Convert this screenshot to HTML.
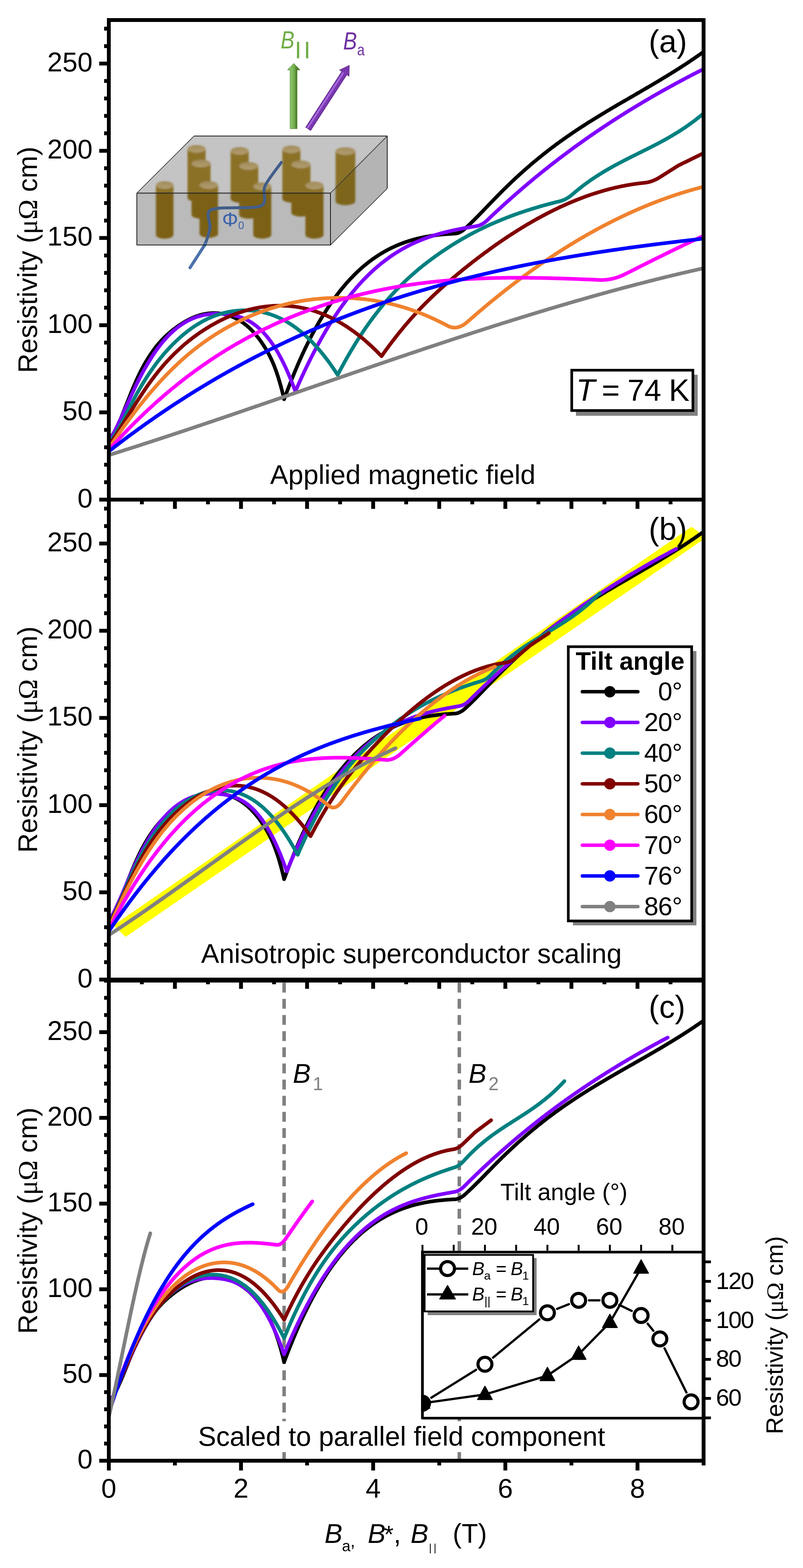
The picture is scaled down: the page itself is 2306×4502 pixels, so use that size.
<!DOCTYPE html><html><head><meta charset="utf-8"><style>html,body{margin:0;padding:0;background:#fff}svg{display:block}</style></head><body>
<svg width="2306" height="4502" viewBox="0 0 2306 4502" font-family="Liberation Sans, Arial, sans-serif">
<rect width="100%" height="100%" fill="#fff"/>
<defs>
<clipPath id="clipa"><rect x="318" y="63.0" width="1697" height="1366.0"/></clipPath>
<clipPath id="clipb"><rect x="318" y="1440.0" width="1697" height="1367.0"/></clipPath>
<clipPath id="clipc"><rect x="318" y="2821.3" width="1697" height="1367.2"/></clipPath>
<filter id="blur" x="-20%" y="-20%" width="140%" height="140%"><feGaussianBlur stdDeviation="2.8"/></filter>
</defs>
<polygon points="325.6,2657 360.9,2689.9 2028.4,1542.9 1985.7,1512.4" fill="#FFFF00"/>
<line x1="815.9" y1="2815.8" x2="815.9" y2="4194" stroke="#808080" stroke-width="10" stroke-dasharray="28.2 18.17" stroke-dashoffset="-5.8"/>
<line x1="1319.0" y1="2815.8" x2="1319.0" y2="4194" stroke="#808080" stroke-width="10" stroke-dasharray="28.2 18.17" stroke-dashoffset="-5.8"/>
<g clip-path="url(#clipa)" fill="none" stroke-width="10.5" stroke-linejoin="round" stroke-linecap="round">
<path d="M312.5,1260.2L316.3,1256.9L320.1,1252.5L323.9,1247.3L327.7,1241.2L331.5,1234.4L335.3,1226.9L339.1,1218.9L342.9,1210.4L346.7,1201.6L350.5,1192.4L354.3,1183.2L358.0,1173.7L361.8,1164.2L365.6,1154.7L369.4,1145.2L373.2,1135.7L377.0,1126.3L380.8,1117.1L384.6,1108.0L388.4,1099.2L392.2,1090.7L396.0,1082.5L399.8,1074.5L403.6,1066.9L407.4,1059.5L411.2,1052.4L415.0,1045.5L418.8,1038.9L422.6,1032.6L426.4,1026.5L430.2,1020.6L434.0,1014.9L437.8,1009.5L441.6,1004.2L445.3,999.2L449.1,994.3L452.9,989.7L456.7,985.2L460.5,980.9L464.3,976.8L468.1,972.8L471.9,968.9L475.7,965.2L479.5,961.7L483.3,958.3L487.1,955.0L490.9,951.8L494.7,948.7L498.5,945.7L502.3,942.8L506.1,940.0L509.9,937.2L513.7,934.6L517.5,932.1L521.3,929.6L525.1,927.2L528.8,924.9L532.6,922.7L536.4,920.6L540.2,918.6L544.0,916.7L547.8,914.8L551.6,913.1L555.4,911.5L559.2,909.9L563.0,908.5L566.8,907.1L570.6,905.9L574.4,904.7L578.2,903.7L582.0,902.7L585.8,901.9L589.6,901.1L593.4,900.5L597.2,899.9L601.0,899.5L604.8,899.2L608.6,898.9L612.4,898.8L616.1,898.8L619.9,898.9L623.7,899.1L627.5,899.4L631.3,899.9L635.1,900.4L638.9,901.1L642.7,901.8L646.5,902.7L650.3,903.7L654.1,904.8L657.9,906.1L661.7,907.4L665.5,908.9L669.3,910.5L673.1,912.2L676.9,914.0L680.7,916.0L684.5,918.1L688.3,920.3L692.1,922.7L695.9,925.3L699.7,928.0L703.4,930.8L707.2,933.8L711.0,937.0L714.8,940.4L718.6,944.0L722.4,947.8L726.2,951.7L730.0,955.9L733.8,960.2L737.6,964.8L741.4,969.6L745.2,974.6L749.0,979.9L752.8,985.4L756.6,991.1L760.4,997.1L764.2,1003.3L768.0,1009.8L771.8,1016.8L775.6,1024.1L779.4,1032.0L783.2,1040.4L787.0,1049.5L790.7,1059.3L794.5,1069.8L798.3,1081.2L802.1,1093.5L805.9,1106.7L809.7,1121.0L813.5,1136.3L815.9,1146.5L819.7,1136.2L823.5,1126.0L827.3,1116.0L831.1,1106.1L834.9,1096.4L838.7,1086.9L842.5,1077.5L846.3,1068.3L850.1,1059.3L853.8,1050.4L857.6,1041.6L861.4,1033.0L865.2,1024.6L869.0,1016.3L872.8,1008.1L876.6,1000.1L880.4,992.3L884.2,984.5L888.0,977.0L891.8,969.5L895.6,962.2L899.4,955.0L903.2,948.0L907.0,941.1L910.8,934.3L914.6,927.6L918.4,921.1L922.2,914.7L926.0,908.4L929.8,902.2L933.6,896.2L937.4,890.2L941.1,884.4L944.9,878.7L948.7,873.1L952.5,867.6L956.3,862.2L960.1,856.9L963.9,851.7L967.7,846.7L971.5,841.7L975.3,836.8L979.1,832.1L982.9,827.4L986.7,822.8L990.5,818.3L994.3,813.9L998.1,809.6L1001.9,805.4L1005.7,801.3L1009.5,797.3L1013.3,793.4L1017.1,789.5L1020.9,785.7L1024.6,782.1L1028.4,778.5L1032.2,775.0L1036.0,771.5L1039.8,768.2L1043.6,764.9L1047.4,761.7L1051.2,758.6L1055.0,755.6L1058.8,752.6L1062.6,749.7L1066.4,746.9L1070.2,744.1L1074.0,741.4L1077.8,738.8L1081.6,736.3L1085.4,733.8L1089.2,731.4L1093.0,729.0L1096.8,726.7L1100.6,724.5L1104.4,722.3L1108.2,720.2L1111.9,718.1L1115.7,716.1L1119.5,714.2L1123.3,712.3L1127.1,710.5L1130.9,708.7L1134.7,707.0L1138.5,705.3L1142.3,703.7L1146.1,702.1L1149.9,700.6L1153.7,699.1L1157.5,697.7L1161.3,696.3L1165.1,694.9L1168.9,693.7L1172.7,692.4L1176.5,691.2L1180.3,690.1L1184.1,688.9L1187.9,687.9L1191.7,686.8L1195.5,685.8L1199.2,684.9L1203.0,684.0L1206.8,683.1L1210.6,682.3L1214.4,681.4L1218.2,680.7L1222.0,679.9L1225.8,679.2L1229.6,678.6L1233.4,677.9L1237.2,677.3L1241.0,676.8L1244.8,676.2L1248.6,675.7L1252.4,675.2L1256.2,674.7L1260.0,674.3L1263.8,673.9L1267.6,673.5L1271.4,673.1L1275.2,672.8L1279.0,672.5L1282.8,672.2L1286.5,671.9L1290.3,671.7L1294.1,671.4L1297.9,671.2L1301.7,671.0L1305.5,670.8L1309.2,670.5L1312.9,669.7L1316.6,668.6L1320.4,667.0L1324.1,665.0L1327.9,662.6L1331.6,659.8L1335.4,656.6L1339.2,653.1L1343.0,649.5L1346.8,645.9L1350.6,642.2L1354.4,638.5L1358.2,634.8L1362.0,631.0L1365.8,627.2L1369.6,623.3L1373.4,619.5L1377.2,615.6L1381.0,611.7L1384.8,607.8L1388.6,603.9L1392.3,600.0L1396.1,596.0L1399.9,592.1L1403.7,588.1L1407.5,584.2L1411.3,580.2L1415.1,576.3L1418.9,572.4L1422.7,568.5L1426.5,564.6L1430.3,560.7L1434.1,556.9L1437.9,553.0L1441.7,549.2L1445.5,545.4L1449.3,541.7L1453.1,538.0L1456.9,534.3L1460.7,530.6L1464.5,526.9L1468.3,523.3L1472.1,519.7L1475.9,516.1L1479.6,512.6L1483.4,509.1L1487.2,505.6L1491.0,502.1L1494.8,498.7L1498.6,495.3L1502.4,491.9L1506.2,488.5L1510.0,485.2L1513.8,481.9L1517.6,478.6L1521.4,475.3L1525.2,472.1L1529.0,468.8L1532.8,465.6L1536.6,462.5L1540.4,459.3L1544.2,456.2L1548.0,453.1L1551.8,450.0L1555.6,447.0L1559.4,443.9L1563.2,440.9L1566.9,437.9L1570.7,435.0L1574.5,432.0L1578.3,429.1L1582.1,426.2L1585.9,423.3L1589.7,420.5L1593.5,417.6L1597.3,414.8L1601.1,412.0L1604.9,409.3L1608.7,406.5L1612.5,403.8L1616.3,401.1L1620.1,398.4L1623.9,395.7L1627.7,393.0L1631.5,390.4L1635.3,387.8L1639.1,385.2L1642.9,382.6L1646.7,380.0L1650.4,377.5L1654.2,374.9L1658.0,372.4L1661.8,369.9L1665.6,367.4L1669.4,364.9L1673.2,362.5L1677.0,360.0L1680.8,357.6L1684.6,355.2L1688.4,352.7L1692.2,350.3L1696.0,348.0L1699.8,345.6L1703.6,343.2L1707.4,340.9L1711.2,338.5L1715.0,336.2L1718.8,333.9L1722.6,331.5L1726.4,329.2L1730.2,326.9L1734.0,324.7L1737.7,322.4L1741.5,320.1L1745.3,317.8L1749.1,315.6L1752.9,313.3L1756.7,311.1L1760.5,308.8L1764.3,306.6L1768.1,304.4L1771.9,302.1L1775.7,299.9L1779.5,297.7L1783.3,295.5L1787.1,293.3L1790.9,291.1L1794.7,288.9L1798.5,286.7L1802.3,284.5L1806.1,282.3L1809.9,280.1L1813.7,277.9L1817.5,275.7L1821.3,273.5L1825.0,271.3L1828.8,269.1L1832.6,266.9L1836.4,264.7L1840.2,262.5L1844.0,260.2L1847.8,258.0L1851.6,255.8L1855.4,253.6L1859.2,251.4L1863.0,249.2L1866.8,246.9L1870.6,244.7L1874.4,242.5L1878.2,240.2L1882.0,238.0L1885.8,235.7L1889.6,233.5L1893.4,231.2L1897.2,228.9L1901.0,226.6L1904.8,224.3L1908.5,222.0L1912.3,219.7L1916.1,217.4L1919.9,215.1L1923.7,212.8L1927.5,210.4L1931.3,208.0L1935.1,205.7L1938.9,203.3L1942.7,200.9L1946.5,198.5L1950.3,196.1L1954.1,193.7L1957.9,191.2L1961.7,188.8L1965.5,186.3L1969.3,183.8L1973.1,181.3L1976.9,178.8L1980.7,176.3L1984.5,173.7L1988.3,171.2L1992.1,168.6L1995.8,166.0L1999.6,163.4L2003.4,160.8L2007.2,158.1L2011.0,155.5L2014.8,152.8L2018.6,150.1L2020.5,148.7" stroke="#000000"/>
<path d="M312.5,1269.8L316.3,1263.2L320.1,1256.2L323.9,1249.1L327.7,1241.7L331.5,1234.1L335.3,1226.3L339.1,1218.4L342.9,1210.3L346.7,1202.1L350.5,1193.9L354.3,1185.5L358.0,1177.1L361.8,1168.7L365.6,1160.3L369.4,1151.9L373.2,1143.6L377.0,1135.3L380.8,1127.1L384.6,1119.0L388.4,1111.0L392.2,1103.2L396.0,1095.6L399.8,1088.1L403.6,1080.8L407.4,1073.6L411.2,1066.6L415.0,1059.8L418.8,1053.1L422.6,1046.6L426.4,1040.3L430.2,1034.1L434.0,1028.1L437.8,1022.2L441.6,1016.5L445.3,1011.0L449.1,1005.6L452.9,1000.3L456.7,995.3L460.5,990.4L464.3,985.6L468.1,981.0L471.9,976.6L475.7,972.3L479.5,968.1L483.3,964.2L487.1,960.3L490.9,956.6L494.7,953.1L498.5,949.6L502.3,946.4L506.1,943.2L509.9,940.2L513.7,937.3L517.5,934.6L521.3,932.0L525.1,929.5L528.8,927.1L532.6,924.8L536.4,922.7L540.2,920.6L544.0,918.7L547.8,916.9L551.6,915.2L555.4,913.7L559.2,912.2L563.0,910.8L566.8,909.5L570.6,908.3L574.4,907.3L578.2,906.3L582.0,905.4L585.8,904.5L589.6,903.8L593.4,903.2L597.2,902.6L601.0,902.1L604.8,901.7L608.6,901.4L612.4,901.2L616.1,901.0L619.9,900.9L623.7,900.8L627.5,900.9L631.3,900.9L635.1,901.1L638.9,901.3L642.7,901.5L646.5,901.9L650.3,902.2L654.1,902.6L657.9,903.1L661.7,903.7L665.5,904.3L669.3,905.0L673.1,905.8L676.9,906.7L680.7,907.7L684.5,908.8L688.3,909.9L692.1,911.2L695.9,912.6L699.7,914.2L703.4,915.8L707.2,917.6L711.0,919.5L714.8,921.6L718.6,923.8L722.4,926.1L726.2,928.6L730.0,931.3L733.8,934.2L737.6,937.2L741.4,940.4L745.2,943.7L749.0,947.3L752.8,951.0L756.6,955.0L760.4,959.1L764.2,963.5L768.0,968.1L771.8,972.9L775.6,977.9L779.4,983.1L783.2,988.6L787.0,994.3L790.7,1000.3L794.5,1006.5L798.3,1012.9L802.1,1019.7L805.9,1026.6L809.7,1033.9L813.5,1041.4L817.3,1049.2L821.1,1057.3L824.9,1065.7L828.7,1074.4L832.5,1083.4L836.3,1092.7L840.1,1102.3L843.9,1112.2L847.7,1122.4L848.2,1124.0L852.0,1115.2L855.8,1106.6L859.6,1098.0L863.4,1089.6L867.2,1081.3L871.0,1073.1L874.8,1065.0L878.6,1057.0L882.4,1049.2L886.2,1041.4L890.0,1033.8L893.8,1026.2L897.6,1018.8L901.4,1011.4L905.2,1004.2L909.0,997.0L912.8,990.0L916.6,983.1L920.4,976.2L924.2,969.5L928.0,962.9L931.8,956.3L935.5,949.9L939.3,943.5L943.1,937.3L946.9,931.1L950.7,925.1L954.5,919.1L958.3,913.2L962.1,907.5L965.9,901.8L969.7,896.2L973.5,890.6L977.3,885.2L981.1,879.9L984.9,874.6L988.7,869.5L992.5,864.4L996.3,859.4L1000.1,854.5L1003.9,849.6L1007.7,844.9L1011.5,840.2L1015.3,835.6L1019.1,831.1L1022.8,826.7L1026.6,822.3L1030.4,818.1L1034.2,813.9L1038.0,809.7L1041.8,805.7L1045.6,801.7L1049.4,797.8L1053.2,794.0L1057.0,790.2L1060.8,786.5L1064.6,782.9L1068.4,779.4L1072.2,775.9L1076.0,772.5L1079.8,769.1L1083.6,765.8L1087.4,762.6L1091.2,759.5L1095.0,756.4L1098.8,753.4L1102.6,750.4L1106.3,747.5L1110.1,744.7L1113.9,741.9L1117.7,739.2L1121.5,736.5L1125.3,733.9L1129.1,731.3L1132.9,728.8L1136.7,726.4L1140.5,724.0L1144.3,721.7L1148.1,719.4L1151.9,717.2L1155.7,715.0L1159.5,712.8L1163.3,710.8L1167.1,708.7L1170.9,706.7L1174.7,704.8L1178.5,702.9L1182.3,701.1L1186.1,699.3L1189.9,697.5L1193.6,695.8L1197.4,694.1L1201.2,692.5L1205.0,690.9L1208.8,689.3L1212.6,687.8L1216.4,686.3L1220.2,684.9L1224.0,683.5L1227.8,682.1L1231.6,680.8L1235.4,679.5L1239.2,678.2L1243.0,677.0L1246.8,675.8L1250.6,674.6L1254.4,673.5L1258.2,672.4L1262.0,671.3L1265.8,670.2L1269.6,669.2L1273.4,668.2L1277.2,667.2L1280.9,666.3L1284.7,665.3L1288.5,664.4L1292.3,663.5L1296.1,662.7L1299.9,661.8L1303.7,661.0L1307.5,660.2L1311.3,659.4L1315.1,658.7L1318.9,657.9L1322.7,657.2L1326.5,656.4L1330.3,655.7L1334.1,655.0L1337.9,654.4L1341.7,653.7L1345.5,653.0L1349.3,652.4L1353.1,651.7L1356.9,651.1L1360.7,650.5L1364.5,649.9L1368.2,649.2L1371.8,648.5L1375.3,647.5L1378.8,646.2L1382.3,644.6L1385.7,642.7L1389.2,640.5L1392.6,638.0L1396.0,635.2L1399.4,632.1L1403.2,628.5L1407.0,624.9L1410.8,621.3L1414.6,617.7L1418.3,614.2L1422.1,610.6L1425.9,607.1L1429.7,603.6L1433.5,600.1L1437.3,596.6L1441.1,593.1L1444.9,589.7L1448.7,586.2L1452.5,582.8L1456.3,579.4L1460.1,576.0L1463.9,572.6L1467.7,569.2L1471.5,565.8L1475.3,562.5L1479.1,559.2L1482.9,555.8L1486.7,552.5L1490.5,549.2L1494.3,546.0L1498.1,542.7L1501.9,539.4L1505.6,536.2L1509.4,533.0L1513.2,529.8L1517.0,526.6L1520.8,523.4L1524.6,520.2L1528.4,517.0L1532.2,513.9L1536.0,510.8L1539.8,507.6L1543.6,504.5L1547.4,501.4L1551.2,498.4L1555.0,495.3L1558.8,492.2L1562.6,489.2L1566.4,486.2L1570.2,483.1L1574.0,480.1L1577.8,477.1L1581.6,474.2L1585.4,471.2L1589.2,468.2L1592.9,465.3L1596.7,462.4L1600.5,459.4L1604.3,456.5L1608.1,453.6L1611.9,450.7L1615.7,447.9L1619.5,445.0L1623.3,442.2L1627.1,439.3L1630.9,436.5L1634.7,433.7L1638.5,430.9L1642.3,428.1L1646.1,425.3L1649.9,422.5L1653.7,419.8L1657.5,417.0L1661.3,414.3L1665.1,411.6L1668.9,408.9L1672.7,406.2L1676.4,403.5L1680.2,400.8L1684.0,398.1L1687.8,395.5L1691.6,392.8L1695.4,390.2L1699.2,387.6L1703.0,384.9L1706.8,382.3L1710.6,379.7L1714.4,377.2L1718.2,374.6L1722.0,372.0L1725.8,369.5L1729.6,366.9L1733.4,364.4L1737.2,361.9L1741.0,359.4L1744.8,356.9L1748.6,354.4L1752.4,351.9L1756.2,349.4L1760.0,346.9L1763.7,344.5L1767.5,342.0L1771.3,339.6L1775.1,337.2L1778.9,334.8L1782.7,332.4L1786.5,330.0L1790.3,327.6L1794.1,325.2L1797.9,322.8L1801.7,320.5L1805.5,318.1L1809.3,315.8L1813.1,313.5L1816.9,311.1L1820.7,308.8L1824.5,306.5L1828.3,304.2L1832.1,301.9L1835.9,299.7L1839.7,297.4L1843.5,295.1L1847.3,292.9L1851.0,290.6L1854.8,288.4L1858.6,286.2L1862.4,283.9L1866.2,281.7L1870.0,279.5L1873.8,277.3L1877.6,275.1L1881.4,273.0L1885.2,270.8L1889.0,268.6L1892.8,266.5L1896.6,264.3L1900.4,262.2L1904.2,260.1L1908.0,257.9L1911.8,255.8L1915.6,253.7L1919.4,251.6L1923.2,249.5L1927.0,247.4L1930.8,245.3L1934.5,243.3L1938.3,241.2L1942.1,239.1L1945.9,237.1L1949.7,235.0L1953.5,233.0L1957.3,231.0L1961.1,229.0L1964.9,226.9L1968.7,224.9L1972.5,222.9L1976.3,220.9L1980.1,218.9L1983.9,217.0L1987.7,215.0L1991.5,213.0L1995.3,211.0L1999.1,209.1L2002.9,207.1L2006.7,205.2L2010.5,203.3L2014.3,201.3L2018.1,199.4L2020.5,198.1" stroke="#8000FF"/>
<path d="M312.5,1273.7L316.3,1268.6L320.1,1263.1L323.9,1257.4L327.7,1251.4L331.5,1245.2L335.3,1238.8L339.1,1232.1L342.9,1225.3L346.7,1218.4L350.5,1211.3L354.3,1204.1L358.0,1196.9L361.8,1189.6L365.6,1182.2L369.4,1174.9L373.2,1167.5L377.0,1160.2L380.8,1153.0L384.6,1145.8L388.4,1138.8L392.2,1131.9L396.0,1125.1L399.8,1118.4L403.6,1111.9L407.4,1105.5L411.2,1099.2L415.0,1093.1L418.8,1087.1L422.6,1081.2L426.4,1075.4L430.2,1069.8L434.0,1064.2L437.8,1058.8L441.6,1053.5L445.3,1048.3L449.1,1043.2L452.9,1038.3L456.7,1033.4L460.5,1028.7L464.3,1024.0L468.1,1019.4L471.9,1015.0L475.7,1010.6L479.5,1006.4L483.3,1002.2L487.1,998.1L490.9,994.1L494.7,990.2L498.5,986.4L502.3,982.7L506.1,979.0L509.9,975.5L513.7,972.0L517.5,968.6L521.3,965.2L525.1,962.0L528.8,958.8L532.6,955.8L536.4,952.8L540.2,949.8L544.0,947.0L547.8,944.2L551.6,941.5L555.4,938.9L559.2,936.3L563.0,933.9L566.8,931.5L570.6,929.2L574.4,926.9L578.2,924.7L582.0,922.6L585.8,920.6L589.6,918.7L593.4,916.8L597.2,915.0L601.0,913.2L604.8,911.6L608.6,910.0L612.4,908.4L616.1,907.0L619.9,905.6L623.7,904.2L627.5,903.0L631.3,901.8L635.1,900.6L638.9,899.6L642.7,898.6L646.5,897.6L650.3,896.8L654.1,896.0L657.9,895.2L661.7,894.5L665.5,893.9L669.3,893.3L673.1,892.8L676.9,892.4L680.7,892.0L684.5,891.7L688.3,891.5L692.1,891.3L695.9,891.1L699.7,891.0L703.4,891.0L707.2,891.0L711.0,891.1L714.8,891.3L718.6,891.5L722.4,891.7L726.2,892.1L730.0,892.5L733.8,892.9L737.6,893.4L741.4,894.0L745.2,894.7L749.0,895.4L752.8,896.2L756.6,897.0L760.4,897.9L764.2,898.9L768.0,900.0L771.8,901.1L775.6,902.3L779.4,903.6L783.2,904.9L787.0,906.4L790.7,907.8L794.5,909.4L798.3,911.1L802.1,912.8L805.9,914.6L809.7,916.4L813.5,918.4L817.3,920.4L821.1,922.5L824.9,924.7L828.7,927.0L832.5,929.4L836.3,931.8L840.1,934.3L843.9,937.0L847.7,939.6L851.5,942.4L855.3,945.3L859.1,948.3L862.9,951.3L866.7,954.4L870.5,957.7L874.2,961.0L878.0,964.4L881.8,967.9L885.6,971.5L889.4,975.2L893.2,978.9L897.0,982.8L900.8,986.8L904.6,990.9L908.4,995.0L912.2,999.3L916.0,1003.7L919.8,1008.1L923.6,1012.7L927.4,1017.4L931.2,1022.1L935.0,1027.0L938.8,1032.0L942.6,1037.0L946.4,1042.2L950.2,1047.5L954.0,1052.9L957.8,1058.4L961.5,1064.0L965.3,1069.8L969.1,1075.6L969.7,1076.4L973.5,1069.1L977.3,1061.9L981.1,1054.9L984.9,1047.9L988.7,1041.0L992.5,1034.2L996.3,1027.4L1000.1,1020.8L1003.9,1014.3L1007.7,1007.8L1011.5,1001.5L1015.3,995.2L1019.1,989.0L1022.8,982.9L1026.6,976.9L1030.4,970.9L1034.2,965.1L1038.0,959.3L1041.8,953.6L1045.6,948.0L1049.4,942.4L1053.2,937.0L1057.0,931.6L1060.8,926.2L1064.6,921.0L1068.4,915.8L1072.2,910.7L1076.0,905.7L1079.8,900.8L1083.6,895.9L1087.4,891.0L1091.2,886.3L1095.0,881.6L1098.8,877.0L1102.6,872.4L1106.3,867.9L1110.1,863.5L1113.9,859.2L1117.7,854.8L1121.5,850.6L1125.3,846.4L1129.1,842.3L1132.9,838.2L1136.7,834.2L1140.5,830.3L1144.3,826.4L1148.1,822.5L1151.9,818.7L1155.7,815.0L1159.5,811.3L1163.3,807.6L1167.1,804.0L1170.9,800.5L1174.7,797.0L1178.5,793.6L1182.3,790.2L1186.1,786.8L1189.9,783.5L1193.6,780.2L1197.4,777.0L1201.2,773.8L1205.0,770.6L1208.8,767.5L1212.6,764.5L1216.4,761.4L1220.2,758.4L1224.0,755.5L1227.8,752.5L1231.6,749.7L1235.4,746.8L1239.2,744.0L1243.0,741.2L1246.8,738.4L1250.6,735.7L1254.4,733.0L1258.2,730.3L1262.0,727.6L1265.8,725.0L1269.6,722.4L1273.4,719.8L1277.2,717.3L1280.9,714.8L1284.7,712.3L1288.5,709.8L1292.3,707.4L1296.1,705.0L1299.9,702.6L1303.7,700.2L1307.5,697.9L1311.3,695.6L1315.1,693.3L1318.9,691.1L1322.7,688.8L1326.5,686.6L1330.3,684.4L1334.1,682.3L1337.9,680.2L1341.7,678.0L1345.5,676.0L1349.3,673.9L1353.1,671.9L1356.9,669.8L1360.7,667.8L1364.5,665.9L1368.2,663.9L1372.0,662.0L1375.8,660.1L1379.6,658.2L1383.4,656.4L1387.2,654.5L1391.0,652.7L1394.8,650.9L1398.6,649.1L1402.4,647.4L1406.2,645.6L1410.0,643.9L1413.8,642.2L1417.6,640.6L1421.4,638.9L1425.2,637.3L1429.0,635.7L1432.8,634.1L1436.6,632.5L1440.4,630.9L1444.2,629.4L1448.0,627.9L1451.7,626.4L1455.5,624.9L1459.3,623.4L1463.1,622.0L1466.9,620.5L1470.7,619.1L1474.5,617.7L1478.3,616.3L1482.1,615.0L1485.9,613.6L1489.7,612.3L1493.5,611.0L1497.3,609.7L1501.1,608.4L1504.9,607.1L1508.7,605.8L1512.5,604.6L1516.3,603.4L1520.1,602.2L1523.9,601.0L1527.7,599.8L1531.5,598.6L1535.3,597.5L1539.0,596.3L1542.8,595.2L1546.6,594.1L1550.4,593.0L1554.2,591.9L1558.0,590.8L1561.8,589.7L1565.6,588.7L1569.4,587.6L1573.2,586.6L1577.0,585.6L1580.8,584.6L1584.6,583.6L1588.4,582.6L1592.2,581.6L1596.0,580.7L1599.8,579.7L1603.6,578.8L1607.4,577.8L1611.0,576.9L1614.6,575.7L1618.2,574.4L1621.7,572.8L1625.3,571.0L1628.8,569.0L1632.3,566.8L1635.9,564.4L1639.3,561.8L1642.8,559.0L1646.3,556.0L1650.1,552.8L1653.9,549.6L1657.7,546.5L1661.5,543.4L1665.3,540.4L1669.0,537.4L1672.8,534.4L1676.6,531.6L1680.4,528.7L1684.2,525.9L1688.0,523.2L1691.8,520.5L1695.6,517.8L1699.4,515.2L1703.2,512.6L1707.0,510.1L1710.8,507.6L1714.6,505.1L1718.4,502.7L1722.2,500.3L1726.0,498.0L1729.8,495.6L1733.6,493.3L1737.4,491.1L1741.2,488.8L1745.0,486.6L1748.8,484.4L1752.6,482.3L1756.3,480.1L1760.1,478.0L1763.9,475.9L1767.7,473.9L1771.5,471.8L1775.3,469.8L1779.1,467.8L1782.9,465.8L1786.7,463.8L1790.5,461.9L1794.3,459.9L1798.1,458.0L1801.9,456.0L1805.7,454.1L1809.5,452.2L1813.3,450.3L1817.1,448.4L1820.9,446.5L1824.7,444.6L1828.5,442.8L1832.3,440.9L1836.1,439.0L1839.8,437.1L1843.6,435.2L1847.4,433.3L1851.2,431.5L1855.0,429.6L1858.8,427.7L1862.6,425.8L1866.4,423.8L1870.2,421.9L1874.0,420.0L1877.8,418.0L1881.6,416.1L1885.4,414.1L1889.2,412.1L1893.0,410.1L1896.8,408.1L1900.6,406.0L1904.4,404.0L1908.2,401.9L1912.0,399.8L1915.8,397.6L1919.6,395.5L1923.4,393.3L1927.1,391.1L1930.9,388.9L1934.7,386.6L1938.5,384.3L1942.3,382.0L1946.1,379.7L1949.9,377.3L1953.7,374.8L1957.5,372.4L1961.3,369.9L1965.1,367.4L1968.9,364.8L1972.7,362.2L1976.5,359.5L1980.3,356.8L1984.1,354.1L1987.9,351.3L1991.7,348.5L1995.5,345.6L1999.3,342.7L2003.1,339.7L2006.9,336.7L2010.7,333.6L2014.4,330.5L2018.2,327.3L2020.5,325.4" stroke="#008080"/>
<path d="M312.5,1280.0L316.3,1274.5L320.1,1268.8L323.9,1263.1L327.7,1257.3L331.5,1251.5L335.3,1245.6L339.1,1239.6L342.9,1233.6L346.7,1227.6L350.5,1221.6L354.3,1215.5L358.0,1209.4L361.8,1203.3L365.6,1197.2L369.4,1191.1L373.2,1185.0L377.0,1178.9L380.8,1172.9L384.6,1166.9L388.4,1160.9L392.2,1154.9L396.0,1149.0L399.8,1143.1L403.6,1137.3L407.4,1131.5L411.2,1125.8L415.0,1120.2L418.8,1114.6L422.6,1109.1L426.4,1103.8L430.2,1098.5L434.0,1093.3L437.8,1088.2L441.6,1083.2L445.3,1078.2L449.1,1073.4L452.9,1068.6L456.7,1064.0L460.5,1059.4L464.3,1054.9L468.1,1050.4L471.9,1046.1L475.7,1041.8L479.5,1037.6L483.3,1033.5L487.1,1029.5L490.9,1025.5L494.7,1021.7L498.5,1017.8L502.3,1014.1L506.1,1010.4L509.9,1006.8L513.7,1003.3L517.5,999.8L521.3,996.4L525.1,993.1L528.8,989.8L532.6,986.6L536.4,983.4L540.2,980.3L544.0,977.3L547.8,974.3L551.6,971.4L555.4,968.5L559.2,965.7L563.0,962.9L566.8,960.2L570.6,957.5L574.4,954.9L578.2,952.3L582.0,949.8L585.8,947.4L589.6,944.9L593.4,942.5L597.2,940.2L601.0,937.9L604.8,935.6L608.6,933.4L612.4,931.3L616.1,929.2L619.9,927.1L623.7,925.0L627.5,923.1L631.3,921.1L635.1,919.2L638.9,917.4L642.7,915.5L646.5,913.8L650.3,912.0L654.1,910.4L657.9,908.7L661.7,907.1L665.5,905.6L669.3,904.1L673.1,902.6L676.9,901.2L680.7,899.8L684.5,898.4L688.3,897.1L692.1,895.9L695.9,894.7L699.7,893.5L703.4,892.4L707.2,891.3L711.0,890.2L714.8,889.2L718.6,888.3L722.4,887.4L726.2,886.5L730.0,885.7L733.8,884.9L737.6,884.1L741.4,883.4L745.2,882.7L749.0,882.1L752.8,881.5L756.6,881.0L760.4,880.5L764.2,880.0L768.0,879.6L771.8,879.2L775.6,878.9L779.4,878.6L783.2,878.3L787.0,878.1L790.7,877.9L794.5,877.8L798.3,877.7L802.1,877.7L805.9,877.7L809.7,877.7L813.5,877.8L817.3,877.9L821.1,878.1L824.9,878.3L828.7,878.6L832.5,878.9L836.3,879.3L840.1,879.7L843.9,880.1L847.7,880.6L851.5,881.1L855.3,881.7L859.1,882.4L862.9,883.0L866.7,883.8L870.5,884.5L874.2,885.3L878.0,886.2L881.8,887.1L885.6,888.1L889.4,889.1L893.2,890.2L897.0,891.3L900.8,892.4L904.6,893.6L908.4,894.9L912.2,896.2L916.0,897.6L919.8,899.0L923.6,900.4L927.4,901.9L931.2,903.5L935.0,905.1L938.8,906.7L942.6,908.4L946.4,910.2L950.2,912.0L954.0,913.9L957.8,915.8L961.5,917.8L965.3,919.8L969.1,921.9L972.9,924.0L976.7,926.2L980.5,928.4L984.3,930.7L988.1,933.1L991.9,935.4L995.7,937.9L999.5,940.4L1003.3,943.0L1007.1,945.6L1010.9,948.3L1014.7,951.0L1018.5,953.8L1022.3,956.6L1026.1,959.5L1029.9,962.5L1033.7,965.5L1037.5,968.5L1041.3,971.6L1045.1,974.8L1048.8,978.1L1052.6,981.4L1056.4,984.7L1060.2,988.1L1064.0,991.6L1067.8,995.1L1071.6,998.7L1075.4,1002.4L1079.2,1006.1L1083.0,1009.8L1086.8,1013.7L1090.6,1017.5L1094.4,1021.5L1095.7,1022.8L1099.5,1017.4L1103.3,1012.0L1107.1,1006.7L1110.9,1001.5L1114.7,996.3L1118.5,991.2L1122.3,986.1L1126.1,981.1L1129.9,976.1L1133.7,971.2L1137.5,966.4L1141.3,961.6L1145.1,956.8L1148.9,952.1L1152.7,947.5L1156.5,942.9L1160.2,938.3L1164.0,933.8L1167.8,929.4L1171.6,925.0L1175.4,920.6L1179.2,916.3L1183.0,912.1L1186.8,907.8L1190.6,903.7L1194.4,899.5L1198.2,895.4L1202.0,891.4L1205.8,887.4L1209.6,883.4L1213.4,879.5L1217.2,875.6L1221.0,871.8L1224.8,867.9L1228.6,864.2L1232.4,860.4L1236.2,856.7L1240.0,853.0L1243.8,849.4L1247.5,845.8L1251.3,842.2L1255.1,838.7L1258.9,835.2L1262.7,831.7L1266.5,828.2L1270.3,824.8L1274.1,821.4L1277.9,818.0L1281.7,814.7L1285.5,811.4L1289.3,808.1L1293.1,804.8L1296.9,801.6L1300.7,798.3L1304.5,795.1L1308.3,791.9L1312.1,788.8L1315.9,785.6L1319.7,782.5L1323.5,779.4L1327.3,776.3L1331.0,773.2L1334.8,770.2L1338.6,767.1L1342.4,764.1L1346.2,761.1L1350.0,758.1L1353.8,755.1L1357.6,752.2L1361.4,749.2L1365.2,746.3L1369.0,743.4L1372.8,740.5L1376.6,737.6L1380.4,734.7L1384.2,731.9L1388.0,729.1L1391.8,726.2L1395.6,723.4L1399.4,720.7L1403.2,717.9L1407.0,715.1L1410.8,712.4L1414.6,709.7L1418.3,707.0L1422.1,704.3L1425.9,701.6L1429.7,699.0L1433.5,696.4L1437.3,693.7L1441.1,691.1L1444.9,688.6L1448.7,686.0L1452.5,683.5L1456.3,680.9L1460.1,678.4L1463.9,675.9L1467.7,673.5L1471.5,671.0L1475.3,668.6L1479.1,666.1L1482.9,663.7L1486.7,661.3L1490.5,659.0L1494.3,656.6L1498.1,654.3L1501.9,652.0L1505.6,649.7L1509.4,647.4L1513.2,645.1L1517.0,642.9L1520.8,640.7L1524.6,638.5L1528.4,636.3L1532.2,634.1L1536.0,632.0L1539.8,629.8L1543.6,627.7L1547.4,625.6L1551.2,623.6L1555.0,621.5L1558.8,619.5L1562.6,617.5L1566.4,615.5L1570.2,613.5L1574.0,611.5L1577.8,609.6L1581.6,607.7L1585.4,605.8L1589.2,603.9L1592.9,602.0L1596.7,600.2L1600.5,598.4L1604.3,596.6L1608.1,594.8L1611.9,593.0L1615.7,591.3L1619.5,589.6L1623.3,587.9L1627.1,586.2L1630.9,584.5L1634.7,582.9L1638.5,581.3L1642.3,579.7L1646.1,578.1L1649.9,576.5L1653.7,575.0L1657.5,573.5L1661.3,572.0L1665.1,570.5L1668.9,569.0L1672.7,567.6L1676.4,566.2L1680.2,564.8L1684.0,563.4L1687.8,562.1L1691.6,560.7L1695.4,559.4L1699.2,558.1L1703.0,556.9L1706.8,555.6L1710.6,554.4L1714.4,553.2L1718.2,552.0L1722.0,550.9L1725.8,549.7L1729.6,548.6L1733.4,547.5L1737.2,546.4L1741.0,545.4L1744.8,544.4L1748.6,543.4L1752.4,542.4L1756.2,541.4L1760.0,540.5L1763.7,539.6L1767.5,538.7L1771.3,537.8L1775.1,537.0L1778.9,536.1L1782.7,535.3L1786.5,534.5L1790.3,533.8L1794.1,533.0L1797.9,532.3L1801.7,531.6L1805.5,531.0L1809.3,530.3L1813.1,529.7L1816.9,529.1L1820.7,528.5L1824.5,528.0L1828.3,527.5L1832.1,526.9L1835.9,526.5L1839.7,526.0L1843.5,525.6L1847.3,525.2L1851.0,524.8L1854.6,524.4L1858.2,523.8L1861.9,523.1L1865.5,522.2L1869.1,521.1L1872.8,519.9L1876.5,518.4L1880.2,516.8L1884.0,515.0L1887.7,513.1L1891.5,510.9L1895.3,508.6L1899.1,506.2L1902.9,503.8L1906.7,501.4L1910.4,499.0L1914.2,496.6L1918.0,494.2L1921.8,491.8L1925.6,489.4L1929.4,487.0L1933.2,484.6L1937.0,482.2L1940.8,479.8L1944.6,477.4L1948.4,475.0L1952.2,473.2L1956.0,471.3L1959.8,469.4L1963.6,467.6L1967.4,465.7L1971.2,463.9L1975.0,462.0L1978.8,460.2L1982.6,458.3L1986.4,456.4L1990.2,454.6L1994.0,452.7L1997.7,450.9L2001.5,449.0L2005.3,447.2L2009.1,445.3L2012.9,443.4L2016.7,441.6L2020.5,439.7" stroke="#800000"/>
<path d="M312.5,1287.8L316.3,1282.1L320.1,1276.4L323.9,1270.8L327.7,1265.2L331.5,1259.7L335.3,1254.1L339.1,1248.7L342.9,1243.2L346.7,1237.8L350.5,1232.5L354.3,1227.2L358.0,1221.9L361.8,1216.6L365.6,1211.4L369.4,1206.3L373.2,1201.2L377.0,1196.1L380.8,1191.0L384.6,1186.0L388.4,1181.1L392.2,1176.1L396.0,1171.3L399.8,1166.4L403.6,1161.6L407.4,1156.9L411.2,1152.2L415.0,1147.5L418.8,1142.9L422.6,1138.3L426.4,1133.7L430.2,1129.2L434.0,1124.8L437.8,1120.4L441.6,1116.0L445.3,1111.7L449.1,1107.4L452.9,1103.1L456.7,1098.9L460.5,1094.8L464.3,1090.7L468.1,1086.6L471.9,1082.6L475.7,1078.6L479.5,1074.7L483.3,1070.8L487.1,1067.0L490.9,1063.2L494.7,1059.4L498.5,1055.7L502.3,1052.1L506.1,1048.4L509.9,1044.9L513.7,1041.3L517.5,1037.9L521.3,1034.4L525.1,1031.1L528.8,1027.7L532.6,1024.4L536.4,1021.1L540.2,1017.9L544.0,1014.8L547.8,1011.6L551.6,1008.5L555.4,1005.5L559.2,1002.5L563.0,999.5L566.8,996.6L570.6,993.7L574.4,990.8L578.2,988.0L582.0,985.2L585.8,982.5L589.6,979.8L593.4,977.1L597.2,974.5L601.0,971.9L604.8,969.4L608.6,966.9L612.4,964.4L616.1,961.9L619.9,959.5L623.7,957.1L627.5,954.8L631.3,952.5L635.1,950.2L638.9,948.0L642.7,945.7L646.5,943.6L650.3,941.4L654.1,939.3L657.9,937.2L661.7,935.1L665.5,933.1L669.3,931.1L673.1,929.1L676.9,927.2L680.7,925.3L684.5,923.4L688.3,921.5L692.1,919.7L695.9,917.9L699.7,916.1L703.4,914.4L707.2,912.6L711.0,910.9L714.8,909.3L718.6,907.6L722.4,906.0L726.2,904.4L730.0,902.9L733.8,901.4L737.6,899.9L741.4,898.4L745.2,896.9L749.0,895.5L752.8,894.1L756.6,892.7L760.4,891.4L764.2,890.1L768.0,888.8L771.8,887.5L775.6,886.3L779.4,885.1L783.2,883.9L787.0,882.7L790.7,881.6L794.5,880.5L798.3,879.4L802.1,878.3L805.9,877.3L809.7,876.3L813.5,875.3L817.3,874.3L821.1,873.4L824.9,872.5L828.7,871.6L832.5,870.7L836.3,869.9L840.1,869.1L843.9,868.3L847.7,867.5L851.5,866.8L855.3,866.1L859.1,865.4L862.9,864.7L866.7,864.0L870.5,863.4L874.2,862.8L878.0,862.2L881.8,861.7L885.6,861.2L889.4,860.7L893.2,860.2L897.0,859.7L900.8,859.3L904.6,858.8L908.4,858.5L912.2,858.1L916.0,857.7L919.8,857.4L923.6,857.1L927.4,856.8L931.2,856.6L935.0,856.3L938.8,856.1L942.6,855.9L946.4,855.7L950.2,855.6L954.0,855.4L957.8,855.3L961.5,855.2L965.3,855.2L969.1,855.1L972.9,855.1L976.7,855.1L980.5,855.1L984.3,855.2L988.1,855.3L991.9,855.3L995.7,855.5L999.5,855.6L1003.3,855.7L1007.1,855.9L1010.9,856.1L1014.7,856.4L1018.5,856.6L1022.3,856.9L1026.1,857.2L1029.9,857.5L1033.7,857.8L1037.5,858.2L1041.3,858.6L1045.1,859.0L1048.8,859.4L1052.6,859.9L1056.4,860.4L1060.2,860.9L1064.0,861.4L1067.8,861.9L1071.6,862.5L1075.4,863.1L1079.2,863.7L1083.0,864.4L1086.8,865.1L1090.6,865.8L1094.4,866.5L1098.2,867.2L1102.0,868.0L1105.8,868.8L1109.6,869.6L1113.4,870.4L1117.2,871.3L1121.0,872.2L1124.8,873.1L1128.6,874.0L1132.3,875.0L1136.1,876.0L1139.9,877.0L1143.7,878.1L1147.5,879.1L1151.3,880.2L1155.1,881.3L1158.9,882.5L1162.7,883.6L1166.5,884.8L1170.3,886.0L1174.1,887.3L1177.9,888.5L1181.7,889.8L1185.5,891.2L1189.3,892.5L1193.1,893.9L1196.9,895.3L1200.7,896.7L1204.5,898.1L1208.3,899.6L1212.1,901.1L1215.9,902.7L1219.6,904.2L1223.4,905.8L1227.2,907.4L1231.0,909.0L1234.8,910.7L1238.6,912.4L1242.4,914.1L1246.2,915.8L1250.0,917.6L1253.8,919.4L1257.6,921.2L1261.4,923.1L1265.2,924.9L1269.0,926.9L1272.8,928.8L1276.6,930.7L1280.4,932.7L1284.2,934.7L1287.7,936.6L1291.3,938.1L1294.9,939.2L1298.5,940.0L1302.2,940.5L1305.8,940.7L1309.4,940.5L1313.1,939.9L1316.8,939.1L1320.5,937.9L1324.2,936.3L1327.9,934.4L1331.7,932.2L1335.4,929.7L1339.2,926.8L1343.0,923.6L1346.8,920.2L1350.6,916.9L1354.4,913.6L1358.2,910.3L1362.0,907.0L1365.8,903.7L1369.6,900.4L1373.4,897.2L1377.2,893.9L1381.0,890.7L1384.8,887.5L1388.6,884.3L1392.3,881.1L1396.1,877.9L1399.9,874.8L1403.7,871.6L1407.5,868.5L1411.3,865.4L1415.1,862.3L1418.9,859.2L1422.7,856.1L1426.5,853.0L1430.3,850.0L1434.1,846.9L1437.9,843.9L1441.7,840.9L1445.5,837.9L1449.3,834.9L1453.1,831.9L1456.9,828.9L1460.7,826.0L1464.5,823.0L1468.3,820.1L1472.1,817.2L1475.9,814.3L1479.6,811.4L1483.4,808.5L1487.2,805.7L1491.0,802.8L1494.8,800.0L1498.6,797.2L1502.4,794.4L1506.2,791.6L1510.0,788.8L1513.8,786.0L1517.6,783.2L1521.4,780.5L1525.2,777.8L1529.0,775.1L1532.8,772.4L1536.6,769.7L1540.4,767.0L1544.2,764.3L1548.0,761.7L1551.8,759.0L1555.6,756.4L1559.4,753.8L1563.2,751.2L1566.9,748.6L1570.7,746.0L1574.5,743.5L1578.3,740.9L1582.1,738.4L1585.9,735.9L1589.7,733.4L1593.5,730.9L1597.3,728.4L1601.1,725.9L1604.9,723.5L1608.7,721.0L1612.5,718.6L1616.3,716.2L1620.1,713.8L1623.9,711.4L1627.7,709.0L1631.5,706.7L1635.3,704.3L1639.1,702.0L1642.9,699.7L1646.7,697.4L1650.4,695.1L1654.2,692.8L1658.0,690.5L1661.8,688.3L1665.6,686.0L1669.4,683.8L1673.2,681.6L1677.0,679.4L1680.8,677.2L1684.6,675.0L1688.4,672.9L1692.2,670.7L1696.0,668.6L1699.8,666.5L1703.6,664.4L1707.4,662.3L1711.2,660.2L1715.0,658.1L1718.8,656.1L1722.6,654.0L1726.4,652.0L1730.2,650.0L1734.0,648.0L1737.7,646.0L1741.5,644.0L1745.3,642.1L1749.1,640.1L1752.9,638.2L1756.7,636.3L1760.5,634.4L1764.3,632.5L1768.1,630.6L1771.9,628.7L1775.7,626.9L1779.5,625.1L1783.3,623.2L1787.1,621.4L1790.9,619.6L1794.7,617.8L1798.5,616.1L1802.3,614.3L1806.1,612.6L1809.9,610.8L1813.7,609.1L1817.5,607.4L1821.3,605.7L1825.0,604.0L1828.8,602.4L1832.6,600.7L1836.4,599.1L1840.2,597.5L1844.0,595.9L1847.8,594.3L1851.6,592.7L1855.4,591.1L1859.2,589.6L1863.0,588.0L1866.8,586.5L1870.6,585.0L1874.4,583.5L1878.2,582.0L1882.0,580.5L1885.8,579.1L1889.6,577.6L1893.4,576.2L1897.2,574.8L1901.0,573.4L1904.8,572.0L1908.5,570.6L1912.3,569.2L1916.1,567.9L1919.9,566.5L1923.7,565.2L1927.5,563.9L1931.3,562.6L1935.1,561.3L1938.9,560.1L1942.7,558.8L1946.5,557.6L1950.3,556.3L1954.1,555.1L1957.9,553.9L1961.7,552.7L1965.5,551.6L1969.3,550.4L1973.1,549.3L1976.9,548.1L1980.7,547.0L1984.5,545.9L1988.3,544.8L1992.1,543.8L1995.8,542.7L1999.6,541.6L2003.4,540.6L2007.2,539.6L2011.0,538.6L2014.8,537.6L2018.6,536.6L2020.5,536.1" stroke="#F0822F"/>
<path d="M312.5,1292.3L316.3,1288.0L320.1,1283.8L323.9,1279.6L327.7,1275.4L331.5,1271.3L335.3,1267.1L339.1,1263.0L342.9,1258.9L346.7,1254.9L350.5,1250.9L354.3,1246.8L358.0,1242.9L361.8,1238.9L365.6,1235.0L369.4,1231.1L373.2,1227.2L377.0,1223.4L380.8,1219.5L384.6,1215.7L388.4,1211.9L392.2,1208.2L396.0,1204.5L399.8,1200.8L403.6,1197.1L407.4,1193.4L411.2,1189.8L415.0,1186.2L418.8,1182.6L422.6,1179.0L426.4,1175.5L430.2,1172.0L434.0,1168.5L437.8,1165.0L441.6,1161.5L445.3,1158.1L449.1,1154.7L452.9,1151.3L456.7,1148.0L460.5,1144.7L464.3,1141.3L468.1,1138.1L471.9,1134.8L475.7,1131.5L479.5,1128.3L483.3,1125.1L487.1,1121.9L490.9,1118.8L494.7,1115.7L498.5,1112.5L502.3,1109.5L506.1,1106.4L509.9,1103.3L513.7,1100.3L517.5,1097.3L521.3,1094.3L525.1,1091.3L528.8,1088.4L532.6,1085.5L536.4,1082.6L540.2,1079.7L544.0,1076.8L547.8,1074.0L551.6,1071.2L555.4,1068.4L559.2,1065.6L563.0,1062.8L566.8,1060.1L570.6,1057.4L574.4,1054.7L578.2,1052.0L582.0,1049.3L585.8,1046.7L589.6,1044.1L593.4,1041.4L597.2,1038.9L601.0,1036.3L604.8,1033.7L608.6,1031.2L612.4,1028.7L616.1,1026.2L619.9,1023.7L623.7,1021.3L627.5,1018.8L631.3,1016.4L635.1,1014.0L638.9,1011.6L642.7,1009.3L646.5,1006.9L650.3,1004.6L654.1,1002.3L657.9,1000.0L661.7,997.7L665.5,995.5L669.3,993.2L673.1,991.0L676.9,988.8L680.7,986.6L684.5,984.4L688.3,982.3L692.1,980.1L695.9,978.0L699.7,975.9L703.4,973.8L707.2,971.7L711.0,969.7L714.8,967.6L718.6,965.6L722.4,963.6L726.2,961.6L730.0,959.6L733.8,957.6L737.6,955.7L741.4,953.8L745.2,951.9L749.0,950.0L752.8,948.1L756.6,946.2L760.4,944.3L764.2,942.5L768.0,940.7L771.8,938.9L775.6,937.1L779.4,935.3L783.2,933.5L787.0,931.8L790.7,930.0L794.5,928.3L798.3,926.6L802.1,924.9L805.9,923.2L809.7,921.6L813.5,919.9L817.3,918.3L821.1,916.7L824.9,915.1L828.7,913.5L832.5,911.9L836.3,910.3L840.1,908.8L843.9,907.2L847.7,905.7L851.5,904.2L855.3,902.7L859.1,901.2L862.9,899.7L866.7,898.2L870.5,896.8L874.2,895.3L878.0,893.9L881.8,892.5L885.6,891.1L889.4,889.7L893.2,888.3L897.0,887.0L900.8,885.6L904.6,884.3L908.4,883.0L912.2,881.6L916.0,880.3L919.8,879.1L923.6,877.8L927.4,876.5L931.2,875.3L935.0,874.0L938.8,872.8L942.6,871.6L946.4,870.4L950.2,869.2L954.0,868.0L957.8,866.8L961.5,865.7L965.3,864.5L969.1,863.4L972.9,862.3L976.7,861.1L980.5,860.0L984.3,859.0L988.1,857.9L991.9,856.8L995.7,855.8L999.5,854.7L1003.3,853.7L1007.1,852.7L1010.9,851.7L1014.7,850.7L1018.5,849.7L1022.3,848.7L1026.1,847.7L1029.9,846.8L1033.7,845.8L1037.5,844.9L1041.3,844.0L1045.1,843.1L1048.8,842.2L1052.6,841.3L1056.4,840.4L1060.2,839.5L1064.0,838.7L1067.8,837.8L1071.6,837.0L1075.4,836.2L1079.2,835.3L1083.0,834.5L1086.8,833.7L1090.6,833.0L1094.4,832.2L1098.2,831.4L1102.0,830.7L1105.8,829.9L1109.6,829.2L1113.4,828.5L1117.2,827.7L1121.0,827.0L1124.8,826.3L1128.6,825.7L1132.3,825.0L1136.1,824.3L1139.9,823.7L1143.7,823.0L1147.5,822.4L1151.3,821.7L1155.1,821.1L1158.9,820.5L1162.7,819.9L1166.5,819.3L1170.3,818.8L1174.1,818.2L1177.9,817.6L1181.7,817.1L1185.5,816.5L1189.3,816.0L1193.1,815.5L1196.9,814.9L1200.7,814.4L1204.5,813.9L1208.3,813.4L1212.1,813.0L1215.9,812.5L1219.6,812.0L1223.4,811.6L1227.2,811.1L1231.0,810.7L1234.8,810.2L1238.6,809.8L1242.4,809.4L1246.2,809.0L1250.0,808.6L1253.8,808.2L1257.6,807.8L1261.4,807.5L1265.2,807.1L1269.0,806.7L1272.8,806.4L1276.6,806.0L1280.4,805.7L1284.2,805.4L1288.0,805.1L1291.8,804.8L1295.6,804.4L1299.4,804.1L1303.2,803.9L1306.9,803.6L1310.7,803.3L1314.5,803.0L1318.3,802.8L1322.1,802.5L1325.9,802.3L1329.7,802.0L1333.5,801.8L1337.3,801.6L1341.1,801.4L1344.9,801.1L1348.7,800.9L1352.5,800.7L1356.3,800.5L1360.1,800.4L1363.9,800.2L1367.7,800.0L1371.5,799.8L1375.3,799.7L1379.1,799.5L1382.9,799.4L1386.7,799.2L1390.5,799.1L1394.2,799.0L1398.0,798.8L1401.8,798.7L1405.6,798.6L1409.4,798.5L1413.2,798.4L1417.0,798.3L1420.8,798.2L1424.6,798.1L1428.4,798.0L1432.2,798.0L1436.0,797.9L1439.8,797.8L1443.6,797.8L1447.4,797.7L1451.2,797.7L1455.0,797.6L1458.8,797.6L1462.6,797.6L1466.4,797.5L1470.2,797.5L1474.0,797.5L1477.7,797.5L1481.5,797.5L1485.3,797.5L1489.1,797.5L1492.9,797.5L1496.7,797.5L1500.5,797.5L1504.3,797.5L1508.1,797.5L1511.9,797.6L1515.7,797.6L1519.5,797.6L1523.3,797.7L1527.1,797.7L1530.9,797.8L1534.7,797.8L1538.5,797.9L1542.3,797.9L1546.1,798.0L1549.9,798.0L1553.7,798.1L1557.5,798.2L1561.3,798.3L1565.0,798.3L1568.8,798.4L1572.6,798.5L1576.4,798.6L1580.2,798.7L1584.0,798.8L1587.8,798.9L1591.6,799.0L1595.4,799.1L1599.2,799.2L1603.0,799.3L1606.8,799.4L1610.6,799.5L1614.4,799.7L1618.2,799.8L1622.0,799.9L1625.8,800.0L1629.6,800.2L1633.4,800.3L1637.2,800.4L1641.0,800.5L1644.8,800.7L1648.6,800.8L1652.3,801.0L1656.1,801.1L1659.9,801.3L1663.7,801.4L1667.5,801.6L1671.3,801.7L1675.1,801.9L1678.9,802.0L1682.7,802.2L1686.5,802.3L1690.3,802.5L1694.1,802.6L1697.9,802.8L1701.7,803.0L1705.5,803.1L1709.3,803.3L1713.1,803.5L1716.9,803.6L1720.7,803.8L1724.5,803.9L1728.3,803.9L1732.1,803.8L1735.9,803.6L1739.6,803.3L1743.4,802.9L1747.2,802.4L1751.0,801.8L1754.8,801.1L1758.6,800.3L1762.4,799.4L1766.2,798.3L1770.0,797.2L1773.8,796.0L1777.6,794.6L1781.4,793.2L1785.2,791.6L1789.0,790.0L1792.8,788.2L1796.6,786.3L1800.4,784.4L1804.2,782.5L1808.0,780.6L1811.8,778.7L1815.6,776.8L1819.4,774.9L1823.1,773.0L1826.9,771.0L1830.7,769.1L1834.5,767.2L1838.3,765.3L1842.1,763.4L1845.9,761.5L1849.7,759.6L1853.5,757.7L1857.3,755.8L1861.1,753.9L1864.9,752.0L1868.7,750.1L1872.5,748.2L1876.3,746.3L1880.1,744.4L1883.9,742.6L1887.7,740.7L1891.5,738.8L1895.3,736.9L1899.1,735.0L1902.9,733.2L1906.7,731.3L1910.4,729.4L1914.2,727.6L1918.0,725.7L1921.8,723.8L1925.6,722.0L1929.4,720.1L1933.2,718.3L1937.0,716.4L1940.8,714.6L1944.6,712.7L1948.4,710.9L1952.2,709.1L1956.0,707.3L1959.8,705.4L1963.6,703.6L1967.4,701.8L1971.2,700.0L1975.0,698.2L1978.8,696.4L1982.6,694.6L1986.4,692.8L1990.2,691.0L1994.0,689.2L1997.7,687.5L2001.5,685.7L2005.3,683.9L2009.1,682.2L2012.9,680.4L2016.7,678.6L2020.5,676.9" stroke="#FF00FF"/>
<path d="M312.5,1296.0L316.3,1293.0L320.1,1290.1L323.9,1287.1L327.7,1284.2L331.5,1281.3L335.3,1278.4L339.1,1275.5L342.9,1272.6L346.7,1269.7L350.5,1266.8L354.3,1264.0L358.0,1261.1L361.8,1258.3L365.6,1255.4L369.4,1252.6L373.2,1249.8L377.0,1247.0L380.8,1244.2L384.6,1241.4L388.4,1238.7L392.2,1235.9L396.0,1233.1L399.8,1230.4L403.6,1227.7L407.4,1224.9L411.2,1222.2L415.0,1219.5L418.8,1216.8L422.6,1214.1L426.4,1211.5L430.2,1208.8L434.0,1206.1L437.8,1203.5L441.6,1200.9L445.3,1198.2L449.1,1195.6L452.9,1193.0L456.7,1190.4L460.5,1187.8L464.3,1185.2L468.1,1182.7L471.9,1180.1L475.7,1177.5L479.5,1175.0L483.3,1172.5L487.1,1169.9L490.9,1167.4L494.7,1164.9L498.5,1162.4L502.3,1159.9L506.1,1157.4L509.9,1155.0L513.7,1152.5L517.5,1150.1L521.3,1147.6L525.1,1145.2L528.8,1142.8L532.6,1140.3L536.4,1137.9L540.2,1135.5L544.0,1133.2L547.8,1130.8L551.6,1128.4L555.4,1126.0L559.2,1123.7L563.0,1121.3L566.8,1119.0L570.6,1116.7L574.4,1114.4L578.2,1112.1L582.0,1109.8L585.8,1107.5L589.6,1105.2L593.4,1102.9L597.2,1100.6L601.0,1098.4L604.8,1096.1L608.6,1093.9L612.4,1091.7L616.1,1089.4L619.9,1087.2L623.7,1085.0L627.5,1082.8L631.3,1080.6L635.1,1078.5L638.9,1076.3L642.7,1074.1L646.5,1072.0L650.3,1069.8L654.1,1067.7L657.9,1065.6L661.7,1063.4L665.5,1061.3L669.3,1059.2L673.1,1057.1L676.9,1055.0L680.7,1053.0L684.5,1050.9L688.3,1048.8L692.1,1046.8L695.9,1044.7L699.7,1042.7L703.4,1040.7L707.2,1038.6L711.0,1036.6L714.8,1034.6L718.6,1032.6L722.4,1030.6L726.2,1028.6L730.0,1026.7L733.8,1024.7L737.6,1022.7L741.4,1020.8L745.2,1018.9L749.0,1016.9L752.8,1015.0L756.6,1013.1L760.4,1011.2L764.2,1009.3L768.0,1007.4L771.8,1005.5L775.6,1003.6L779.4,1001.7L783.2,999.9L787.0,998.0L790.7,996.2L794.5,994.3L798.3,992.5L802.1,990.7L805.9,988.8L809.7,987.0L813.5,985.2L817.3,983.4L821.1,981.6L824.9,979.9L828.7,978.1L832.5,976.3L836.3,974.6L840.1,972.8L843.9,971.1L847.7,969.3L851.5,967.6L855.3,965.9L859.1,964.2L862.9,962.5L866.7,960.8L870.5,959.1L874.2,957.4L878.0,955.7L881.8,954.0L885.6,952.4L889.4,950.7L893.2,949.1L897.0,947.4L900.8,945.8L904.6,944.1L908.4,942.5L912.2,940.9L916.0,939.3L919.8,937.7L923.6,936.1L927.4,934.5L931.2,932.9L935.0,931.4L938.8,929.8L942.6,928.2L946.4,926.7L950.2,925.1L954.0,923.6L957.8,922.1L961.5,920.5L965.3,919.0L969.1,917.5L972.9,916.0L976.7,914.5L980.5,913.0L984.3,911.5L988.1,910.1L991.9,908.6L995.7,907.1L999.5,905.7L1003.3,904.2L1007.1,902.8L1010.9,901.3L1014.7,899.9L1018.5,898.5L1022.3,897.0L1026.1,895.6L1029.9,894.2L1033.7,892.8L1037.5,891.4L1041.3,890.0L1045.1,888.7L1048.8,887.3L1052.6,885.9L1056.4,884.5L1060.2,883.2L1064.0,881.8L1067.8,880.5L1071.6,879.2L1075.4,877.8L1079.2,876.5L1083.0,875.2L1086.8,873.9L1090.6,872.6L1094.4,871.3L1098.2,870.0L1102.0,868.7L1105.8,867.4L1109.6,866.1L1113.4,864.8L1117.2,863.6L1121.0,862.3L1124.8,861.1L1128.6,859.8L1132.3,858.6L1136.1,857.3L1139.9,856.1L1143.7,854.9L1147.5,853.7L1151.3,852.4L1155.1,851.2L1158.9,850.0L1162.7,848.8L1166.5,847.6L1170.3,846.5L1174.1,845.3L1177.9,844.1L1181.7,842.9L1185.5,841.8L1189.3,840.6L1193.1,839.5L1196.9,838.3L1200.7,837.2L1204.5,836.0L1208.3,834.9L1212.1,833.8L1215.9,832.7L1219.6,831.6L1223.4,830.5L1227.2,829.4L1231.0,828.3L1234.8,827.2L1238.6,826.1L1242.4,825.0L1246.2,823.9L1250.0,822.8L1253.8,821.8L1257.6,820.7L1261.4,819.7L1265.2,818.6L1269.0,817.6L1272.8,816.5L1276.6,815.5L1280.4,814.5L1284.2,813.4L1288.0,812.4L1291.8,811.4L1295.6,810.4L1299.4,809.4L1303.2,808.4L1306.9,807.4L1310.7,806.4L1314.5,805.4L1318.3,804.4L1322.1,803.5L1325.9,802.5L1329.7,801.5L1333.5,800.6L1337.3,799.6L1341.1,798.7L1344.9,797.7L1348.7,796.8L1352.5,795.8L1356.3,794.9L1360.1,794.0L1363.9,793.0L1367.7,792.1L1371.5,791.2L1375.3,790.3L1379.1,789.4L1382.9,788.5L1386.7,787.6L1390.5,786.7L1394.2,785.8L1398.0,784.9L1401.8,784.1L1405.6,783.2L1409.4,782.3L1413.2,781.4L1417.0,780.6L1420.8,779.7L1424.6,778.9L1428.4,778.0L1432.2,777.2L1436.0,776.3L1439.8,775.5L1443.6,774.7L1447.4,773.8L1451.2,773.0L1455.0,772.2L1458.8,771.4L1462.6,770.6L1466.4,769.8L1470.2,769.0L1474.0,768.2L1477.7,767.4L1481.5,766.6L1485.3,765.8L1489.1,765.0L1492.9,764.2L1496.7,763.5L1500.5,762.7L1504.3,761.9L1508.1,761.2L1511.9,760.4L1515.7,759.6L1519.5,758.9L1523.3,758.1L1527.1,757.4L1530.9,756.7L1534.7,755.9L1538.5,755.2L1542.3,754.5L1546.1,753.7L1549.9,753.0L1553.7,752.3L1557.5,751.6L1561.3,750.9L1565.0,750.2L1568.8,749.5L1572.6,748.8L1576.4,748.1L1580.2,747.4L1584.0,746.7L1587.8,746.0L1591.6,745.3L1595.4,744.6L1599.2,743.9L1603.0,743.3L1606.8,742.6L1610.6,741.9L1614.4,741.3L1618.2,740.6L1622.0,740.0L1625.8,739.3L1629.6,738.7L1633.4,738.0L1637.2,737.4L1641.0,736.7L1644.8,736.1L1648.6,735.4L1652.3,734.8L1656.1,734.2L1659.9,733.6L1663.7,732.9L1667.5,732.3L1671.3,731.7L1675.1,731.1L1678.9,730.5L1682.7,729.9L1686.5,729.3L1690.3,728.7L1694.1,728.1L1697.9,727.5L1701.7,726.9L1705.5,726.3L1709.3,725.7L1713.1,725.1L1716.9,724.5L1720.7,723.9L1724.5,723.4L1728.3,722.8L1732.1,722.2L1735.8,721.7L1739.6,721.1L1743.4,720.5L1747.2,720.0L1751.0,719.4L1754.8,718.9L1758.6,718.3L1762.4,717.7L1766.2,717.2L1770.0,716.7L1773.8,716.1L1777.6,715.6L1781.4,715.0L1785.2,714.5L1789.0,714.0L1792.8,713.4L1796.6,712.9L1800.4,712.4L1804.2,711.8L1808.0,711.3L1811.8,710.8L1815.6,710.3L1819.4,709.8L1823.1,709.3L1826.9,708.7L1830.7,708.2L1834.5,707.7L1838.3,707.2L1842.1,706.7L1845.9,706.2L1849.7,705.7L1853.5,705.2L1857.3,704.7L1861.1,704.2L1864.9,703.7L1868.7,703.3L1872.5,702.8L1876.3,702.3L1880.1,701.8L1883.9,701.3L1887.7,700.8L1891.5,700.4L1895.3,699.9L1899.1,699.4L1902.9,698.9L1906.7,698.5L1910.4,698.0L1914.2,697.5L1918.0,697.1L1921.8,696.6L1925.6,696.1L1929.4,695.7L1933.2,695.2L1937.0,694.8L1940.8,694.3L1944.6,693.9L1948.4,693.4L1952.2,692.9L1956.0,692.5L1959.8,692.0L1963.6,691.6L1967.4,691.2L1971.2,690.7L1975.0,690.3L1978.8,689.8L1982.6,689.4L1986.4,688.9L1990.2,688.5L1994.0,688.1L1997.7,687.6L2001.5,687.2L2005.3,686.8L2009.1,686.3L2012.9,685.9L2016.7,685.5L2020.5,685.1" stroke="#0000FF"/>
<path d="M312.5,1306.7L316.3,1305.5L320.1,1304.3L323.9,1303.1L327.7,1302.0L331.5,1300.8L335.3,1299.6L339.1,1298.4L342.9,1297.2L346.7,1296.0L350.5,1294.8L354.3,1293.5L358.0,1292.3L361.8,1291.1L365.6,1289.9L369.4,1288.7L373.2,1287.5L377.0,1286.3L380.8,1285.1L384.6,1283.9L388.4,1282.6L392.2,1281.4L396.0,1280.2L399.8,1279.0L403.6,1277.8L407.4,1276.5L411.2,1275.3L415.0,1274.1L418.8,1272.8L422.6,1271.6L426.4,1270.4L430.2,1269.1L434.0,1267.9L437.8,1266.7L441.6,1265.4L445.3,1264.2L449.1,1263.0L452.9,1261.7L456.7,1260.5L460.5,1259.2L464.3,1258.0L468.1,1256.8L471.9,1255.5L475.7,1254.3L479.5,1253.0L483.3,1251.8L487.1,1250.5L490.9,1249.3L494.7,1248.0L498.5,1246.8L502.3,1245.5L506.1,1244.2L509.9,1243.0L513.7,1241.7L517.5,1240.5L521.3,1239.2L525.1,1238.0L528.8,1236.7L532.6,1235.4L536.4,1234.2L540.2,1232.9L544.0,1231.6L547.8,1230.4L551.6,1229.1L555.4,1227.8L559.2,1226.6L563.0,1225.3L566.8,1224.0L570.6,1222.7L574.4,1221.5L578.2,1220.2L582.0,1218.9L585.8,1217.6L589.6,1216.4L593.4,1215.1L597.2,1213.8L601.0,1212.5L604.8,1211.3L608.6,1210.0L612.4,1208.7L616.1,1207.4L619.9,1206.1L623.7,1204.8L627.5,1203.6L631.3,1202.3L635.1,1201.0L638.9,1199.7L642.7,1198.4L646.5,1197.1L650.3,1195.8L654.1,1194.6L657.9,1193.3L661.7,1192.0L665.5,1190.7L669.3,1189.4L673.1,1188.1L676.9,1186.8L680.7,1185.5L684.5,1184.2L688.3,1182.9L692.1,1181.6L695.9,1180.3L699.7,1179.0L703.4,1177.7L707.2,1176.4L711.0,1175.1L714.8,1173.8L718.6,1172.5L722.4,1171.2L726.2,1169.9L730.0,1168.6L733.8,1167.3L737.6,1166.0L741.4,1164.7L745.2,1163.4L749.0,1162.1L752.8,1160.8L756.6,1159.5L760.4,1158.2L764.2,1156.9L768.0,1155.6L771.8,1154.3L775.6,1153.0L779.4,1151.7L783.2,1150.4L787.0,1149.1L790.7,1147.8L794.5,1146.5L798.3,1145.2L802.1,1143.9L805.9,1142.6L809.7,1141.3L813.5,1140.0L817.3,1138.6L821.1,1137.3L824.9,1136.0L828.7,1134.7L832.5,1133.4L836.3,1132.1L840.1,1130.8L843.9,1129.5L847.7,1128.2L851.5,1126.9L855.3,1125.6L859.1,1124.3L862.9,1122.9L866.7,1121.6L870.5,1120.3L874.2,1119.0L878.0,1117.7L881.8,1116.4L885.6,1115.1L889.4,1113.8L893.2,1112.5L897.0,1111.2L900.8,1109.9L904.6,1108.5L908.4,1107.2L912.2,1105.9L916.0,1104.6L919.8,1103.3L923.6,1102.0L927.4,1100.7L931.2,1099.4L935.0,1098.1L938.8,1096.8L942.6,1095.5L946.4,1094.1L950.2,1092.8L954.0,1091.5L957.8,1090.2L961.5,1088.9L965.3,1087.6L969.1,1086.3L972.9,1085.0L976.7,1083.7L980.5,1082.4L984.3,1081.1L988.1,1079.8L991.9,1078.5L995.7,1077.2L999.5,1075.9L1003.3,1074.6L1007.1,1073.2L1010.9,1071.9L1014.7,1070.6L1018.5,1069.3L1022.3,1068.0L1026.1,1066.7L1029.9,1065.4L1033.7,1064.1L1037.5,1062.8L1041.3,1061.5L1045.1,1060.2L1048.8,1058.9L1052.6,1057.6L1056.4,1056.3L1060.2,1055.0L1064.0,1053.7L1067.8,1052.4L1071.6,1051.1L1075.4,1049.8L1079.2,1048.5L1083.0,1047.2L1086.8,1046.0L1090.6,1044.7L1094.4,1043.4L1098.2,1042.1L1102.0,1040.8L1105.8,1039.5L1109.6,1038.2L1113.4,1036.9L1117.2,1035.6L1121.0,1034.3L1124.8,1033.0L1128.6,1031.7L1132.3,1030.5L1136.1,1029.2L1139.9,1027.9L1143.7,1026.6L1147.5,1025.3L1151.3,1024.0L1155.1,1022.7L1158.9,1021.5L1162.7,1020.2L1166.5,1018.9L1170.3,1017.6L1174.1,1016.3L1177.9,1015.1L1181.7,1013.8L1185.5,1012.5L1189.3,1011.2L1193.1,1010.0L1196.9,1008.7L1200.7,1007.4L1204.5,1006.1L1208.3,1004.9L1212.1,1003.6L1215.9,1002.3L1219.6,1001.0L1223.4,999.8L1227.2,998.5L1231.0,997.2L1234.8,996.0L1238.6,994.7L1242.4,993.5L1246.2,992.2L1250.0,990.9L1253.8,989.7L1257.6,988.4L1261.4,987.1L1265.2,985.9L1269.0,984.6L1272.8,983.4L1276.6,982.1L1280.4,980.9L1284.2,979.6L1288.0,978.4L1291.8,977.1L1295.6,975.9L1299.4,974.6L1303.2,973.4L1306.9,972.1L1310.7,970.9L1314.5,969.6L1318.3,968.4L1322.1,967.2L1325.9,965.9L1329.7,964.7L1333.5,963.4L1337.3,962.2L1341.1,961.0L1344.9,959.7L1348.7,958.5L1352.5,957.3L1356.3,956.0L1360.1,954.8L1363.9,953.6L1367.7,952.4L1371.5,951.1L1375.3,949.9L1379.1,948.7L1382.9,947.5L1386.7,946.2L1390.5,945.0L1394.2,943.8L1398.0,942.6L1401.8,941.4L1405.6,940.2L1409.4,939.0L1413.2,937.8L1417.0,936.5L1420.8,935.3L1424.6,934.1L1428.4,932.9L1432.2,931.7L1436.0,930.5L1439.8,929.3L1443.6,928.1L1447.4,926.9L1451.2,925.7L1455.0,924.6L1458.8,923.4L1462.6,922.2L1466.4,921.0L1470.2,919.8L1474.0,918.6L1477.7,917.4L1481.5,916.2L1485.3,915.1L1489.1,913.9L1492.9,912.7L1496.7,911.5L1500.5,910.4L1504.3,909.2L1508.1,908.0L1511.9,906.9L1515.7,905.7L1519.5,904.5L1523.3,903.4L1527.1,902.2L1530.9,901.0L1534.7,899.9L1538.5,898.7L1542.3,897.6L1546.1,896.4L1549.9,895.3L1553.7,894.1L1557.5,893.0L1561.3,891.8L1565.0,890.7L1568.8,889.5L1572.6,888.4L1576.4,887.3L1580.2,886.1L1584.0,885.0L1587.8,883.9L1591.6,882.7L1595.4,881.6L1599.2,880.5L1603.0,879.4L1606.8,878.2L1610.6,877.1L1614.4,876.0L1618.2,874.9L1622.0,873.8L1625.8,872.7L1629.6,871.6L1633.4,870.4L1637.2,869.3L1641.0,868.2L1644.8,867.1L1648.6,866.0L1652.3,864.9L1656.1,863.8L1659.9,862.8L1663.7,861.7L1667.5,860.6L1671.3,859.5L1675.1,858.4L1678.9,857.3L1682.7,856.2L1686.5,855.2L1690.3,854.1L1694.1,853.0L1697.9,851.9L1701.7,850.9L1705.5,849.8L1709.3,848.7L1713.1,847.7L1716.9,846.6L1720.7,845.6L1724.5,844.5L1728.3,843.5L1732.1,842.4L1735.8,841.4L1739.6,840.3L1743.4,839.3L1747.2,838.2L1751.0,837.2L1754.8,836.2L1758.6,835.1L1762.4,834.1L1766.2,833.1L1770.0,832.0L1773.8,831.0L1777.6,830.0L1781.4,829.0L1785.2,827.9L1789.0,826.9L1792.8,825.9L1796.6,824.9L1800.4,823.9L1804.2,822.9L1808.0,821.9L1811.8,820.9L1815.6,819.9L1819.4,818.9L1823.1,817.9L1826.9,816.9L1830.7,815.9L1834.5,815.0L1838.3,814.0L1842.1,813.0L1845.9,812.0L1849.7,811.1L1853.5,810.1L1857.3,809.1L1861.1,808.1L1864.9,807.2L1868.7,806.2L1872.5,805.3L1876.3,804.3L1880.1,803.4L1883.9,802.4L1887.7,801.5L1891.5,800.5L1895.3,799.6L1899.1,798.6L1902.9,797.7L1906.7,796.8L1910.4,795.8L1914.2,794.9L1918.0,794.0L1921.8,793.1L1925.6,792.2L1929.4,791.2L1933.2,790.3L1937.0,789.4L1940.8,788.5L1944.6,787.6L1948.4,786.7L1952.2,785.8L1956.0,784.9L1959.8,784.0L1963.6,783.1L1967.4,782.3L1971.2,781.4L1975.0,780.5L1978.8,779.6L1982.6,778.7L1986.4,777.9L1990.2,777.0L1994.0,776.1L1997.7,775.3L2001.5,774.4L2005.3,773.6L2009.1,772.7L2012.9,771.9L2016.7,771.0L2020.5,770.2" stroke="#808080"/>
</g>
<g clip-path="url(#clipb)" fill="none" stroke-width="10.5" stroke-linejoin="round" stroke-linecap="round">
<path d="M312.5,2638.2L316.3,2634.9L320.1,2630.5L323.9,2625.3L327.7,2619.2L331.5,2612.4L335.3,2604.9L339.1,2596.9L342.9,2588.4L346.7,2579.6L350.5,2570.4L354.3,2561.2L358.0,2551.7L361.8,2542.2L365.6,2532.7L369.4,2523.2L373.2,2513.7L377.0,2504.3L380.8,2495.1L384.6,2486.0L388.4,2477.2L392.2,2468.7L396.0,2460.5L399.8,2452.5L403.6,2444.9L407.4,2437.5L411.2,2430.4L415.0,2423.5L418.8,2416.9L422.6,2410.6L426.4,2404.5L430.2,2398.6L434.0,2392.9L437.8,2387.5L441.6,2382.2L445.3,2377.2L449.1,2372.3L452.9,2367.7L456.7,2363.2L460.5,2358.9L464.3,2354.8L468.1,2350.8L471.9,2346.9L475.7,2343.2L479.5,2339.7L483.3,2336.3L487.1,2333.0L490.9,2329.8L494.7,2326.7L498.5,2323.7L502.3,2320.8L506.1,2318.0L509.9,2315.2L513.7,2312.6L517.5,2310.1L521.3,2307.6L525.1,2305.2L528.8,2302.9L532.6,2300.7L536.4,2298.6L540.2,2296.6L544.0,2294.7L547.8,2292.8L551.6,2291.1L555.4,2289.5L559.2,2287.9L563.0,2286.5L566.8,2285.1L570.6,2283.9L574.4,2282.7L578.2,2281.7L582.0,2280.7L585.8,2279.9L589.6,2279.1L593.4,2278.5L597.2,2277.9L601.0,2277.5L604.8,2277.2L608.6,2276.9L612.4,2276.8L616.1,2276.8L619.9,2276.9L623.7,2277.1L627.5,2277.4L631.3,2277.9L635.1,2278.4L638.9,2279.1L642.7,2279.8L646.5,2280.7L650.3,2281.7L654.1,2282.8L657.9,2284.1L661.7,2285.4L665.5,2286.9L669.3,2288.5L673.1,2290.2L676.9,2292.0L680.7,2294.0L684.5,2296.1L688.3,2298.3L692.1,2300.7L695.9,2303.3L699.7,2306.0L703.4,2308.8L707.2,2311.8L711.0,2315.0L714.8,2318.4L718.6,2322.0L722.4,2325.8L726.2,2329.7L730.0,2333.9L733.8,2338.2L737.6,2342.8L741.4,2347.6L745.2,2352.6L749.0,2357.9L752.8,2363.4L756.6,2369.1L760.4,2375.1L764.2,2381.3L768.0,2387.8L771.8,2394.8L775.6,2402.1L779.4,2410.0L783.2,2418.4L787.0,2427.5L790.7,2437.3L794.5,2447.8L798.3,2459.2L802.1,2471.5L805.9,2484.7L809.7,2499.0L813.5,2514.3L815.9,2524.5L819.7,2514.2L823.5,2504.0L827.3,2494.0L831.1,2484.1L834.9,2474.4L838.7,2464.9L842.5,2455.5L846.3,2446.3L850.1,2437.3L853.8,2428.4L857.6,2419.6L861.4,2411.0L865.2,2402.6L869.0,2394.3L872.8,2386.1L876.6,2378.1L880.4,2370.3L884.2,2362.5L888.0,2355.0L891.8,2347.5L895.6,2340.2L899.4,2333.0L903.2,2326.0L907.0,2319.1L910.8,2312.3L914.6,2305.6L918.4,2299.1L922.2,2292.7L926.0,2286.4L929.8,2280.2L933.6,2274.2L937.4,2268.2L941.1,2262.4L944.9,2256.7L948.7,2251.1L952.5,2245.6L956.3,2240.2L960.1,2234.9L963.9,2229.7L967.7,2224.7L971.5,2219.7L975.3,2214.8L979.1,2210.1L982.9,2205.4L986.7,2200.8L990.5,2196.3L994.3,2191.9L998.1,2187.6L1001.9,2183.4L1005.7,2179.3L1009.5,2175.3L1013.3,2171.4L1017.1,2167.5L1020.9,2163.7L1024.6,2160.1L1028.4,2156.5L1032.2,2153.0L1036.0,2149.5L1039.8,2146.2L1043.6,2142.9L1047.4,2139.7L1051.2,2136.6L1055.0,2133.6L1058.8,2130.6L1062.6,2127.7L1066.4,2124.9L1070.2,2122.1L1074.0,2119.4L1077.8,2116.8L1081.6,2114.3L1085.4,2111.8L1089.2,2109.4L1093.0,2107.0L1096.8,2104.7L1100.6,2102.5L1104.4,2100.3L1108.2,2098.2L1111.9,2096.1L1115.7,2094.1L1119.5,2092.2L1123.3,2090.3L1127.1,2088.5L1130.9,2086.7L1134.7,2085.0L1138.5,2083.3L1142.3,2081.7L1146.1,2080.1L1149.9,2078.6L1153.7,2077.1L1157.5,2075.7L1161.3,2074.3L1165.1,2072.9L1168.9,2071.7L1172.7,2070.4L1176.5,2069.2L1180.3,2068.1L1184.1,2066.9L1187.9,2065.9L1191.7,2064.8L1195.5,2063.8L1199.2,2062.9L1203.0,2062.0L1206.8,2061.1L1210.6,2060.3L1214.4,2059.4L1218.2,2058.7L1222.0,2057.9L1225.8,2057.2L1229.6,2056.6L1233.4,2055.9L1237.2,2055.3L1241.0,2054.8L1244.8,2054.2L1248.6,2053.7L1252.4,2053.2L1256.2,2052.7L1260.0,2052.3L1263.8,2051.9L1267.6,2051.5L1271.4,2051.1L1275.2,2050.8L1279.0,2050.5L1282.8,2050.2L1286.5,2049.9L1290.3,2049.7L1294.1,2049.4L1297.9,2049.2L1301.7,2049.0L1305.5,2048.8L1309.2,2048.5L1312.9,2047.7L1316.6,2046.6L1320.4,2045.0L1324.1,2043.0L1327.9,2040.6L1331.6,2037.8L1335.4,2034.6L1339.2,2031.1L1343.0,2027.5L1346.8,2023.9L1350.6,2020.2L1354.4,2016.5L1358.2,2012.8L1362.0,2009.0L1365.8,2005.2L1369.6,2001.3L1373.4,1997.5L1377.2,1993.6L1381.0,1989.7L1384.8,1985.8L1388.6,1981.9L1392.3,1978.0L1396.1,1974.0L1399.9,1970.1L1403.7,1966.1L1407.5,1962.2L1411.3,1958.2L1415.1,1954.3L1418.9,1950.4L1422.7,1946.5L1426.5,1942.6L1430.3,1938.7L1434.1,1934.9L1437.9,1931.0L1441.7,1927.2L1445.5,1923.4L1449.3,1919.7L1453.1,1916.0L1456.9,1912.3L1460.7,1908.6L1464.5,1904.9L1468.3,1901.3L1472.1,1897.7L1475.9,1894.1L1479.6,1890.6L1483.4,1887.1L1487.2,1883.6L1491.0,1880.1L1494.8,1876.7L1498.6,1873.3L1502.4,1869.9L1506.2,1866.5L1510.0,1863.2L1513.8,1859.9L1517.6,1856.6L1521.4,1853.3L1525.2,1850.1L1529.0,1846.8L1532.8,1843.6L1536.6,1840.5L1540.4,1837.3L1544.2,1834.2L1548.0,1831.1L1551.8,1828.0L1555.6,1825.0L1559.4,1821.9L1563.2,1818.9L1566.9,1815.9L1570.7,1813.0L1574.5,1810.0L1578.3,1807.1L1582.1,1804.2L1585.9,1801.3L1589.7,1798.5L1593.5,1795.6L1597.3,1792.8L1601.1,1790.0L1604.9,1787.3L1608.7,1784.5L1612.5,1781.8L1616.3,1779.1L1620.1,1776.4L1623.9,1773.7L1627.7,1771.0L1631.5,1768.4L1635.3,1765.8L1639.1,1763.2L1642.9,1760.6L1646.7,1758.0L1650.4,1755.5L1654.2,1752.9L1658.0,1750.4L1661.8,1747.9L1665.6,1745.4L1669.4,1742.9L1673.2,1740.5L1677.0,1738.0L1680.8,1735.6L1684.6,1733.2L1688.4,1730.7L1692.2,1728.3L1696.0,1726.0L1699.8,1723.6L1703.6,1721.2L1707.4,1718.9L1711.2,1716.5L1715.0,1714.2L1718.8,1711.9L1722.6,1709.5L1726.4,1707.2L1730.2,1704.9L1734.0,1702.7L1737.7,1700.4L1741.5,1698.1L1745.3,1695.8L1749.1,1693.6L1752.9,1691.3L1756.7,1689.1L1760.5,1686.8L1764.3,1684.6L1768.1,1682.4L1771.9,1680.1L1775.7,1677.9L1779.5,1675.7L1783.3,1673.5L1787.1,1671.3L1790.9,1669.1L1794.7,1666.9L1798.5,1664.7L1802.3,1662.5L1806.1,1660.3L1809.9,1658.1L1813.7,1655.9L1817.5,1653.7L1821.3,1651.5L1825.0,1649.3L1828.8,1647.1L1832.6,1644.9L1836.4,1642.7L1840.2,1640.5L1844.0,1638.2L1847.8,1636.0L1851.6,1633.8L1855.4,1631.6L1859.2,1629.4L1863.0,1627.2L1866.8,1624.9L1870.6,1622.7L1874.4,1620.5L1878.2,1618.2L1882.0,1616.0L1885.8,1613.7L1889.6,1611.5L1893.4,1609.2L1897.2,1606.9L1901.0,1604.6L1904.8,1602.3L1908.5,1600.0L1912.3,1597.7L1916.1,1595.4L1919.9,1593.1L1923.7,1590.8L1927.5,1588.4L1931.3,1586.0L1935.1,1583.7L1938.9,1581.3L1942.7,1578.9L1946.5,1576.5L1950.3,1574.1L1954.1,1571.7L1957.9,1569.2L1961.7,1566.8L1965.5,1564.3L1969.3,1561.8L1973.1,1559.3L1976.9,1556.8L1980.7,1554.3L1984.5,1551.7L1988.3,1549.2L1992.1,1546.6L1995.8,1544.0L1999.6,1541.4L2003.4,1538.8L2007.2,1536.1L2011.0,1533.5L2014.8,1530.8L2018.6,1528.1L2020.5,1526.7" stroke="#000000"/>
<path d="M312.5,2647.8L316.1,2641.2L319.7,2634.2L323.4,2627.1L327.0,2619.7L330.6,2612.1L334.2,2604.3L337.8,2596.4L341.5,2588.3L345.1,2580.1L348.7,2571.9L352.3,2563.5L355.9,2555.1L359.6,2546.7L363.2,2538.3L366.8,2529.9L370.4,2521.6L374.0,2513.3L377.7,2505.1L381.3,2497.0L384.9,2489.0L388.5,2481.2L392.1,2473.6L395.8,2466.1L399.4,2458.8L403.0,2451.6L406.6,2444.6L410.2,2437.8L413.9,2431.1L417.5,2424.6L421.1,2418.3L424.7,2412.1L428.3,2406.1L432.0,2400.2L435.6,2394.5L439.2,2389.0L442.8,2383.6L446.5,2378.3L450.1,2373.3L453.7,2368.4L457.3,2363.6L460.9,2359.0L464.6,2354.6L468.2,2350.3L471.8,2346.1L475.4,2342.2L479.0,2338.3L482.7,2334.6L486.3,2331.1L489.9,2327.6L493.5,2324.4L497.1,2321.2L500.8,2318.2L504.4,2315.3L508.0,2312.6L511.6,2310.0L515.2,2307.5L518.9,2305.1L522.5,2302.8L526.1,2300.7L529.7,2298.6L533.3,2296.7L537.0,2294.9L540.6,2293.2L544.2,2291.7L547.8,2290.2L551.4,2288.8L555.1,2287.5L558.7,2286.3L562.3,2285.3L565.9,2284.3L569.5,2283.4L573.2,2282.5L576.8,2281.8L580.4,2281.2L584.0,2280.6L587.6,2280.1L591.3,2279.7L594.9,2279.4L598.5,2279.2L602.1,2279.0L605.7,2278.9L609.4,2278.8L613.0,2278.9L616.6,2278.9L620.2,2279.1L623.8,2279.3L627.5,2279.5L631.1,2279.9L634.7,2280.2L638.3,2280.6L641.9,2281.1L645.6,2281.7L649.2,2282.3L652.8,2283.0L656.4,2283.8L660.0,2284.7L663.7,2285.7L667.3,2286.8L670.9,2287.9L674.5,2289.2L678.1,2290.6L681.8,2292.2L685.4,2293.8L689.0,2295.6L692.6,2297.5L696.3,2299.6L699.9,2301.8L703.5,2304.1L707.1,2306.6L710.7,2309.3L714.4,2312.2L718.0,2315.2L721.6,2318.4L725.2,2321.7L728.8,2325.3L732.5,2329.0L736.1,2333.0L739.7,2337.1L743.3,2341.5L746.9,2346.1L750.6,2350.9L754.2,2355.9L757.8,2361.1L761.4,2366.6L765.0,2372.3L768.7,2378.3L772.3,2384.5L775.9,2390.9L779.5,2397.7L783.1,2404.6L786.8,2411.9L790.4,2419.4L794.0,2427.2L797.6,2435.3L801.2,2443.7L804.9,2452.4L808.5,2461.4L812.1,2470.7L815.7,2480.3L819.3,2490.2L823.0,2500.4L823.5,2502.0L827.1,2493.2L830.7,2484.6L834.4,2476.0L838.0,2467.6L841.6,2459.3L845.2,2451.1L848.8,2443.0L852.5,2435.0L856.1,2427.2L859.7,2419.4L863.3,2411.8L866.9,2404.2L870.6,2396.8L874.2,2389.4L877.8,2382.2L881.4,2375.0L885.0,2368.0L888.7,2361.1L892.3,2354.2L895.9,2347.5L899.5,2340.9L903.2,2334.3L906.8,2327.9L910.4,2321.5L914.0,2315.3L917.6,2309.1L921.3,2303.1L924.9,2297.1L928.5,2291.2L932.1,2285.5L935.7,2279.8L939.4,2274.2L943.0,2268.6L946.6,2263.2L950.2,2257.9L953.8,2252.6L957.5,2247.5L961.1,2242.4L964.7,2237.4L968.3,2232.5L971.9,2227.6L975.6,2222.9L979.2,2218.2L982.8,2213.6L986.4,2209.1L990.0,2204.7L993.7,2200.3L997.3,2196.1L1000.9,2191.9L1004.5,2187.7L1008.1,2183.7L1011.8,2179.7L1015.4,2175.8L1019.0,2172.0L1022.6,2168.2L1026.2,2164.5L1029.9,2160.9L1033.5,2157.4L1037.1,2153.9L1040.7,2150.5L1044.3,2147.1L1048.0,2143.8L1051.6,2140.6L1055.2,2137.5L1058.8,2134.4L1062.4,2131.4L1066.1,2128.4L1069.7,2125.5L1073.3,2122.7L1076.9,2119.9L1080.5,2117.2L1084.2,2114.5L1087.8,2111.9L1091.4,2109.3L1095.0,2106.8L1098.6,2104.4L1102.3,2102.0L1105.9,2099.7L1109.5,2097.4L1113.1,2095.2L1116.7,2093.0L1120.4,2090.8L1124.0,2088.8L1127.6,2086.7L1131.2,2084.7L1134.8,2082.8L1138.5,2080.9L1142.1,2079.1L1145.7,2077.3L1149.3,2075.5L1153.0,2073.8L1156.6,2072.1L1160.2,2070.5L1163.8,2068.9L1167.4,2067.3L1171.1,2065.8L1174.7,2064.3L1178.3,2062.9L1181.9,2061.5L1185.5,2060.1L1189.2,2058.8L1192.8,2057.5L1196.4,2056.2L1200.0,2055.0L1203.6,2053.8L1207.3,2052.6L1210.9,2051.5L1214.5,2050.4L1218.1,2049.3L1221.7,2048.2L1225.4,2047.2L1229.0,2046.2L1232.6,2045.2L1236.2,2044.3L1239.8,2043.3L1243.5,2042.4L1247.1,2041.5L1250.7,2040.7L1254.3,2039.8L1257.9,2039.0L1261.6,2038.2L1265.2,2037.4L1268.8,2036.7L1272.4,2035.9L1276.0,2035.2L1279.7,2034.4L1283.3,2033.7L1286.9,2033.0L1290.5,2032.4L1294.1,2031.7L1297.8,2031.0L1301.4,2030.4L1305.0,2029.7L1308.6,2029.1L1312.2,2028.5L1315.9,2027.9L1319.5,2027.2L1322.9,2026.5L1326.2,2025.5L1329.5,2024.2L1332.9,2022.6L1336.2,2020.7L1339.4,2018.5L1342.7,2016.0L1345.9,2013.2L1349.2,2010.1L1352.8,2006.5L1356.4,2002.9L1360.0,1999.3L1363.7,1995.7L1367.3,1992.2L1370.9,1988.6L1374.5,1985.1L1378.1,1981.6L1381.8,1978.1L1385.4,1974.6L1389.0,1971.1L1392.6,1967.7L1396.2,1964.2L1399.9,1960.8L1403.5,1957.4L1407.1,1954.0L1410.7,1950.6L1414.3,1947.2L1418.0,1943.8L1421.6,1940.5L1425.2,1937.2L1428.8,1933.8L1432.4,1930.5L1436.1,1927.2L1439.7,1924.0L1443.3,1920.7L1446.9,1917.4L1450.5,1914.2L1454.2,1911.0L1457.8,1907.8L1461.4,1904.6L1465.0,1901.4L1468.6,1898.2L1472.3,1895.0L1475.9,1891.9L1479.5,1888.8L1483.1,1885.6L1486.7,1882.5L1490.4,1879.4L1494.0,1876.4L1497.6,1873.3L1501.2,1870.2L1504.8,1867.2L1508.5,1864.2L1512.1,1861.1L1515.7,1858.1L1519.3,1855.1L1522.9,1852.2L1526.6,1849.2L1530.2,1846.2L1533.8,1843.3L1537.4,1840.4L1541.0,1837.4L1544.7,1834.5L1548.3,1831.6L1551.9,1828.7L1555.5,1825.9L1559.1,1823.0L1562.8,1820.2L1566.4,1817.3L1570.0,1814.5L1573.6,1811.7L1577.2,1808.9L1580.9,1806.1L1584.5,1803.3L1588.1,1800.5L1591.7,1797.8L1595.4,1795.0L1599.0,1792.3L1602.6,1789.6L1606.2,1786.9L1609.8,1784.2L1613.5,1781.5L1617.1,1778.8L1620.7,1776.1L1624.3,1773.5L1627.9,1770.8L1631.6,1768.2L1635.2,1765.6L1638.8,1762.9L1642.4,1760.3L1646.0,1757.7L1649.7,1755.2L1653.3,1752.6L1656.9,1750.0L1660.5,1747.5L1664.1,1744.9L1667.8,1742.4L1671.4,1739.9L1675.0,1737.4L1678.6,1734.9L1682.2,1732.4L1685.9,1729.9L1689.5,1727.4L1693.1,1724.9L1696.7,1722.5L1700.3,1720.0L1704.0,1717.6L1707.6,1715.2L1711.2,1712.8L1714.8,1710.4L1718.4,1708.0L1722.1,1705.6L1725.7,1703.2L1729.3,1700.8L1732.9,1698.5L1736.5,1696.1L1740.2,1693.8L1743.8,1691.5L1747.4,1689.1L1751.0,1686.8L1754.6,1684.5L1758.3,1682.2L1761.9,1679.9L1765.5,1677.7L1769.1,1675.4L1772.7,1673.1L1776.4,1670.9L1780.0,1668.6L1783.6,1666.4L1787.2,1664.2L1790.8,1661.9L1794.5,1659.7L1798.1,1657.5L1801.7,1655.3L1805.3,1653.1L1808.9,1651.0L1812.6,1648.8L1816.2,1646.6L1819.8,1644.5L1823.4,1642.3L1827.1,1640.2L1830.7,1638.1L1834.3,1635.9L1837.9,1633.8L1841.5,1631.7L1845.2,1629.6L1848.8,1627.5L1852.4,1625.4L1856.0,1623.3L1859.6,1621.3L1863.3,1619.2L1866.9,1617.1L1870.5,1615.1L1874.1,1613.0L1877.7,1611.0L1881.4,1609.0L1885.0,1607.0L1888.6,1604.9L1892.2,1602.9L1895.8,1600.9L1899.5,1598.9L1903.1,1596.9L1906.7,1595.0L1910.3,1593.0L1913.9,1591.0L1917.6,1589.0L1921.2,1587.1L1924.8,1585.1L1928.4,1583.2L1932.0,1581.3L1935.7,1579.3L1939.3,1577.4L1941.6,1576.1" stroke="#8000FF"/>
<path d="M312.5,2651.7L315.6,2646.6L318.8,2641.1L321.9,2635.4L325.0,2629.4L328.2,2623.2L331.3,2616.8L334.4,2610.1L337.6,2603.3L340.7,2596.4L343.8,2589.3L347.0,2582.1L350.1,2574.9L353.2,2567.6L356.4,2560.2L359.5,2552.9L362.6,2545.5L365.8,2538.2L368.9,2531.0L372.0,2523.8L375.2,2516.8L378.3,2509.9L381.4,2503.1L384.6,2496.4L387.7,2489.9L390.8,2483.5L394.0,2477.2L397.1,2471.1L400.2,2465.1L403.4,2459.2L406.5,2453.4L409.6,2447.8L412.8,2442.2L415.9,2436.8L419.0,2431.5L422.1,2426.3L425.3,2421.2L428.4,2416.3L431.5,2411.4L434.7,2406.7L437.8,2402.0L440.9,2397.4L444.1,2393.0L447.2,2388.6L450.3,2384.4L453.5,2380.2L456.6,2376.1L459.7,2372.1L462.9,2368.2L466.0,2364.4L469.1,2360.7L472.3,2357.0L475.4,2353.5L478.5,2350.0L481.7,2346.6L484.8,2343.2L487.9,2340.0L491.1,2336.8L494.2,2333.8L497.3,2330.8L500.5,2327.8L503.6,2325.0L506.7,2322.2L509.9,2319.5L513.0,2316.9L516.1,2314.3L519.3,2311.9L522.4,2309.5L525.5,2307.2L528.7,2304.9L531.8,2302.7L534.9,2300.6L538.1,2298.6L541.2,2296.7L544.3,2294.8L547.5,2293.0L550.6,2291.2L553.7,2289.6L556.9,2288.0L560.0,2286.4L563.1,2285.0L566.3,2283.6L569.4,2282.2L572.5,2281.0L575.7,2279.8L578.8,2278.6L581.9,2277.6L585.1,2276.6L588.2,2275.6L591.3,2274.8L594.5,2274.0L597.6,2273.2L600.7,2272.5L603.9,2271.9L607.0,2271.3L610.1,2270.8L613.3,2270.4L616.4,2270.0L619.5,2269.7L622.7,2269.5L625.8,2269.3L628.9,2269.1L632.0,2269.0L635.2,2269.0L638.3,2269.0L641.4,2269.1L644.6,2269.3L647.7,2269.5L650.8,2269.7L654.0,2270.1L657.1,2270.5L660.2,2270.9L663.4,2271.4L666.5,2272.0L669.6,2272.7L672.8,2273.4L675.9,2274.2L679.0,2275.0L682.2,2275.9L685.3,2276.9L688.4,2278.0L691.6,2279.1L694.7,2280.3L697.8,2281.6L701.0,2282.9L704.1,2284.4L707.2,2285.8L710.4,2287.4L713.5,2289.1L716.6,2290.8L719.8,2292.6L722.9,2294.4L726.0,2296.4L729.2,2298.4L732.3,2300.5L735.4,2302.7L738.6,2305.0L741.7,2307.4L744.8,2309.8L748.0,2312.3L751.1,2315.0L754.2,2317.6L757.4,2320.4L760.5,2323.3L763.6,2326.3L766.8,2329.3L769.9,2332.4L773.0,2335.7L776.2,2339.0L779.3,2342.4L782.4,2345.9L785.6,2349.5L788.7,2353.2L791.8,2356.9L795.0,2360.8L798.1,2364.8L801.2,2368.9L804.4,2373.0L807.5,2377.3L810.6,2381.7L813.8,2386.1L816.9,2390.7L820.0,2395.4L823.2,2400.1L826.3,2405.0L829.4,2410.0L832.6,2415.0L835.7,2420.2L838.8,2425.5L842.0,2430.9L845.1,2436.4L848.2,2442.0L851.3,2447.8L854.5,2453.6L855.0,2454.4L858.1,2447.1L861.2,2439.9L864.3,2432.9L867.5,2425.9L870.6,2419.0L873.7,2412.2L876.9,2405.4L880.0,2398.8L883.1,2392.3L886.3,2385.8L889.4,2379.5L892.5,2373.2L895.7,2367.0L898.8,2360.9L901.9,2354.9L905.1,2348.9L908.2,2343.1L911.3,2337.3L914.5,2331.6L917.6,2326.0L920.7,2320.4L923.9,2315.0L927.0,2309.6L930.1,2304.2L933.3,2299.0L936.4,2293.8L939.5,2288.7L942.7,2283.7L945.8,2278.8L948.9,2273.9L952.1,2269.0L955.2,2264.3L958.3,2259.6L961.5,2255.0L964.6,2250.4L967.7,2245.9L970.9,2241.5L974.0,2237.2L977.1,2232.8L980.3,2228.6L983.4,2224.4L986.5,2220.3L989.7,2216.2L992.8,2212.2L995.9,2208.3L999.1,2204.4L1002.2,2200.5L1005.3,2196.7L1008.5,2193.0L1011.6,2189.3L1014.7,2185.6L1017.9,2182.0L1021.0,2178.5L1024.1,2175.0L1027.3,2171.6L1030.4,2168.2L1033.5,2164.8L1036.7,2161.5L1039.8,2158.2L1042.9,2155.0L1046.1,2151.8L1049.2,2148.6L1052.3,2145.5L1055.5,2142.5L1058.6,2139.4L1061.7,2136.4L1064.9,2133.5L1068.0,2130.5L1071.1,2127.7L1074.3,2124.8L1077.4,2122.0L1080.5,2119.2L1083.6,2116.4L1086.8,2113.7L1089.9,2111.0L1093.0,2108.3L1096.2,2105.6L1099.3,2103.0L1102.4,2100.4L1105.6,2097.8L1108.7,2095.3L1111.8,2092.8L1115.0,2090.3L1118.1,2087.8L1121.2,2085.4L1124.4,2083.0L1127.5,2080.6L1130.6,2078.2L1133.8,2075.9L1136.9,2073.6L1140.0,2071.3L1143.2,2069.1L1146.3,2066.8L1149.4,2064.6L1152.6,2062.4L1155.7,2060.3L1158.8,2058.2L1162.0,2056.0L1165.1,2054.0L1168.2,2051.9L1171.4,2049.9L1174.5,2047.8L1177.6,2045.8L1180.8,2043.9L1183.9,2041.9L1187.0,2040.0L1190.2,2038.1L1193.3,2036.2L1196.4,2034.4L1199.6,2032.5L1202.7,2030.7L1205.8,2028.9L1209.0,2027.1L1212.1,2025.4L1215.2,2023.6L1218.4,2021.9L1221.5,2020.2L1224.6,2018.6L1227.8,2016.9L1230.9,2015.3L1234.0,2013.7L1237.2,2012.1L1240.3,2010.5L1243.4,2008.9L1246.6,2007.4L1249.7,2005.9L1252.8,2004.4L1256.0,2002.9L1259.1,2001.4L1262.2,2000.0L1265.4,1998.5L1268.5,1997.1L1271.6,1995.7L1274.8,1994.3L1277.9,1993.0L1281.0,1991.6L1284.2,1990.3L1287.3,1989.0L1290.4,1987.7L1293.5,1986.4L1296.7,1985.1L1299.8,1983.8L1302.9,1982.6L1306.1,1981.4L1309.2,1980.2L1312.3,1979.0L1315.5,1977.8L1318.6,1976.6L1321.7,1975.5L1324.9,1974.3L1328.0,1973.2L1331.1,1972.1L1334.3,1971.0L1337.4,1969.9L1340.5,1968.8L1343.7,1967.7L1346.8,1966.7L1349.9,1965.6L1353.1,1964.6L1356.2,1963.6L1359.3,1962.6L1362.5,1961.6L1365.6,1960.6L1368.7,1959.6L1371.9,1958.7L1375.0,1957.7L1378.1,1956.8L1381.3,1955.8L1384.3,1954.9L1387.2,1953.7L1390.2,1952.4L1393.1,1950.8L1396.1,1949.0L1399.0,1947.0L1401.9,1944.8L1404.8,1942.4L1407.7,1939.8L1410.5,1937.0L1413.4,1934.0L1416.5,1930.8L1419.6,1927.6L1422.8,1924.5L1425.9,1921.4L1429.0,1918.4L1432.2,1915.4L1435.3,1912.4L1438.4,1909.6L1441.6,1906.7L1444.7,1903.9L1447.8,1901.2L1451.0,1898.5L1454.1,1895.8L1457.2,1893.2L1460.4,1890.6L1463.5,1888.1L1466.6,1885.6L1469.8,1883.1L1472.9,1880.7L1476.0,1878.3L1479.2,1876.0L1482.3,1873.6L1485.4,1871.3L1488.6,1869.1L1491.7,1866.8L1494.8,1864.6L1498.0,1862.4L1501.1,1860.3L1504.2,1858.1L1507.4,1856.0L1510.5,1853.9L1513.6,1851.9L1516.8,1849.8L1519.9,1847.8L1523.0,1845.8L1526.2,1843.8L1529.3,1841.8L1532.4,1839.9L1535.6,1837.9L1538.7,1836.0L1541.8,1834.0L1545.0,1832.1L1548.1,1830.2L1551.2,1828.3L1554.4,1826.4L1557.5,1824.5L1560.6,1822.6L1563.8,1820.8L1566.9,1818.9L1570.0,1817.0L1573.2,1815.1L1576.3,1813.2L1579.4,1811.3L1582.6,1809.5L1585.7,1807.6L1588.8,1805.7L1592.0,1803.8L1595.1,1801.8L1598.2,1799.9L1601.4,1798.0L1604.5,1796.0L1607.6,1794.1L1610.7,1792.1L1613.9,1790.1L1617.0,1788.1L1620.1,1786.1L1623.3,1784.0L1626.4,1782.0L1629.5,1779.9L1632.7,1777.8L1635.8,1775.6L1638.9,1773.5L1642.1,1771.3L1645.2,1769.1L1648.3,1766.9L1651.5,1764.6L1654.6,1762.3L1657.7,1760.0L1660.9,1757.7L1664.0,1755.3L1667.1,1752.8L1670.3,1750.4L1673.4,1747.9L1676.5,1745.4L1679.7,1742.8L1682.8,1740.2L1685.9,1737.5L1689.1,1734.8L1692.2,1732.1L1695.3,1729.3L1698.5,1726.5L1701.6,1723.6L1704.7,1720.7L1707.9,1717.7L1711.0,1714.7L1714.1,1711.6L1717.3,1708.5L1720.4,1705.3L1722.3,1703.4" stroke="#008080"/>
<path d="M312.5,2658.0L315.3,2652.5L318.1,2646.8L320.9,2641.1L323.7,2635.3L326.5,2629.5L329.3,2623.6L332.2,2617.6L335.0,2611.6L337.8,2605.6L340.6,2599.6L343.4,2593.5L346.2,2587.4L349.0,2581.3L351.8,2575.2L354.6,2569.1L357.4,2563.0L360.2,2556.9L363.0,2550.9L365.9,2544.9L368.7,2538.9L371.5,2532.9L374.3,2527.0L377.1,2521.1L379.9,2515.3L382.7,2509.5L385.5,2503.8L388.3,2498.2L391.1,2492.6L393.9,2487.1L396.7,2481.8L399.5,2476.5L402.4,2471.3L405.2,2466.2L408.0,2461.2L410.8,2456.2L413.6,2451.4L416.4,2446.6L419.2,2442.0L422.0,2437.4L424.8,2432.9L427.6,2428.4L430.4,2424.1L433.2,2419.8L436.1,2415.6L438.9,2411.5L441.7,2407.5L444.5,2403.5L447.3,2399.7L450.1,2395.8L452.9,2392.1L455.7,2388.4L458.5,2384.8L461.3,2381.3L464.1,2377.8L466.9,2374.4L469.7,2371.1L472.6,2367.8L475.4,2364.6L478.2,2361.4L481.0,2358.3L483.8,2355.3L486.6,2352.3L489.4,2349.4L492.2,2346.5L495.0,2343.7L497.8,2340.9L500.6,2338.2L503.4,2335.5L506.3,2332.9L509.1,2330.3L511.9,2327.8L514.7,2325.4L517.5,2322.9L520.3,2320.5L523.1,2318.2L525.9,2315.9L528.7,2313.6L531.5,2311.4L534.3,2309.3L537.1,2307.2L539.9,2305.1L542.8,2303.0L545.6,2301.1L548.4,2299.1L551.2,2297.2L554.0,2295.4L556.8,2293.5L559.6,2291.8L562.4,2290.0L565.2,2288.4L568.0,2286.7L570.8,2285.1L573.6,2283.6L576.5,2282.1L579.3,2280.6L582.1,2279.2L584.9,2277.8L587.7,2276.4L590.5,2275.1L593.3,2273.9L596.1,2272.7L598.9,2271.5L601.7,2270.4L604.5,2269.3L607.3,2268.2L610.1,2267.2L613.0,2266.3L615.8,2265.4L618.6,2264.5L621.4,2263.7L624.2,2262.9L627.0,2262.1L629.8,2261.4L632.6,2260.7L635.4,2260.1L638.2,2259.5L641.0,2259.0L643.8,2258.5L646.7,2258.0L649.5,2257.6L652.3,2257.2L655.1,2256.9L657.9,2256.6L660.7,2256.3L663.5,2256.1L666.3,2255.9L669.1,2255.8L671.9,2255.7L674.7,2255.7L677.5,2255.7L680.3,2255.7L683.2,2255.8L686.0,2255.9L688.8,2256.1L691.6,2256.3L694.4,2256.6L697.2,2256.9L700.0,2257.3L702.8,2257.7L705.6,2258.1L708.4,2258.6L711.2,2259.1L714.0,2259.7L716.9,2260.4L719.7,2261.0L722.5,2261.8L725.3,2262.5L728.1,2263.3L730.9,2264.2L733.7,2265.1L736.5,2266.1L739.3,2267.1L742.1,2268.2L744.9,2269.3L747.7,2270.4L750.5,2271.6L753.4,2272.9L756.2,2274.2L759.0,2275.6L761.8,2277.0L764.6,2278.4L767.4,2279.9L770.2,2281.5L773.0,2283.1L775.8,2284.7L778.6,2286.4L781.4,2288.2L784.2,2290.0L787.1,2291.9L789.9,2293.8L792.7,2295.8L795.5,2297.8L798.3,2299.9L801.1,2302.0L803.9,2304.2L806.7,2306.4L809.5,2308.7L812.3,2311.1L815.1,2313.4L817.9,2315.9L820.7,2318.4L823.6,2321.0L826.4,2323.6L829.2,2326.3L832.0,2329.0L834.8,2331.8L837.6,2334.6L840.4,2337.5L843.2,2340.5L846.0,2343.5L848.8,2346.5L851.6,2349.6L854.4,2352.8L857.3,2356.1L860.1,2359.4L862.9,2362.7L865.7,2366.1L868.5,2369.6L871.3,2373.1L874.1,2376.7L876.9,2380.4L879.7,2384.1L882.5,2387.8L885.3,2391.7L888.1,2395.5L890.9,2399.5L891.9,2400.8L894.7,2395.4L897.5,2390.0L900.4,2384.7L903.2,2379.5L906.0,2374.3L908.8,2369.2L911.6,2364.1L914.4,2359.1L917.2,2354.1L920.0,2349.2L922.8,2344.4L925.6,2339.6L928.4,2334.8L931.2,2330.1L934.0,2325.5L936.9,2320.9L939.7,2316.3L942.5,2311.8L945.3,2307.4L948.1,2303.0L950.9,2298.6L953.7,2294.3L956.5,2290.1L959.3,2285.8L962.1,2281.7L964.9,2277.5L967.7,2273.4L970.6,2269.4L973.4,2265.4L976.2,2261.4L979.0,2257.5L981.8,2253.6L984.6,2249.8L987.4,2245.9L990.2,2242.2L993.0,2238.4L995.8,2234.7L998.6,2231.0L1001.4,2227.4L1004.2,2223.8L1007.1,2220.2L1009.9,2216.7L1012.7,2213.2L1015.5,2209.7L1018.3,2206.2L1021.1,2202.8L1023.9,2199.4L1026.7,2196.0L1029.5,2192.7L1032.3,2189.4L1035.1,2186.1L1037.9,2182.8L1040.8,2179.6L1043.6,2176.3L1046.4,2173.1L1049.2,2169.9L1052.0,2166.8L1054.8,2163.6L1057.6,2160.5L1060.4,2157.4L1063.2,2154.3L1066.0,2151.2L1068.8,2148.2L1071.6,2145.1L1074.4,2142.1L1077.3,2139.1L1080.1,2136.1L1082.9,2133.1L1085.7,2130.2L1088.5,2127.2L1091.3,2124.3L1094.1,2121.4L1096.9,2118.5L1099.7,2115.6L1102.5,2112.7L1105.3,2109.9L1108.1,2107.1L1111.0,2104.2L1113.8,2101.4L1116.6,2098.7L1119.4,2095.9L1122.2,2093.1L1125.0,2090.4L1127.8,2087.7L1130.6,2085.0L1133.4,2082.3L1136.2,2079.6L1139.0,2077.0L1141.8,2074.4L1144.6,2071.7L1147.5,2069.1L1150.3,2066.6L1153.1,2064.0L1155.9,2061.5L1158.7,2058.9L1161.5,2056.4L1164.3,2053.9L1167.1,2051.5L1169.9,2049.0L1172.7,2046.6L1175.5,2044.1L1178.3,2041.7L1181.2,2039.3L1184.0,2037.0L1186.8,2034.6L1189.6,2032.3L1192.4,2030.0L1195.2,2027.7L1198.0,2025.4L1200.8,2023.1L1203.6,2020.9L1206.4,2018.7L1209.2,2016.5L1212.0,2014.3L1214.8,2012.1L1217.7,2010.0L1220.5,2007.8L1223.3,2005.7L1226.1,2003.6L1228.9,2001.6L1231.7,1999.5L1234.5,1997.5L1237.3,1995.5L1240.1,1993.5L1242.9,1991.5L1245.7,1989.5L1248.5,1987.6L1251.4,1985.7L1254.2,1983.8L1257.0,1981.9L1259.8,1980.0L1262.6,1978.2L1265.4,1976.4L1268.2,1974.6L1271.0,1972.8L1273.8,1971.0L1276.6,1969.3L1279.4,1967.6L1282.2,1965.9L1285.0,1964.2L1287.9,1962.5L1290.7,1960.9L1293.5,1959.3L1296.3,1957.7L1299.1,1956.1L1301.9,1954.5L1304.7,1953.0L1307.5,1951.5L1310.3,1950.0L1313.1,1948.5L1315.9,1947.0L1318.7,1945.6L1321.6,1944.2L1324.4,1942.8L1327.2,1941.4L1330.0,1940.1L1332.8,1938.7L1335.6,1937.4L1338.4,1936.1L1341.2,1934.9L1344.0,1933.6L1346.8,1932.4L1349.6,1931.2L1352.4,1930.0L1355.2,1928.9L1358.1,1927.7L1360.9,1926.6L1363.7,1925.5L1366.5,1924.4L1369.3,1923.4L1372.1,1922.4L1374.9,1921.4L1377.7,1920.4L1380.5,1919.4L1383.3,1918.5L1386.1,1917.6L1388.9,1916.7L1391.8,1915.8L1394.6,1915.0L1397.4,1914.1L1400.2,1913.3L1403.0,1912.5L1405.8,1911.8L1408.6,1911.0L1411.4,1910.3L1414.2,1909.6L1417.0,1909.0L1419.8,1908.3L1422.6,1907.7L1425.4,1907.1L1428.3,1906.5L1431.1,1906.0L1433.9,1905.5L1436.7,1904.9L1439.5,1904.5L1442.3,1904.0L1445.1,1903.6L1447.9,1903.2L1450.7,1902.8L1453.4,1902.4L1456.0,1901.8L1458.7,1901.1L1461.4,1900.2L1464.1,1899.1L1466.8,1897.9L1469.6,1896.4L1472.3,1894.8L1475.1,1893.0L1477.8,1891.1L1480.6,1888.9L1483.4,1886.6L1486.2,1884.2L1489.0,1881.8L1491.9,1879.4L1494.7,1877.0L1497.5,1874.6L1500.3,1872.2L1503.1,1869.8L1505.9,1867.4L1508.7,1865.0L1511.5,1862.6L1514.3,1860.2L1517.1,1857.8L1519.9,1855.4L1522.7,1853.0L1525.6,1851.2L1528.4,1849.3L1531.2,1847.4L1534.0,1845.6L1536.8,1843.7L1539.6,1841.9L1542.4,1840.0L1545.2,1838.2L1548.0,1836.3L1550.8,1834.4L1553.6,1832.6L1556.4,1830.7L1559.2,1828.9L1562.1,1827.0L1564.9,1825.2L1567.7,1823.3L1570.5,1821.4L1573.3,1819.6L1576.1,1817.7" stroke="#800000"/>
<path d="M312.5,2665.8L315.0,2660.1L317.4,2654.4L319.9,2648.8L322.4,2643.2L324.8,2637.7L327.3,2632.1L329.7,2626.7L332.2,2621.2L334.7,2615.8L337.1,2610.5L339.6,2605.2L342.1,2599.9L344.5,2594.6L347.0,2589.4L349.5,2584.3L351.9,2579.2L354.4,2574.1L356.9,2569.0L359.3,2564.0L361.8,2559.1L364.2,2554.1L366.7,2549.3L369.2,2544.4L371.6,2539.6L374.1,2534.9L376.6,2530.2L379.0,2525.5L381.5,2520.9L384.0,2516.3L386.4,2511.7L388.9,2507.2L391.3,2502.8L393.8,2498.4L396.3,2494.0L398.7,2489.7L401.2,2485.4L403.7,2481.1L406.1,2476.9L408.6,2472.8L411.1,2468.7L413.5,2464.6L416.0,2460.6L418.5,2456.6L420.9,2452.7L423.4,2448.8L425.8,2445.0L428.3,2441.2L430.8,2437.4L433.2,2433.7L435.7,2430.1L438.2,2426.4L440.6,2422.9L443.1,2419.3L445.6,2415.9L448.0,2412.4L450.5,2409.1L452.9,2405.7L455.4,2402.4L457.9,2399.1L460.3,2395.9L462.8,2392.8L465.3,2389.6L467.7,2386.5L470.2,2383.5L472.7,2380.5L475.1,2377.5L477.6,2374.6L480.1,2371.7L482.5,2368.8L485.0,2366.0L487.4,2363.2L489.9,2360.5L492.4,2357.8L494.8,2355.1L497.3,2352.5L499.8,2349.9L502.2,2347.4L504.7,2344.9L507.2,2342.4L509.6,2339.9L512.1,2337.5L514.5,2335.1L517.0,2332.8L519.5,2330.5L521.9,2328.2L524.4,2326.0L526.9,2323.7L529.3,2321.6L531.8,2319.4L534.3,2317.3L536.7,2315.2L539.2,2313.1L541.7,2311.1L544.1,2309.1L546.6,2307.1L549.0,2305.2L551.5,2303.3L554.0,2301.4L556.4,2299.5L558.9,2297.7L561.4,2295.9L563.8,2294.1L566.3,2292.4L568.8,2290.6L571.2,2288.9L573.7,2287.3L576.1,2285.6L578.6,2284.0L581.1,2282.4L583.5,2280.9L586.0,2279.4L588.5,2277.9L590.9,2276.4L593.4,2274.9L595.9,2273.5L598.3,2272.1L600.8,2270.7L603.3,2269.4L605.7,2268.1L608.2,2266.8L610.6,2265.5L613.1,2264.3L615.6,2263.1L618.0,2261.9L620.5,2260.7L623.0,2259.6L625.4,2258.5L627.9,2257.4L630.4,2256.3L632.8,2255.3L635.3,2254.3L637.7,2253.3L640.2,2252.3L642.7,2251.4L645.1,2250.5L647.6,2249.6L650.1,2248.7L652.5,2247.9L655.0,2247.1L657.5,2246.3L659.9,2245.5L662.4,2244.8L664.9,2244.1L667.3,2243.4L669.8,2242.7L672.2,2242.0L674.7,2241.4L677.2,2240.8L679.6,2240.2L682.1,2239.7L684.6,2239.2L687.0,2238.7L689.5,2238.2L692.0,2237.7L694.4,2237.3L696.9,2236.8L699.3,2236.5L701.8,2236.1L704.3,2235.7L706.7,2235.4L709.2,2235.1L711.7,2234.8L714.1,2234.6L716.6,2234.3L719.1,2234.1L721.5,2233.9L724.0,2233.7L726.5,2233.6L728.9,2233.4L731.4,2233.3L733.8,2233.2L736.3,2233.2L738.8,2233.1L741.2,2233.1L743.7,2233.1L746.2,2233.1L748.6,2233.2L751.1,2233.3L753.6,2233.3L756.0,2233.5L758.5,2233.6L760.9,2233.7L763.4,2233.9L765.9,2234.1L768.3,2234.4L770.8,2234.6L773.3,2234.9L775.7,2235.2L778.2,2235.5L780.7,2235.8L783.1,2236.2L785.6,2236.6L788.1,2237.0L790.5,2237.4L793.0,2237.9L795.4,2238.4L797.9,2238.9L800.4,2239.4L802.8,2239.9L805.3,2240.5L807.8,2241.1L810.2,2241.7L812.7,2242.4L815.2,2243.1L817.6,2243.8L820.1,2244.5L822.6,2245.2L825.0,2246.0L827.5,2246.8L829.9,2247.6L832.4,2248.4L834.9,2249.3L837.3,2250.2L839.8,2251.1L842.3,2252.0L844.7,2253.0L847.2,2254.0L849.7,2255.0L852.1,2256.1L854.6,2257.1L857.0,2258.2L859.5,2259.3L862.0,2260.5L864.4,2261.6L866.9,2262.8L869.4,2264.0L871.8,2265.3L874.3,2266.5L876.8,2267.8L879.2,2269.2L881.7,2270.5L884.2,2271.9L886.6,2273.3L889.1,2274.7L891.5,2276.1L894.0,2277.6L896.5,2279.1L898.9,2280.7L901.4,2282.2L903.9,2283.8L906.3,2285.4L908.8,2287.0L911.3,2288.7L913.7,2290.4L916.2,2292.1L918.6,2293.8L921.1,2295.6L923.6,2297.4L926.0,2299.2L928.5,2301.1L931.0,2302.9L933.4,2304.9L935.9,2306.8L938.4,2308.7L940.8,2310.7L943.3,2312.7L945.6,2314.6L947.9,2316.1L950.3,2317.2L952.6,2318.0L955.0,2318.5L957.3,2318.7L959.7,2318.5L962.1,2317.9L964.5,2317.1L966.9,2315.9L969.3,2314.3L971.7,2312.4L974.1,2310.2L976.6,2307.7L979.0,2304.8L981.5,2301.6L983.9,2298.2L986.4,2294.9L988.9,2291.6L991.3,2288.3L993.8,2285.0L996.3,2281.7L998.7,2278.4L1001.2,2275.2L1003.7,2271.9L1006.1,2268.7L1008.6,2265.5L1011.0,2262.3L1013.5,2259.1L1016.0,2255.9L1018.4,2252.8L1020.9,2249.6L1023.4,2246.5L1025.8,2243.4L1028.3,2240.3L1030.8,2237.2L1033.2,2234.1L1035.7,2231.0L1038.2,2228.0L1040.6,2224.9L1043.1,2221.9L1045.5,2218.9L1048.0,2215.9L1050.5,2212.9L1052.9,2209.9L1055.4,2206.9L1057.9,2204.0L1060.3,2201.0L1062.8,2198.1L1065.3,2195.2L1067.7,2192.3L1070.2,2189.4L1072.6,2186.5L1075.1,2183.7L1077.6,2180.8L1080.0,2178.0L1082.5,2175.2L1085.0,2172.4L1087.4,2169.6L1089.9,2166.8L1092.4,2164.0L1094.8,2161.2L1097.3,2158.5L1099.8,2155.8L1102.2,2153.1L1104.7,2150.4L1107.1,2147.7L1109.6,2145.0L1112.1,2142.3L1114.5,2139.7L1117.0,2137.0L1119.5,2134.4L1121.9,2131.8L1124.4,2129.2L1126.9,2126.6L1129.3,2124.0L1131.8,2121.5L1134.2,2118.9L1136.7,2116.4L1139.2,2113.9L1141.6,2111.4L1144.1,2108.9L1146.6,2106.4L1149.0,2103.9L1151.5,2101.5L1154.0,2099.0L1156.4,2096.6L1158.9,2094.2L1161.4,2091.8L1163.8,2089.4L1166.3,2087.0L1168.7,2084.7L1171.2,2082.3L1173.7,2080.0L1176.1,2077.7L1178.6,2075.4L1181.1,2073.1L1183.5,2070.8L1186.0,2068.5L1188.5,2066.3L1190.9,2064.0L1193.4,2061.8L1195.8,2059.6L1198.3,2057.4L1200.8,2055.2L1203.2,2053.0L1205.7,2050.9L1208.2,2048.7L1210.6,2046.6L1213.1,2044.5L1215.6,2042.4L1218.0,2040.3L1220.5,2038.2L1223.0,2036.1L1225.4,2034.1L1227.9,2032.0L1230.3,2030.0L1232.8,2028.0L1235.3,2026.0L1237.7,2024.0L1240.2,2022.0L1242.7,2020.1L1245.1,2018.1L1247.6,2016.2L1250.1,2014.3L1252.5,2012.4L1255.0,2010.5L1257.4,2008.6L1259.9,2006.7L1262.4,2004.9L1264.8,2003.1L1267.3,2001.2L1269.8,1999.4L1272.2,1997.6L1274.7,1995.8L1277.2,1994.1L1279.6,1992.3L1282.1,1990.6L1284.6,1988.8L1287.0,1987.1L1289.5,1985.4L1291.9,1983.7L1294.4,1982.0L1296.9,1980.4L1299.3,1978.7L1301.8,1977.1L1304.3,1975.5L1306.7,1973.9L1309.2,1972.3L1311.7,1970.7L1314.1,1969.1L1316.6,1967.6L1319.0,1966.0L1321.5,1964.5L1324.0,1963.0L1326.4,1961.5L1328.9,1960.0L1331.4,1958.5L1333.8,1957.1L1336.3,1955.6L1338.8,1954.2L1341.2,1952.8L1343.7,1951.4L1346.2,1950.0L1348.6,1948.6L1351.1,1947.2L1353.5,1945.9L1356.0,1944.5L1358.5,1943.2L1360.9,1941.9L1363.4,1940.6L1365.9,1939.3L1368.3,1938.1L1370.8,1936.8L1373.3,1935.6L1375.7,1934.3L1378.2,1933.1L1380.6,1931.9L1383.1,1930.7L1385.6,1929.6L1388.0,1928.4L1390.5,1927.3L1393.0,1926.1L1395.4,1925.0L1397.9,1923.9L1400.4,1922.8L1402.8,1921.8L1405.3,1920.7L1407.8,1919.6L1410.2,1918.6L1412.7,1917.6L1415.1,1916.6L1417.6,1915.6L1420.1,1914.6L1421.3,1914.1" stroke="#F0822F"/>
<path d="M312.5,2670.3L314.6,2666.0L316.8,2661.8L318.9,2657.6L321.1,2653.4L323.2,2649.3L325.4,2645.1L327.5,2641.0L329.6,2636.9L331.8,2632.9L333.9,2628.9L336.1,2624.8L338.2,2620.9L340.4,2616.9L342.5,2613.0L344.6,2609.1L346.8,2605.2L348.9,2601.4L351.1,2597.5L353.2,2593.7L355.4,2589.9L357.5,2586.2L359.6,2582.5L361.8,2578.8L363.9,2575.1L366.1,2571.4L368.2,2567.8L370.4,2564.2L372.5,2560.6L374.7,2557.0L376.8,2553.5L378.9,2550.0L381.1,2546.5L383.2,2543.0L385.4,2539.5L387.5,2536.1L389.7,2532.7L391.8,2529.3L393.9,2526.0L396.1,2522.7L398.2,2519.3L400.4,2516.1L402.5,2512.8L404.7,2509.5L406.8,2506.3L408.9,2503.1L411.1,2499.9L413.2,2496.8L415.4,2493.7L417.5,2490.5L419.7,2487.5L421.8,2484.4L423.9,2481.3L426.1,2478.3L428.2,2475.3L430.4,2472.3L432.5,2469.3L434.7,2466.4L436.8,2463.5L438.9,2460.6L441.1,2457.7L443.2,2454.8L445.4,2452.0L447.5,2449.2L449.7,2446.4L451.8,2443.6L453.9,2440.8L456.1,2438.1L458.2,2435.4L460.4,2432.7L462.5,2430.0L464.7,2427.3L466.8,2424.7L468.9,2422.1L471.1,2419.4L473.2,2416.9L475.4,2414.3L477.5,2411.7L479.7,2409.2L481.8,2406.7L483.9,2404.2L486.1,2401.7L488.2,2399.3L490.4,2396.8L492.5,2394.4L494.7,2392.0L496.8,2389.6L499.0,2387.3L501.1,2384.9L503.2,2382.6L505.4,2380.3L507.5,2378.0L509.7,2375.7L511.8,2373.5L514.0,2371.2L516.1,2369.0L518.2,2366.8L520.4,2364.6L522.5,2362.4L524.7,2360.3L526.8,2358.1L529.0,2356.0L531.1,2353.9L533.2,2351.8L535.4,2349.7L537.5,2347.7L539.7,2345.6L541.8,2343.6L544.0,2341.6L546.1,2339.6L548.2,2337.6L550.4,2335.6L552.5,2333.7L554.7,2331.8L556.8,2329.9L559.0,2328.0L561.1,2326.1L563.2,2324.2L565.4,2322.3L567.5,2320.5L569.7,2318.7L571.8,2316.9L574.0,2315.1L576.1,2313.3L578.2,2311.5L580.4,2309.8L582.5,2308.0L584.7,2306.3L586.8,2304.6L589.0,2302.9L591.1,2301.2L593.2,2299.6L595.4,2297.9L597.5,2296.3L599.7,2294.7L601.8,2293.1L604.0,2291.5L606.1,2289.9L608.3,2288.3L610.4,2286.8L612.5,2285.2L614.7,2283.7L616.8,2282.2L619.0,2280.7L621.1,2279.2L623.3,2277.7L625.4,2276.2L627.5,2274.8L629.7,2273.3L631.8,2271.9L634.0,2270.5L636.1,2269.1L638.3,2267.7L640.4,2266.3L642.5,2265.0L644.7,2263.6L646.8,2262.3L649.0,2261.0L651.1,2259.6L653.3,2258.3L655.4,2257.1L657.5,2255.8L659.7,2254.5L661.8,2253.3L664.0,2252.0L666.1,2250.8L668.3,2249.6L670.4,2248.4L672.5,2247.2L674.7,2246.0L676.8,2244.8L679.0,2243.7L681.1,2242.5L683.3,2241.4L685.4,2240.3L687.5,2239.1L689.7,2238.0L691.8,2237.0L694.0,2235.9L696.1,2234.8L698.3,2233.8L700.4,2232.7L702.5,2231.7L704.7,2230.7L706.8,2229.7L709.0,2228.7L711.1,2227.7L713.3,2226.7L715.4,2225.7L717.6,2224.8L719.7,2223.8L721.8,2222.9L724.0,2222.0L726.1,2221.1L728.3,2220.2L730.4,2219.3L732.6,2218.4L734.7,2217.5L736.8,2216.7L739.0,2215.8L741.1,2215.0L743.3,2214.2L745.4,2213.3L747.6,2212.5L749.7,2211.7L751.8,2211.0L754.0,2210.2L756.1,2209.4L758.3,2208.7L760.4,2207.9L762.6,2207.2L764.7,2206.5L766.8,2205.7L769.0,2205.0L771.1,2204.3L773.3,2203.7L775.4,2203.0L777.6,2202.3L779.7,2201.7L781.8,2201.0L784.0,2200.4L786.1,2199.7L788.3,2199.1L790.4,2198.5L792.6,2197.9L794.7,2197.3L796.8,2196.8L799.0,2196.2L801.1,2195.6L803.3,2195.1L805.4,2194.5L807.6,2194.0L809.7,2193.5L811.8,2192.9L814.0,2192.4L816.1,2191.9L818.3,2191.4L820.4,2191.0L822.6,2190.5L824.7,2190.0L826.8,2189.6L829.0,2189.1L831.1,2188.7L833.3,2188.2L835.4,2187.8L837.6,2187.4L839.7,2187.0L841.9,2186.6L844.0,2186.2L846.1,2185.8L848.3,2185.5L850.4,2185.1L852.6,2184.7L854.7,2184.4L856.9,2184.0L859.0,2183.7L861.1,2183.4L863.3,2183.1L865.4,2182.8L867.6,2182.4L869.7,2182.1L871.9,2181.9L874.0,2181.6L876.1,2181.3L878.3,2181.0L880.4,2180.8L882.6,2180.5L884.7,2180.3L886.9,2180.0L889.0,2179.8L891.1,2179.6L893.3,2179.4L895.4,2179.1L897.6,2178.9L899.7,2178.7L901.9,2178.5L904.0,2178.4L906.1,2178.2L908.3,2178.0L910.4,2177.8L912.6,2177.7L914.7,2177.5L916.9,2177.4L919.0,2177.2L921.1,2177.1L923.3,2177.0L925.4,2176.8L927.6,2176.7L929.7,2176.6L931.9,2176.5L934.0,2176.4L936.1,2176.3L938.3,2176.2L940.4,2176.1L942.6,2176.0L944.7,2176.0L946.9,2175.9L949.0,2175.8L951.2,2175.8L953.3,2175.7L955.4,2175.7L957.6,2175.6L959.7,2175.6L961.9,2175.6L964.0,2175.5L966.2,2175.5L968.3,2175.5L970.4,2175.5L972.6,2175.5L974.7,2175.5L976.9,2175.5L979.0,2175.5L981.2,2175.5L983.3,2175.5L985.4,2175.5L987.6,2175.5L989.7,2175.6L991.9,2175.6L994.0,2175.6L996.2,2175.7L998.3,2175.7L1000.4,2175.8L1002.6,2175.8L1004.7,2175.9L1006.9,2175.9L1009.0,2176.0L1011.2,2176.0L1013.3,2176.1L1015.4,2176.2L1017.6,2176.3L1019.7,2176.3L1021.9,2176.4L1024.0,2176.5L1026.2,2176.6L1028.3,2176.7L1030.4,2176.8L1032.6,2176.9L1034.7,2177.0L1036.9,2177.1L1039.0,2177.2L1041.2,2177.3L1043.3,2177.4L1045.4,2177.5L1047.6,2177.7L1049.7,2177.8L1051.9,2177.9L1054.0,2178.0L1056.2,2178.2L1058.3,2178.3L1060.5,2178.4L1062.6,2178.5L1064.7,2178.7L1066.9,2178.8L1069.0,2179.0L1071.2,2179.1L1073.3,2179.3L1075.5,2179.4L1077.6,2179.6L1079.7,2179.7L1081.9,2179.9L1084.0,2180.0L1086.2,2180.2L1088.3,2180.3L1090.5,2180.5L1092.6,2180.6L1094.7,2180.8L1096.9,2181.0L1099.0,2181.1L1101.2,2181.3L1103.3,2181.5L1105.5,2181.6L1107.6,2181.8L1109.7,2181.9L1111.9,2181.9L1114.0,2181.8L1116.2,2181.6L1118.3,2181.3L1120.5,2180.9L1122.6,2180.4L1124.7,2179.8L1126.9,2179.1L1129.0,2178.3L1131.2,2177.4L1133.3,2176.3L1135.5,2175.2L1137.6,2174.0L1139.7,2172.6L1141.9,2171.2L1144.0,2169.6L1146.2,2168.0L1148.3,2166.2L1150.5,2164.3L1152.6,2162.4L1154.7,2160.5L1156.9,2158.6L1159.0,2156.7L1161.2,2154.8L1163.3,2152.9L1165.5,2151.0L1167.6,2149.0L1169.7,2147.1L1171.9,2145.2L1174.0,2143.3L1176.2,2141.4L1178.3,2139.5L1180.5,2137.6L1182.6,2135.7L1184.8,2133.8L1186.9,2131.9L1189.0,2130.0L1191.2,2128.1L1193.3,2126.2L1195.5,2124.3L1197.6,2122.4L1199.8,2120.6L1201.9,2118.7L1204.0,2116.8L1206.2,2114.9L1208.3,2113.0L1210.5,2111.2L1212.6,2109.3L1214.8,2107.4L1216.9,2105.6L1219.0,2103.7L1221.2,2101.8L1223.3,2100.0L1225.5,2098.1L1227.6,2096.3L1229.8,2094.4L1231.9,2092.6L1234.0,2090.7L1236.2,2088.9L1238.3,2087.1L1240.5,2085.3L1242.6,2083.4L1244.8,2081.6L1246.9,2079.8L1249.0,2078.0L1251.2,2076.2L1253.3,2074.4L1255.5,2072.6L1257.6,2070.8L1259.8,2069.0L1261.9,2067.2L1264.0,2065.5L1266.2,2063.7L1268.3,2061.9L1270.5,2060.2L1272.6,2058.4L1274.8,2056.6L1276.9,2054.9" stroke="#FF00FF"/>
<path d="M312.5,2674.0L314.5,2671.0L316.5,2668.1L318.5,2665.1L320.4,2662.2L322.4,2659.3L324.4,2656.4L326.4,2653.5L328.4,2650.6L330.4,2647.7L332.4,2644.8L334.3,2642.0L336.3,2639.1L338.3,2636.3L340.3,2633.4L342.3,2630.6L344.3,2627.8L346.3,2625.0L348.2,2622.2L350.2,2619.4L352.2,2616.7L354.2,2613.9L356.2,2611.1L358.2,2608.4L360.2,2605.7L362.1,2602.9L364.1,2600.2L366.1,2597.5L368.1,2594.8L370.1,2592.1L372.1,2589.5L374.1,2586.8L376.0,2584.1L378.0,2581.5L380.0,2578.9L382.0,2576.2L384.0,2573.6L386.0,2571.0L388.0,2568.4L389.9,2565.8L391.9,2563.2L393.9,2560.7L395.9,2558.1L397.9,2555.5L399.9,2553.0L401.9,2550.5L403.8,2547.9L405.8,2545.4L407.8,2542.9L409.8,2540.4L411.8,2537.9L413.8,2535.4L415.8,2533.0L417.7,2530.5L419.7,2528.1L421.7,2525.6L423.7,2523.2L425.7,2520.8L427.7,2518.3L429.7,2515.9L431.6,2513.5L433.6,2511.2L435.6,2508.8L437.6,2506.4L439.6,2504.0L441.6,2501.7L443.6,2499.3L445.5,2497.0L447.5,2494.7L449.5,2492.4L451.5,2490.1L453.5,2487.8L455.5,2485.5L457.5,2483.2L459.4,2480.9L461.4,2478.6L463.4,2476.4L465.4,2474.1L467.4,2471.9L469.4,2469.7L471.4,2467.4L473.3,2465.2L475.3,2463.0L477.3,2460.8L479.3,2458.6L481.3,2456.5L483.3,2454.3L485.3,2452.1L487.2,2450.0L489.2,2447.8L491.2,2445.7L493.2,2443.6L495.2,2441.4L497.2,2439.3L499.2,2437.2L501.2,2435.1L503.1,2433.0L505.1,2431.0L507.1,2428.9L509.1,2426.8L511.1,2424.8L513.1,2422.7L515.1,2420.7L517.0,2418.7L519.0,2416.6L521.0,2414.6L523.0,2412.6L525.0,2410.6L527.0,2408.6L529.0,2406.6L530.9,2404.7L532.9,2402.7L534.9,2400.7L536.9,2398.8L538.9,2396.9L540.9,2394.9L542.9,2393.0L544.8,2391.1L546.8,2389.2L548.8,2387.3L550.8,2385.4L552.8,2383.5L554.8,2381.6L556.8,2379.7L558.7,2377.9L560.7,2376.0L562.7,2374.2L564.7,2372.3L566.7,2370.5L568.7,2368.7L570.7,2366.8L572.6,2365.0L574.6,2363.2L576.6,2361.4L578.6,2359.6L580.6,2357.9L582.6,2356.1L584.6,2354.3L586.5,2352.6L588.5,2350.8L590.5,2349.1L592.5,2347.3L594.5,2345.6L596.5,2343.9L598.5,2342.2L600.4,2340.5L602.4,2338.8L604.4,2337.1L606.4,2335.4L608.4,2333.7L610.4,2332.0L612.4,2330.4L614.3,2328.7L616.3,2327.1L618.3,2325.4L620.3,2323.8L622.3,2322.1L624.3,2320.5L626.3,2318.9L628.2,2317.3L630.2,2315.7L632.2,2314.1L634.2,2312.5L636.2,2310.9L638.2,2309.4L640.2,2307.8L642.1,2306.2L644.1,2304.7L646.1,2303.1L648.1,2301.6L650.1,2300.1L652.1,2298.5L654.1,2297.0L656.0,2295.5L658.0,2294.0L660.0,2292.5L662.0,2291.0L664.0,2289.5L666.0,2288.1L668.0,2286.6L669.9,2285.1L671.9,2283.7L673.9,2282.2L675.9,2280.8L677.9,2279.3L679.9,2277.9L681.9,2276.5L683.8,2275.0L685.8,2273.6L687.8,2272.2L689.8,2270.8L691.8,2269.4L693.8,2268.0L695.8,2266.7L697.7,2265.3L699.7,2263.9L701.7,2262.5L703.7,2261.2L705.7,2259.8L707.7,2258.5L709.7,2257.2L711.6,2255.8L713.6,2254.5L715.6,2253.2L717.6,2251.9L719.6,2250.6L721.6,2249.3L723.6,2248.0L725.5,2246.7L727.5,2245.4L729.5,2244.1L731.5,2242.8L733.5,2241.6L735.5,2240.3L737.5,2239.1L739.4,2237.8L741.4,2236.6L743.4,2235.3L745.4,2234.1L747.4,2232.9L749.4,2231.7L751.4,2230.4L753.3,2229.2L755.3,2228.0L757.3,2226.8L759.3,2225.6L761.3,2224.5L763.3,2223.3L765.3,2222.1L767.2,2220.9L769.2,2219.8L771.2,2218.6L773.2,2217.5L775.2,2216.3L777.2,2215.2L779.2,2214.0L781.1,2212.9L783.1,2211.8L785.1,2210.7L787.1,2209.6L789.1,2208.5L791.1,2207.4L793.1,2206.3L795.0,2205.2L797.0,2204.1L799.0,2203.0L801.0,2201.9L803.0,2200.8L805.0,2199.8L807.0,2198.7L808.9,2197.7L810.9,2196.6L812.9,2195.6L814.9,2194.5L816.9,2193.5L818.9,2192.5L820.9,2191.4L822.8,2190.4L824.8,2189.4L826.8,2188.4L828.8,2187.4L830.8,2186.4L832.8,2185.4L834.8,2184.4L836.7,2183.4L838.7,2182.4L840.7,2181.5L842.7,2180.5L844.7,2179.5L846.7,2178.6L848.7,2177.6L850.6,2176.7L852.6,2175.7L854.6,2174.8L856.6,2173.8L858.6,2172.9L860.6,2172.0L862.6,2171.0L864.6,2170.1L866.5,2169.2L868.5,2168.3L870.5,2167.4L872.5,2166.5L874.5,2165.6L876.5,2164.7L878.5,2163.8L880.4,2162.9L882.4,2162.1L884.4,2161.2L886.4,2160.3L888.4,2159.4L890.4,2158.6L892.4,2157.7L894.3,2156.9L896.3,2156.0L898.3,2155.2L900.3,2154.3L902.3,2153.5L904.3,2152.7L906.3,2151.8L908.2,2151.0L910.2,2150.2L912.2,2149.4L914.2,2148.6L916.2,2147.8L918.2,2147.0L920.2,2146.2L922.1,2145.4L924.1,2144.6L926.1,2143.8L928.1,2143.0L930.1,2142.2L932.1,2141.5L934.1,2140.7L936.0,2139.9L938.0,2139.2L940.0,2138.4L942.0,2137.6L944.0,2136.9L946.0,2136.1L948.0,2135.4L949.9,2134.7L951.9,2133.9L953.9,2133.2L955.9,2132.5L957.9,2131.7L959.9,2131.0L961.9,2130.3L963.8,2129.6L965.8,2128.9L967.8,2128.2L969.8,2127.5L971.8,2126.8L973.8,2126.1L975.8,2125.4L977.7,2124.7L979.7,2124.0L981.7,2123.3L983.7,2122.6L985.7,2121.9L987.7,2121.3L989.7,2120.6L991.6,2119.9L993.6,2119.3L995.6,2118.6L997.6,2118.0L999.6,2117.3L1001.6,2116.7L1003.6,2116.0L1005.5,2115.4L1007.5,2114.7L1009.5,2114.1L1011.5,2113.4L1013.5,2112.8L1015.5,2112.2L1017.5,2111.6L1019.4,2110.9L1021.4,2110.3L1023.4,2109.7L1025.4,2109.1L1027.4,2108.5L1029.4,2107.9L1031.4,2107.3L1033.3,2106.7L1035.3,2106.1L1037.3,2105.5L1039.3,2104.9L1041.3,2104.3L1043.3,2103.7L1045.3,2103.1L1047.2,2102.5L1049.2,2101.9L1051.2,2101.4L1053.2,2100.8L1055.2,2100.2L1057.2,2099.7L1059.2,2099.1L1061.1,2098.5L1063.1,2098.0L1065.1,2097.4L1067.1,2096.9L1069.1,2096.3L1071.1,2095.7L1073.1,2095.2L1075.0,2094.7L1077.0,2094.1L1079.0,2093.6L1081.0,2093.0L1083.0,2092.5L1085.0,2092.0L1087.0,2091.4L1088.9,2090.9L1090.9,2090.4L1092.9,2089.8L1094.9,2089.3L1096.9,2088.8L1098.9,2088.3L1100.9,2087.8L1102.8,2087.3L1104.8,2086.7L1106.8,2086.2L1108.8,2085.7L1110.8,2085.2L1112.8,2084.7L1114.8,2084.2L1116.7,2083.7L1118.7,2083.2L1120.7,2082.7L1122.7,2082.2L1124.7,2081.7L1126.7,2081.3L1128.7,2080.8L1130.6,2080.3L1132.6,2079.8L1134.6,2079.3L1136.6,2078.8L1138.6,2078.4L1140.6,2077.9L1142.6,2077.4L1144.5,2076.9L1146.5,2076.5L1148.5,2076.0L1150.5,2075.5L1152.5,2075.1L1154.5,2074.6L1156.5,2074.1L1158.4,2073.7L1160.4,2073.2L1162.4,2072.8L1164.4,2072.3L1166.4,2071.9L1168.4,2071.4L1170.4,2070.9L1172.3,2070.5L1174.3,2070.0L1176.3,2069.6L1178.3,2069.2L1180.3,2068.7L1182.3,2068.3L1184.3,2067.8L1186.2,2067.4L1188.2,2066.9L1190.2,2066.5L1192.2,2066.1L1194.2,2065.6L1196.2,2065.2L1198.2,2064.8L1200.1,2064.3L1202.1,2063.9L1204.1,2063.5L1206.1,2063.1" stroke="#0000FF"/>
<path d="M312.5,2684.7L314.3,2683.5L316.2,2682.3L318.0,2681.1L319.8,2680.0L321.6,2678.8L323.5,2677.6L325.3,2676.4L327.1,2675.2L329.0,2674.0L330.8,2672.8L332.6,2671.5L334.5,2670.3L336.3,2669.1L338.1,2667.9L339.9,2666.7L341.8,2665.5L343.6,2664.3L345.4,2663.1L347.3,2661.9L349.1,2660.6L350.9,2659.4L352.7,2658.2L354.6,2657.0L356.4,2655.8L358.2,2654.5L360.1,2653.3L361.9,2652.1L363.7,2650.8L365.6,2649.6L367.4,2648.4L369.2,2647.1L371.0,2645.9L372.9,2644.7L374.7,2643.4L376.5,2642.2L378.4,2641.0L380.2,2639.7L382.0,2638.5L383.8,2637.2L385.7,2636.0L387.5,2634.8L389.3,2633.5L391.2,2632.3L393.0,2631.0L394.8,2629.8L396.7,2628.5L398.5,2627.3L400.3,2626.0L402.1,2624.8L404.0,2623.5L405.8,2622.2L407.6,2621.0L409.5,2619.7L411.3,2618.5L413.1,2617.2L415.0,2616.0L416.8,2614.7L418.6,2613.4L420.4,2612.2L422.3,2610.9L424.1,2609.6L425.9,2608.4L427.8,2607.1L429.6,2605.8L431.4,2604.6L433.2,2603.3L435.1,2602.0L436.9,2600.7L438.7,2599.5L440.6,2598.2L442.4,2596.9L444.2,2595.6L446.1,2594.4L447.9,2593.1L449.7,2591.8L451.5,2590.5L453.4,2589.3L455.2,2588.0L457.0,2586.7L458.9,2585.4L460.7,2584.1L462.5,2582.8L464.3,2581.6L466.2,2580.3L468.0,2579.0L469.8,2577.7L471.7,2576.4L473.5,2575.1L475.3,2573.8L477.2,2572.6L479.0,2571.3L480.8,2570.0L482.6,2568.7L484.5,2567.4L486.3,2566.1L488.1,2564.8L490.0,2563.5L491.8,2562.2L493.6,2560.9L495.4,2559.6L497.3,2558.3L499.1,2557.0L500.9,2555.7L502.8,2554.4L504.6,2553.1L506.4,2551.8L508.3,2550.5L510.1,2549.2L511.9,2547.9L513.7,2546.6L515.6,2545.3L517.4,2544.0L519.2,2542.7L521.1,2541.4L522.9,2540.1L524.7,2538.8L526.5,2537.5L528.4,2536.2L530.2,2534.9L532.0,2533.6L533.9,2532.3L535.7,2531.0L537.5,2529.7L539.4,2528.4L541.2,2527.1L543.0,2525.8L544.8,2524.5L546.7,2523.2L548.5,2521.9L550.3,2520.6L552.2,2519.3L554.0,2518.0L555.8,2516.6L557.7,2515.3L559.5,2514.0L561.3,2512.7L563.1,2511.4L565.0,2510.1L566.8,2508.8L568.6,2507.5L570.5,2506.2L572.3,2504.9L574.1,2503.6L575.9,2502.3L577.8,2500.9L579.6,2499.6L581.4,2498.3L583.3,2497.0L585.1,2495.7L586.9,2494.4L588.8,2493.1L590.6,2491.8L592.4,2490.5L594.2,2489.2L596.1,2487.9L597.9,2486.5L599.7,2485.2L601.6,2483.9L603.4,2482.6L605.2,2481.3L607.0,2480.0L608.9,2478.7L610.7,2477.4L612.5,2476.1L614.4,2474.8L616.2,2473.5L618.0,2472.1L619.9,2470.8L621.7,2469.5L623.5,2468.2L625.3,2466.9L627.2,2465.6L629.0,2464.3L630.8,2463.0L632.7,2461.7L634.5,2460.4L636.3,2459.1L638.1,2457.8L640.0,2456.5L641.8,2455.2L643.6,2453.9L645.5,2452.6L647.3,2451.2L649.1,2449.9L651.0,2448.6L652.8,2447.3L654.6,2446.0L656.4,2444.7L658.3,2443.4L660.1,2442.1L661.9,2440.8L663.8,2439.5L665.6,2438.2L667.4,2436.9L669.2,2435.6L671.1,2434.3L672.9,2433.0L674.7,2431.7L676.6,2430.4L678.4,2429.1L680.2,2427.8L682.1,2426.5L683.9,2425.2L685.7,2424.0L687.5,2422.7L689.4,2421.4L691.2,2420.1L693.0,2418.8L694.9,2417.5L696.7,2416.2L698.5,2414.9L700.4,2413.6L702.2,2412.3L704.0,2411.0L705.8,2409.7L707.7,2408.5L709.5,2407.2L711.3,2405.9L713.2,2404.6L715.0,2403.3L716.8,2402.0L718.6,2400.7L720.5,2399.5L722.3,2398.2L724.1,2396.9L726.0,2395.6L727.8,2394.3L729.6,2393.1L731.5,2391.8L733.3,2390.5L735.1,2389.2L736.9,2388.0L738.8,2386.7L740.6,2385.4L742.4,2384.1L744.3,2382.9L746.1,2381.6L747.9,2380.3L749.7,2379.0L751.6,2377.8L753.4,2376.5L755.2,2375.2L757.1,2374.0L758.9,2372.7L760.7,2371.5L762.6,2370.2L764.4,2368.9L766.2,2367.7L768.0,2366.4L769.9,2365.1L771.7,2363.9L773.5,2362.6L775.4,2361.4L777.2,2360.1L779.0,2358.9L780.8,2357.6L782.7,2356.4L784.5,2355.1L786.3,2353.9L788.2,2352.6L790.0,2351.4L791.8,2350.1L793.7,2348.9L795.5,2347.6L797.3,2346.4L799.1,2345.2L801.0,2343.9L802.8,2342.7L804.6,2341.4L806.5,2340.2L808.3,2339.0L810.1,2337.7L811.9,2336.5L813.8,2335.3L815.6,2334.0L817.4,2332.8L819.3,2331.6L821.1,2330.4L822.9,2329.1L824.8,2327.9L826.6,2326.7L828.4,2325.5L830.2,2324.2L832.1,2323.0L833.9,2321.8L835.7,2320.6L837.6,2319.4L839.4,2318.2L841.2,2317.0L843.1,2315.8L844.9,2314.5L846.7,2313.3L848.5,2312.1L850.4,2310.9L852.2,2309.7L854.0,2308.5L855.9,2307.3L857.7,2306.1L859.5,2304.9L861.3,2303.7L863.2,2302.6L865.0,2301.4L866.8,2300.2L868.7,2299.0L870.5,2297.8L872.3,2296.6L874.2,2295.4L876.0,2294.2L877.8,2293.1L879.6,2291.9L881.5,2290.7L883.3,2289.5L885.1,2288.4L887.0,2287.2L888.8,2286.0L890.6,2284.9L892.4,2283.7L894.3,2282.5L896.1,2281.4L897.9,2280.2L899.8,2279.0L901.6,2277.9L903.4,2276.7L905.3,2275.6L907.1,2274.4L908.9,2273.3L910.7,2272.1L912.6,2271.0L914.4,2269.8L916.2,2268.7L918.1,2267.5L919.9,2266.4L921.7,2265.3L923.5,2264.1L925.4,2263.0L927.2,2261.9L929.0,2260.7L930.9,2259.6L932.7,2258.5L934.5,2257.4L936.4,2256.2L938.2,2255.1L940.0,2254.0L941.8,2252.9L943.7,2251.8L945.5,2250.7L947.3,2249.6L949.2,2248.4L951.0,2247.3L952.8,2246.2L954.6,2245.1L956.5,2244.0L958.3,2242.9L960.1,2241.8L962.0,2240.8L963.8,2239.7L965.6,2238.6L967.5,2237.5L969.3,2236.4L971.1,2235.3L972.9,2234.2L974.8,2233.2L976.6,2232.1L978.4,2231.0L980.3,2229.9L982.1,2228.9L983.9,2227.8L985.8,2226.7L987.6,2225.7L989.4,2224.6L991.2,2223.6L993.1,2222.5L994.9,2221.5L996.7,2220.4L998.6,2219.4L1000.4,2218.3L1002.2,2217.3L1004.0,2216.2L1005.9,2215.2L1007.7,2214.2L1009.5,2213.1L1011.4,2212.1L1013.2,2211.1L1015.0,2210.0L1016.9,2209.0L1018.7,2208.0L1020.5,2207.0L1022.3,2205.9L1024.2,2204.9L1026.0,2203.9L1027.8,2202.9L1029.7,2201.9L1031.5,2200.9L1033.3,2199.9L1035.1,2198.9L1037.0,2197.9L1038.8,2196.9L1040.6,2195.9L1042.5,2194.9L1044.3,2193.9L1046.1,2193.0L1048.0,2192.0L1049.8,2191.0L1051.6,2190.0L1053.4,2189.1L1055.3,2188.1L1057.1,2187.1L1058.9,2186.1L1060.8,2185.2L1062.6,2184.2L1064.4,2183.3L1066.2,2182.3L1068.1,2181.4L1069.9,2180.4L1071.7,2179.5L1073.6,2178.5L1075.4,2177.6L1077.2,2176.6L1079.1,2175.7L1080.9,2174.8L1082.7,2173.8L1084.5,2172.9L1086.4,2172.0L1088.2,2171.1L1090.0,2170.2L1091.9,2169.2L1093.7,2168.3L1095.5,2167.4L1097.3,2166.5L1099.2,2165.6L1101.0,2164.7L1102.8,2163.8L1104.7,2162.9L1106.5,2162.0L1108.3,2161.1L1110.2,2160.3L1112.0,2159.4L1113.8,2158.5L1115.6,2157.6L1117.5,2156.7L1119.3,2155.9L1121.1,2155.0L1123.0,2154.1L1124.8,2153.3L1126.6,2152.4L1128.4,2151.6L1130.3,2150.7L1132.1,2149.9L1133.9,2149.0L1135.8,2148.2" stroke="#808080"/>
</g>
<g clip-path="url(#clipc)" fill="none" stroke-width="10.5" stroke-linejoin="round" stroke-linecap="round">
<path d="M312.5,4022.6L316.3,4019.4L320.1,4015.2L323.9,4010.0L327.7,4004.0L331.5,3997.3L335.3,3990.0L339.1,3982.1L342.9,3973.7L346.7,3965.1L350.5,3956.1L354.3,3947.0L358.0,3937.7L361.8,3928.4L365.6,3919.0L369.4,3909.6L373.2,3900.3L377.0,3891.1L380.8,3882.0L384.6,3873.1L388.4,3864.5L392.2,3856.1L396.0,3848.0L399.8,3840.2L403.6,3832.7L407.4,3825.4L411.2,3818.4L415.0,3811.7L418.8,3805.2L422.6,3799.0L426.4,3793.0L430.2,3787.2L434.0,3781.6L437.8,3776.3L441.6,3771.1L445.3,3766.2L449.1,3761.4L452.9,3756.8L456.7,3752.4L460.5,3748.2L464.3,3744.1L468.1,3740.2L471.9,3736.4L475.7,3732.8L479.5,3729.3L483.3,3725.9L487.1,3722.7L490.9,3719.6L494.7,3716.5L498.5,3713.6L502.3,3710.7L506.1,3708.0L509.9,3705.3L513.7,3702.7L517.5,3700.2L521.3,3697.8L525.1,3695.4L528.8,3693.2L532.6,3691.0L536.4,3688.9L540.2,3687.0L544.0,3685.1L547.8,3683.3L551.6,3681.6L555.4,3679.9L559.2,3678.4L563.0,3677.0L566.8,3675.7L570.6,3674.4L574.4,3673.3L578.2,3672.3L582.0,3671.3L585.8,3670.5L589.6,3669.8L593.4,3669.1L597.2,3668.6L601.0,3668.2L604.8,3667.8L608.6,3667.6L612.4,3667.5L616.1,3667.5L619.9,3667.6L623.7,3667.8L627.5,3668.1L631.3,3668.5L635.1,3669.1L638.9,3669.7L642.7,3670.5L646.5,3671.4L650.3,3672.3L654.1,3673.4L657.9,3674.6L661.7,3676.0L665.5,3677.4L669.3,3679.0L673.1,3680.7L676.9,3682.5L680.7,3684.4L684.5,3686.5L688.3,3688.7L692.1,3691.0L695.9,3693.5L699.7,3696.2L703.4,3699.0L707.2,3701.9L711.0,3705.1L714.8,3708.4L718.6,3711.9L722.4,3715.6L726.2,3719.5L730.0,3723.6L733.8,3727.9L737.6,3732.4L741.4,3737.1L745.2,3742.0L749.0,3747.2L752.8,3752.6L756.6,3758.2L760.4,3764.1L764.2,3770.2L768.0,3776.6L771.8,3783.4L775.6,3790.7L779.4,3798.4L783.2,3806.7L787.0,3815.6L790.7,3825.2L794.5,3835.6L798.3,3846.8L802.1,3858.9L805.9,3871.9L809.7,3885.9L813.5,3901.0L815.9,3911.0L819.7,3900.8L823.5,3890.8L827.3,3880.9L831.1,3871.2L834.9,3861.7L838.7,3852.4L842.5,3843.1L846.3,3834.1L850.1,3825.2L853.8,3816.5L857.6,3807.9L861.4,3799.4L865.2,3791.1L869.0,3783.0L872.8,3775.0L876.6,3767.1L880.4,3759.4L884.2,3751.8L888.0,3744.3L891.8,3737.0L895.6,3729.8L899.4,3722.8L903.2,3715.8L907.0,3709.0L910.8,3702.4L914.6,3695.8L918.4,3689.4L922.2,3683.1L926.0,3676.9L929.8,3670.9L933.6,3664.9L937.4,3659.1L941.1,3653.3L944.9,3647.7L948.7,3642.2L952.5,3636.8L956.3,3631.5L960.1,3626.3L963.9,3621.3L967.7,3616.3L971.5,3611.4L975.3,3606.6L979.1,3601.9L982.9,3597.3L986.7,3592.8L990.5,3588.4L994.3,3584.1L998.1,3579.9L1001.9,3575.7L1005.7,3571.7L1009.5,3567.7L1013.3,3563.9L1017.1,3560.1L1020.9,3556.4L1024.6,3552.8L1028.4,3549.2L1032.2,3545.8L1036.0,3542.4L1039.8,3539.1L1043.6,3535.9L1047.4,3532.8L1051.2,3529.7L1055.0,3526.7L1058.8,3523.8L1062.6,3521.0L1066.4,3518.2L1070.2,3515.5L1074.0,3512.8L1077.8,3510.3L1081.6,3507.8L1085.4,3505.3L1089.2,3502.9L1093.0,3500.6L1096.8,3498.4L1100.6,3496.2L1104.4,3494.0L1108.2,3492.0L1111.9,3489.9L1115.7,3488.0L1119.5,3486.1L1123.3,3484.2L1127.1,3482.4L1130.9,3480.7L1134.7,3479.0L1138.5,3477.3L1142.3,3475.7L1146.1,3474.2L1149.9,3472.7L1153.7,3471.2L1157.5,3469.8L1161.3,3468.5L1165.1,3467.1L1168.9,3465.9L1172.7,3464.7L1176.5,3463.5L1180.3,3462.3L1184.1,3461.2L1187.9,3460.2L1191.7,3459.2L1195.5,3458.2L1199.2,3457.3L1203.0,3456.4L1206.8,3455.5L1210.6,3454.7L1214.4,3453.9L1218.2,3453.1L1222.0,3452.4L1225.8,3451.7L1229.6,3451.1L1233.4,3450.4L1237.2,3449.8L1241.0,3449.3L1244.8,3448.7L1248.6,3448.2L1252.4,3447.7L1256.2,3447.3L1260.0,3446.9L1263.8,3446.5L1267.6,3446.1L1271.4,3445.7L1275.2,3445.4L1279.0,3445.1L1282.8,3444.8L1286.5,3444.5L1290.3,3444.3L1294.1,3444.0L1297.9,3443.8L1301.7,3443.6L1305.5,3443.5L1309.2,3443.1L1312.9,3442.4L1316.6,3441.2L1320.4,3439.7L1324.1,3437.7L1327.9,3435.4L1331.6,3432.6L1335.4,3429.5L1339.2,3426.0L1343.0,3422.5L1346.8,3418.9L1350.6,3415.3L1354.4,3411.7L1358.2,3408.0L1362.0,3404.3L1365.8,3400.5L1369.6,3396.8L1373.4,3393.0L1377.2,3389.2L1381.0,3385.3L1384.8,3381.5L1388.6,3377.6L1392.3,3373.8L1396.1,3369.9L1399.9,3366.0L1403.7,3362.2L1407.5,3358.3L1411.3,3354.4L1415.1,3350.6L1418.9,3346.7L1422.7,3342.9L1426.5,3339.0L1430.3,3335.2L1434.1,3331.4L1437.9,3327.7L1441.7,3323.9L1445.5,3320.2L1449.3,3316.5L1453.1,3312.8L1456.9,3309.2L1460.7,3305.6L1464.5,3302.0L1468.3,3298.5L1472.1,3294.9L1475.9,3291.4L1479.6,3287.9L1483.4,3284.5L1487.2,3281.0L1491.0,3277.6L1494.8,3274.3L1498.6,3270.9L1502.4,3267.6L1506.2,3264.3L1510.0,3261.0L1513.8,3257.7L1517.6,3254.5L1521.4,3251.3L1525.2,3248.1L1529.0,3244.9L1532.8,3241.8L1536.6,3238.7L1540.4,3235.6L1544.2,3232.5L1548.0,3229.5L1551.8,3226.4L1555.6,3223.4L1559.4,3220.4L1563.2,3217.5L1566.9,3214.5L1570.7,3211.6L1574.5,3208.7L1578.3,3205.9L1582.1,3203.0L1585.9,3200.2L1589.7,3197.4L1593.5,3194.6L1597.3,3191.8L1601.1,3189.1L1604.9,3186.4L1608.7,3183.7L1612.5,3181.0L1616.3,3178.3L1620.1,3175.7L1623.9,3173.0L1627.7,3170.4L1631.5,3167.8L1635.3,3165.3L1639.1,3162.7L1642.9,3160.2L1646.7,3157.6L1650.4,3155.1L1654.2,3152.6L1658.0,3150.2L1661.8,3147.7L1665.6,3145.2L1669.4,3142.8L1673.2,3140.4L1677.0,3138.0L1680.8,3135.6L1684.6,3133.2L1688.4,3130.8L1692.2,3128.5L1696.0,3126.1L1699.8,3123.8L1703.6,3121.5L1707.4,3119.1L1711.2,3116.8L1715.0,3114.5L1718.8,3112.3L1722.6,3110.0L1726.4,3107.7L1730.2,3105.5L1734.0,3103.2L1737.7,3101.0L1741.5,3098.7L1745.3,3096.5L1749.1,3094.3L1752.9,3092.1L1756.7,3089.9L1760.5,3087.7L1764.3,3085.5L1768.1,3083.3L1771.9,3081.1L1775.7,3078.9L1779.5,3076.7L1783.3,3074.5L1787.1,3072.4L1790.9,3070.2L1794.7,3068.0L1798.5,3065.9L1802.3,3063.7L1806.1,3061.5L1809.9,3059.4L1813.7,3057.2L1817.5,3055.1L1821.3,3052.9L1825.0,3050.7L1828.8,3048.6L1832.6,3046.4L1836.4,3044.2L1840.2,3042.1L1844.0,3039.9L1847.8,3037.7L1851.6,3035.6L1855.4,3033.4L1859.2,3031.2L1863.0,3029.0L1866.8,3026.8L1870.6,3024.6L1874.4,3022.4L1878.2,3020.2L1882.0,3018.0L1885.8,3015.8L1889.6,3013.6L1893.4,3011.4L1897.2,3009.1L1901.0,3006.9L1904.8,3004.6L1908.5,3002.4L1912.3,3000.1L1916.1,2997.8L1919.9,2995.5L1923.7,2993.2L1927.5,2990.9L1931.3,2988.6L1935.1,2986.3L1938.9,2983.9L1942.7,2981.6L1946.5,2979.2L1950.3,2976.9L1954.1,2974.5L1957.9,2972.1L1961.7,2969.7L1965.5,2967.2L1969.3,2964.8L1973.1,2962.3L1976.9,2959.9L1980.7,2957.4L1984.5,2954.9L1988.3,2952.4L1992.1,2949.8L1995.8,2947.3L1999.6,2944.7L2003.4,2942.2L2007.2,2939.6L2011.0,2936.9L2014.8,2934.3L2018.6,2931.7L2020.5,2930.3" stroke="#000000"/>
<path d="M312.5,4032.1L316.1,4025.6L319.6,4018.8L323.2,4011.8L326.8,4004.5L330.3,3997.0L333.9,3989.4L337.5,3981.6L341.0,3973.7L344.6,3965.6L348.2,3957.5L351.7,3949.3L355.3,3941.0L358.9,3932.8L362.4,3924.5L366.0,3916.3L369.6,3908.0L373.1,3899.9L376.7,3891.8L380.3,3883.9L383.8,3876.1L387.4,3868.4L391.0,3860.9L394.5,3853.5L398.1,3846.4L401.7,3839.3L405.2,3832.5L408.8,3825.7L412.4,3819.2L415.9,3812.8L419.5,3806.6L423.1,3800.5L426.6,3794.6L430.2,3788.8L433.8,3783.2L437.3,3777.7L440.9,3772.4L444.5,3767.3L448.0,3762.3L451.6,3757.5L455.2,3752.8L458.7,3748.3L462.3,3743.9L465.9,3739.7L469.4,3735.7L473.0,3731.7L476.6,3728.0L480.1,3724.3L483.7,3720.8L487.3,3717.5L490.8,3714.2L494.4,3711.2L498.0,3708.2L501.5,3705.4L505.1,3702.7L508.7,3700.1L512.2,3697.6L515.8,3695.3L519.4,3693.1L522.9,3691.0L526.5,3689.0L530.1,3687.1L533.6,3685.3L537.2,3683.7L540.8,3682.1L544.3,3680.6L547.9,3679.3L551.5,3678.0L555.0,3676.9L558.6,3675.8L562.2,3674.8L565.7,3673.9L569.3,3673.1L572.9,3672.4L576.4,3671.8L580.0,3671.3L583.6,3670.8L587.1,3670.4L590.7,3670.1L594.3,3669.8L597.8,3669.7L601.4,3669.5L605.0,3669.5L608.5,3669.5L612.1,3669.6L615.7,3669.7L619.2,3669.9L622.8,3670.2L626.4,3670.5L629.9,3670.9L633.5,3671.3L637.1,3671.8L640.6,3672.3L644.2,3672.9L647.8,3673.6L651.3,3674.4L654.9,3675.3L658.5,3676.2L662.0,3677.3L665.6,3678.4L669.2,3679.7L672.7,3681.1L676.3,3682.6L679.9,3684.2L683.4,3686.0L687.0,3687.9L690.6,3689.9L694.1,3692.0L697.7,3694.4L701.3,3696.8L704.8,3699.5L708.4,3702.2L712.0,3705.2L715.5,3708.3L719.1,3711.7L722.7,3715.2L726.2,3718.8L729.8,3722.7L733.4,3726.8L736.9,3731.1L740.5,3735.6L744.1,3740.3L747.6,3745.2L751.2,3750.4L754.8,3755.8L758.3,3761.4L761.9,3767.2L765.5,3773.3L769.0,3779.7L772.6,3786.3L776.2,3793.2L779.7,3800.3L783.3,3807.7L786.9,3815.4L790.4,3823.3L794.0,3831.6L797.6,3840.1L801.1,3848.9L804.7,3858.1L808.3,3867.5L811.8,3877.2L815.4,3887.3L815.9,3888.8L819.5,3880.2L823.1,3871.7L826.6,3863.3L830.2,3855.0L833.8,3846.9L837.3,3838.8L840.9,3830.9L844.5,3823.0L848.0,3815.3L851.6,3807.7L855.2,3800.1L858.7,3792.7L862.3,3785.4L865.9,3778.2L869.4,3771.1L873.0,3764.1L876.6,3757.1L880.1,3750.3L883.7,3743.6L887.3,3737.0L890.8,3730.5L894.4,3724.0L898.0,3717.7L901.5,3711.5L905.1,3705.3L908.7,3699.3L912.2,3693.3L915.8,3687.5L919.4,3681.7L922.9,3676.0L926.5,3670.4L930.1,3664.9L933.6,3659.5L937.2,3654.1L940.8,3648.9L944.3,3643.7L947.9,3638.7L951.5,3633.7L955.0,3628.8L958.6,3623.9L962.2,3619.2L965.7,3614.5L969.3,3609.9L972.9,3605.4L976.4,3601.0L980.0,3596.6L983.6,3592.3L987.1,3588.1L990.7,3584.0L994.3,3580.0L997.8,3576.0L1001.4,3572.1L1005.0,3568.2L1008.5,3564.5L1012.1,3560.8L1015.7,3557.2L1019.2,3553.6L1022.8,3550.1L1026.4,3546.7L1029.9,3543.3L1033.5,3540.1L1037.1,3536.8L1040.6,3533.7L1044.2,3530.6L1047.8,3527.5L1051.3,3524.6L1054.9,3521.7L1058.5,3518.8L1062.0,3516.0L1065.6,3513.3L1069.2,3510.6L1072.7,3508.0L1076.3,3505.4L1079.9,3502.9L1083.4,3500.5L1087.0,3498.1L1090.6,3495.7L1094.1,3493.4L1097.7,3491.2L1101.3,3489.0L1104.8,3486.8L1108.4,3484.7L1112.0,3482.7L1115.5,3480.7L1119.1,3478.7L1122.7,3476.8L1126.2,3475.0L1129.8,3473.2L1133.4,3471.4L1136.9,3469.7L1140.5,3468.0L1144.1,3466.3L1147.6,3464.7L1151.2,3463.2L1154.8,3461.6L1158.3,3460.1L1161.9,3458.7L1165.5,3457.3L1169.0,3455.9L1172.6,3454.5L1176.2,3453.2L1179.7,3452.0L1183.3,3450.7L1186.9,3449.5L1190.4,3448.3L1194.0,3447.2L1197.6,3446.1L1201.1,3445.0L1204.7,3443.9L1208.3,3442.9L1211.8,3441.8L1215.4,3440.9L1219.0,3439.9L1222.5,3439.0L1226.1,3438.0L1229.7,3437.2L1233.2,3436.3L1236.8,3435.4L1240.4,3434.6L1243.9,3433.8L1247.5,3433.0L1251.1,3432.2L1254.6,3431.5L1258.2,3430.7L1261.8,3430.0L1265.3,3429.3L1268.9,3428.6L1272.5,3427.9L1276.0,3427.3L1279.6,3426.6L1283.2,3425.9L1286.7,3425.3L1290.3,3424.7L1293.9,3424.1L1297.4,3423.4L1301.0,3422.8L1304.6,3422.2L1307.9,3421.5L1311.2,3420.6L1314.5,3419.3L1317.8,3417.7L1321.0,3415.8L1324.2,3413.7L1327.4,3411.2L1330.6,3408.5L1333.8,3405.4L1337.4,3401.9L1341.0,3398.3L1344.5,3394.8L1348.1,3391.3L1351.7,3387.8L1355.2,3384.3L1358.8,3380.8L1362.4,3377.4L1365.9,3373.9L1369.5,3370.5L1373.1,3367.1L1376.6,3363.7L1380.2,3360.3L1383.8,3356.9L1387.3,3353.5L1390.9,3350.2L1394.5,3346.9L1398.0,3343.6L1401.6,3340.3L1405.2,3337.0L1408.7,3333.7L1412.3,3330.4L1415.9,3327.2L1419.4,3323.9L1423.0,3320.7L1426.6,3317.5L1430.1,3314.3L1433.7,3311.1L1437.3,3308.0L1440.8,3304.8L1444.4,3301.7L1448.0,3298.5L1451.5,3295.4L1455.1,3292.3L1458.7,3289.2L1462.2,3286.1L1465.8,3283.1L1469.4,3280.0L1472.9,3277.0L1476.5,3273.9L1480.1,3270.9L1483.6,3267.9L1487.2,3264.9L1490.8,3261.9L1494.3,3259.0L1497.9,3256.0L1501.5,3253.1L1505.0,3250.2L1508.6,3247.2L1512.2,3244.3L1515.7,3241.4L1519.3,3238.6L1522.9,3235.7L1526.4,3232.8L1530.0,3230.0L1533.6,3227.1L1537.1,3224.3L1540.7,3221.5L1544.3,3218.7L1547.8,3215.9L1551.4,3213.1L1555.0,3210.4L1558.5,3207.6L1562.1,3204.9L1565.7,3202.1L1569.2,3199.4L1572.8,3196.7L1576.4,3194.0L1579.9,3191.3L1583.5,3188.6L1587.1,3186.0L1590.6,3183.3L1594.2,3180.7L1597.8,3178.0L1601.3,3175.4L1604.9,3172.8L1608.5,3170.2L1612.0,3167.6L1615.6,3165.0L1619.2,3162.5L1622.7,3159.9L1626.3,3157.4L1629.9,3154.8L1633.4,3152.3L1637.0,3149.8L1640.6,3147.3L1644.1,3144.8L1647.7,3142.3L1651.3,3139.8L1654.8,3137.3L1658.4,3134.9L1662.0,3132.4L1665.5,3130.0L1669.1,3127.5L1672.7,3125.1L1676.2,3122.7L1679.8,3120.3L1683.4,3117.9L1686.9,3115.5L1690.5,3113.2L1694.1,3110.8L1697.6,3108.4L1701.2,3106.1L1704.8,3103.8L1708.3,3101.4L1711.9,3099.1L1715.5,3096.8L1719.0,3094.5L1722.6,3092.2L1726.2,3089.9L1729.7,3087.7L1733.3,3085.4L1736.9,3083.1L1740.4,3080.9L1744.0,3078.6L1747.6,3076.4L1751.1,3074.2L1754.7,3072.0L1758.3,3069.8L1761.8,3067.6L1765.4,3065.4L1769.0,3063.2L1772.5,3061.0L1776.1,3058.9L1779.7,3056.7L1783.2,3054.5L1786.8,3052.4L1790.4,3050.3L1793.9,3048.1L1797.5,3046.0L1801.1,3043.9L1804.6,3041.8L1808.2,3039.7L1811.8,3037.6L1815.3,3035.6L1818.9,3033.5L1822.5,3031.4L1826.0,3029.4L1829.6,3027.3L1833.2,3025.3L1836.7,3023.2L1840.3,3021.2L1843.9,3019.2L1847.4,3017.2L1851.0,3015.1L1854.6,3013.1L1858.1,3011.1L1861.7,3009.2L1865.3,3007.2L1868.8,3005.2L1872.4,3003.2L1876.0,3001.3L1879.5,2999.3L1883.1,2997.4L1886.7,2995.4L1890.2,2993.5L1893.8,2991.6L1897.4,2989.6L1900.9,2987.7L1904.5,2985.8L1908.1,2983.9L1911.6,2982.0L1915.2,2980.1L1917.5,2978.9" stroke="#8000FF"/>
<path d="M312.5,4036.0L315.4,4030.9L318.3,4025.6L321.2,4020.0L324.1,4014.1L327.0,4008.0L329.9,4001.6L332.9,3995.1L335.8,3988.4L338.7,3981.6L341.6,3974.6L344.5,3967.6L347.4,3960.4L350.3,3953.3L353.2,3946.0L356.1,3938.8L359.0,3931.6L361.9,3924.4L364.8,3917.3L367.7,3910.3L370.7,3903.4L373.6,3896.5L376.5,3889.9L379.4,3883.3L382.3,3876.9L385.2,3870.6L388.1,3864.5L391.0,3858.4L393.9,3852.5L396.8,3846.7L399.7,3841.1L402.6,3835.5L405.5,3830.1L408.5,3824.8L411.4,3819.6L414.3,3814.5L417.2,3809.5L420.1,3804.6L423.0,3799.8L425.9,3795.1L428.8,3790.5L431.7,3786.1L434.6,3781.7L437.5,3777.4L440.4,3773.2L443.3,3769.1L446.2,3765.1L449.2,3761.2L452.1,3757.3L455.0,3753.6L457.9,3749.9L460.8,3746.3L463.7,3742.8L466.6,3739.4L469.5,3736.1L472.4,3732.8L475.3,3729.6L478.2,3726.5L481.1,3723.5L484.0,3720.5L487.0,3717.6L489.9,3714.8L492.8,3712.1L495.7,3709.5L498.6,3706.9L501.5,3704.4L504.4,3702.0L507.3,3699.6L510.2,3697.3L513.1,3695.1L516.0,3693.0L518.9,3690.9L521.8,3688.9L524.8,3687.0L527.7,3685.2L530.6,3683.4L533.5,3681.7L536.4,3680.0L539.3,3678.5L542.2,3677.0L545.1,3675.5L548.0,3674.1L550.9,3672.8L553.8,3671.6L556.7,3670.4L559.6,3669.3L562.6,3668.3L565.5,3667.3L568.4,3666.4L571.3,3665.5L574.2,3664.7L577.1,3664.0L580.0,3663.3L582.9,3662.7L585.8,3662.1L588.7,3661.6L591.6,3661.2L594.5,3660.8L597.4,3660.5L600.4,3660.3L603.3,3660.1L606.2,3659.9L609.1,3659.9L612.0,3659.8L614.9,3659.9L617.8,3660.0L620.7,3660.1L623.6,3660.3L626.5,3660.6L629.4,3660.9L632.3,3661.3L635.2,3661.7L638.2,3662.2L641.1,3662.8L644.0,3663.5L646.9,3664.2L649.8,3664.9L652.7,3665.8L655.6,3666.7L658.5,3667.6L661.4,3668.7L664.3,3669.8L667.2,3671.0L670.1,3672.2L673.0,3673.5L675.9,3674.9L678.9,3676.4L681.8,3677.9L684.7,3679.5L687.6,3681.2L690.5,3683.0L693.4,3684.8L696.3,3686.8L699.2,3688.8L702.1,3690.8L705.0,3693.0L707.9,3695.2L710.8,3697.5L713.7,3699.9L716.7,3702.4L719.6,3705.0L722.5,3707.6L725.4,3710.4L728.3,3713.2L731.2,3716.1L734.1,3719.1L737.0,3722.2L739.9,3725.4L742.8,3728.6L745.7,3732.0L748.6,3735.4L751.5,3738.9L754.5,3742.6L757.4,3746.3L760.3,3750.1L763.2,3754.0L766.1,3758.0L769.0,3762.1L771.9,3766.3L774.8,3770.6L777.7,3774.9L780.6,3779.4L783.5,3784.0L786.4,3788.7L789.3,3793.5L792.3,3798.4L795.2,3803.4L798.1,3808.5L801.0,3813.7L803.9,3819.0L806.8,3824.4L809.7,3829.9L812.6,3835.5L815.5,3841.2L816.0,3842.1L818.9,3834.9L821.8,3827.8L824.7,3820.9L827.6,3814.0L830.5,3807.2L833.4,3800.5L836.3,3793.9L839.2,3787.4L842.1,3781.0L845.0,3774.7L847.9,3768.4L850.8,3762.2L853.7,3756.2L856.7,3750.2L859.6,3744.2L862.5,3738.4L865.4,3732.6L868.3,3727.0L871.2,3721.4L874.1,3715.8L877.0,3710.4L879.9,3705.0L882.8,3699.7L885.7,3694.5L888.6,3689.3L891.5,3684.2L894.5,3679.2L897.4,3674.3L900.3,3669.4L903.2,3664.6L906.1,3659.9L909.0,3655.2L911.9,3650.6L914.8,3646.1L917.7,3641.6L920.6,3637.2L923.5,3632.8L926.4,3628.5L929.3,3624.3L932.3,3620.1L935.2,3616.0L938.1,3612.0L941.0,3608.0L943.9,3604.0L946.8,3600.1L949.7,3596.3L952.6,3592.5L955.5,3588.8L958.4,3585.1L961.3,3581.5L964.2,3577.9L967.1,3574.4L970.1,3570.9L973.0,3567.5L975.9,3564.1L978.8,3560.7L981.7,3557.4L984.6,3554.2L987.5,3550.9L990.4,3547.8L993.3,3544.6L996.2,3541.5L999.1,3538.5L1002.0,3535.5L1004.9,3532.5L1007.9,3529.5L1010.8,3526.6L1013.7,3523.8L1016.6,3520.9L1019.5,3518.1L1022.4,3515.3L1025.3,3512.6L1028.2,3509.9L1031.1,3507.2L1034.0,3504.5L1036.9,3501.9L1039.8,3499.3L1042.7,3496.7L1045.7,3494.1L1048.6,3491.6L1051.5,3489.1L1054.4,3486.6L1057.3,3484.2L1060.2,3481.8L1063.1,3479.4L1066.0,3477.0L1068.9,3474.7L1071.8,3472.3L1074.7,3470.1L1077.6,3467.8L1080.5,3465.5L1083.4,3463.3L1086.4,3461.1L1089.3,3459.0L1092.2,3456.8L1095.1,3454.7L1098.0,3452.6L1100.9,3450.5L1103.8,3448.5L1106.7,3446.5L1109.6,3444.5L1112.5,3442.5L1115.4,3440.5L1118.3,3438.6L1121.2,3436.7L1124.2,3434.8L1127.1,3432.9L1130.0,3431.0L1132.9,3429.2L1135.8,3427.4L1138.7,3425.6L1141.6,3423.9L1144.5,3422.1L1147.4,3420.4L1150.3,3418.7L1153.2,3417.0L1156.1,3415.3L1159.0,3413.7L1162.0,3412.1L1164.9,3410.5L1167.8,3408.9L1170.7,3407.3L1173.6,3405.8L1176.5,3404.2L1179.4,3402.7L1182.3,3401.2L1185.2,3399.7L1188.1,3398.3L1191.0,3396.8L1193.9,3395.4L1196.8,3394.0L1199.8,3392.6L1202.7,3391.2L1205.6,3389.9L1208.5,3388.5L1211.4,3387.2L1214.3,3385.9L1217.2,3384.6L1220.1,3383.3L1223.0,3382.1L1225.9,3380.8L1228.8,3379.6L1231.7,3378.4L1234.6,3377.1L1237.6,3376.0L1240.5,3374.8L1243.4,3373.6L1246.3,3372.5L1249.2,3371.3L1252.1,3370.2L1255.0,3369.1L1257.9,3368.0L1260.8,3366.9L1263.7,3365.8L1266.6,3364.8L1269.5,3363.7L1272.4,3362.7L1275.4,3361.7L1278.3,3360.7L1281.2,3359.7L1284.1,3358.7L1287.0,3357.7L1289.9,3356.7L1292.8,3355.8L1295.7,3354.8L1298.6,3353.9L1301.5,3353.0L1304.4,3352.1L1307.2,3351.1L1310.0,3350.0L1312.7,3348.6L1315.4,3347.1L1318.2,3345.3L1320.9,3343.4L1323.6,3341.2L1326.2,3338.9L1328.9,3336.3L1331.6,3333.6L1334.2,3330.6L1337.1,3327.4L1340.0,3324.3L1343.0,3321.2L1345.9,3318.2L1348.8,3315.2L1351.7,3312.3L1354.6,3309.4L1357.5,3306.6L1360.4,3303.8L1363.3,3301.0L1366.2,3298.3L1369.1,3295.7L1372.0,3293.1L1374.9,3290.5L1377.8,3288.0L1380.8,3285.5L1383.7,3283.0L1386.6,3280.6L1389.5,3278.2L1392.4,3275.9L1395.3,3273.5L1398.2,3271.2L1401.1,3269.0L1404.0,3266.8L1406.9,3264.6L1409.8,3262.4L1412.7,3260.2L1415.6,3258.1L1418.6,3256.0L1421.5,3254.0L1424.4,3251.9L1427.3,3249.9L1430.2,3247.9L1433.1,3245.9L1436.0,3243.9L1438.9,3241.9L1441.8,3240.0L1444.7,3238.1L1447.6,3236.1L1450.5,3234.2L1453.4,3232.3L1456.3,3230.5L1459.3,3228.6L1462.2,3226.7L1465.1,3224.9L1468.0,3223.0L1470.9,3221.1L1473.8,3219.3L1476.7,3217.4L1479.6,3215.6L1482.5,3213.7L1485.4,3211.9L1488.3,3210.0L1491.2,3208.2L1494.1,3206.3L1497.1,3204.4L1500.0,3202.6L1502.9,3200.7L1505.8,3198.8L1508.7,3196.9L1511.6,3195.0L1514.5,3193.1L1517.4,3191.1L1520.3,3189.2L1523.2,3187.2L1526.1,3185.2L1529.0,3183.2L1531.9,3181.2L1534.9,3179.1L1537.8,3177.0L1540.7,3174.9L1543.6,3172.8L1546.5,3170.7L1549.4,3168.5L1552.3,3166.3L1555.2,3164.1L1558.1,3161.9L1561.0,3159.6L1563.9,3157.3L1566.8,3154.9L1569.7,3152.5L1572.7,3150.1L1575.6,3147.7L1578.5,3145.2L1581.4,3142.7L1584.3,3140.1L1587.2,3137.5L1590.1,3134.8L1593.0,3132.2L1595.9,3129.4L1598.8,3126.6L1601.7,3123.8L1604.6,3120.9L1607.5,3118.0L1610.5,3115.1L1613.4,3112.0L1616.3,3109.0L1619.2,3105.8L1620.9,3103.9" stroke="#008080"/>
<path d="M312.5,4042.2L314.9,4036.7L317.4,4031.2L319.8,4025.6L322.3,4019.9L324.7,4014.1L327.1,4008.3L329.6,4002.5L332.0,3996.6L334.5,3990.7L336.9,3984.7L339.3,3978.8L341.8,3972.8L344.2,3966.8L346.7,3960.8L349.1,3954.8L351.5,3948.8L354.0,3942.8L356.4,3936.9L358.9,3931.0L361.3,3925.1L363.7,3919.2L366.2,3913.4L368.6,3907.6L371.1,3901.9L373.5,3896.2L375.9,3890.6L378.4,3885.1L380.8,3879.6L383.3,3874.2L385.7,3868.9L388.1,3863.7L390.6,3858.6L393.0,3853.6L395.5,3848.7L397.9,3843.8L400.3,3839.1L402.8,3834.4L405.2,3829.8L407.7,3825.3L410.1,3820.9L412.5,3816.5L415.0,3812.3L417.4,3808.1L419.8,3804.0L422.3,3799.9L424.7,3796.0L427.2,3792.1L429.6,3788.2L432.0,3784.5L434.5,3780.8L436.9,3777.2L439.4,3773.7L441.8,3770.2L444.2,3766.8L446.7,3763.4L449.1,3760.1L451.6,3756.9L454.0,3753.8L456.4,3750.7L458.9,3747.6L461.3,3744.6L463.8,3741.7L466.2,3738.8L468.6,3736.0L471.1,3733.2L473.5,3730.5L476.0,3727.8L478.4,3725.2L480.8,3722.6L483.3,3720.1L485.7,3717.6L488.2,3715.2L490.6,3712.8L493.0,3710.5L495.5,3708.2L497.9,3705.9L500.4,3703.7L502.8,3701.5L505.2,3699.4L507.7,3697.3L510.1,3695.3L512.6,3693.3L515.0,3691.3L517.4,3689.4L519.9,3687.6L522.3,3685.7L524.8,3684.0L527.2,3682.2L529.6,3680.5L532.1,3678.9L534.5,3677.2L537.0,3675.7L539.4,3674.2L541.8,3672.7L544.3,3671.2L546.7,3669.8L549.2,3668.5L551.6,3667.1L554.0,3665.9L556.5,3664.6L558.9,3663.4L561.4,3662.3L563.8,3661.2L566.2,3660.1L568.7,3659.1L571.1,3658.1L573.6,3657.2L576.0,3656.3L578.4,3655.4L580.9,3654.6L583.3,3653.8L585.8,3653.1L588.2,3652.4L590.6,3651.7L593.1,3651.1L595.5,3650.5L598.0,3650.0L600.4,3649.5L602.8,3649.0L605.3,3648.6L607.7,3648.2L610.2,3647.9L612.6,3647.6L615.0,3647.4L617.5,3647.1L619.9,3647.0L622.4,3646.8L624.8,3646.8L627.2,3646.7L629.7,3646.7L632.1,3646.8L634.5,3646.9L637.0,3647.0L639.4,3647.2L641.9,3647.4L644.3,3647.6L646.7,3647.9L649.2,3648.3L651.6,3648.7L654.1,3649.1L656.5,3649.6L658.9,3650.1L661.4,3650.7L663.8,3651.3L666.3,3652.0L668.7,3652.7L671.1,3653.5L673.6,3654.3L676.0,3655.1L678.5,3656.0L680.9,3657.0L683.3,3658.0L685.8,3659.0L688.2,3660.1L690.7,3661.2L693.1,3662.4L695.5,3663.7L698.0,3664.9L700.4,3666.3L702.9,3667.7L705.3,3669.1L707.7,3670.6L710.2,3672.1L712.6,3673.7L715.1,3675.3L717.5,3677.0L719.9,3678.7L722.4,3680.5L724.8,3682.3L727.3,3684.2L729.7,3686.1L732.1,3688.1L734.6,3690.2L737.0,3692.3L739.5,3694.4L741.9,3696.6L744.3,3698.9L746.8,3701.2L749.2,3703.5L751.7,3705.9L754.1,3708.4L756.5,3710.9L759.0,3713.5L761.4,3716.1L763.9,3718.8L766.3,3721.5L768.7,3724.3L771.2,3727.2L773.6,3730.1L776.1,3733.0L778.5,3736.0L780.9,3739.1L783.4,3742.2L785.8,3745.4L788.3,3748.6L790.7,3751.9L793.1,3755.3L795.6,3758.7L798.0,3762.2L800.5,3765.7L802.9,3769.3L805.3,3772.9L807.8,3776.6L810.2,3780.4L812.7,3784.2L815.1,3788.1L815.9,3789.4L818.4,3784.1L820.8,3778.8L823.3,3773.6L825.7,3768.4L828.1,3763.3L830.6,3758.3L833.0,3753.3L835.5,3748.4L837.9,3743.5L840.3,3738.7L842.8,3733.9L845.2,3729.2L847.7,3724.5L850.1,3719.9L852.5,3715.3L855.0,3710.8L857.4,3706.3L859.9,3701.9L862.3,3697.6L864.7,3693.2L867.2,3688.9L869.6,3684.7L872.1,3680.5L874.5,3676.4L876.9,3672.3L879.4,3668.2L881.8,3664.2L884.3,3660.2L886.7,3656.3L889.1,3652.4L891.6,3648.5L894.0,3644.7L896.5,3640.9L898.9,3637.2L901.3,3633.5L903.8,3629.8L906.2,3626.1L908.7,3622.5L911.1,3618.9L913.5,3615.4L916.0,3611.9L918.4,3608.4L920.9,3605.0L923.3,3601.5L925.7,3598.1L928.2,3594.8L930.6,3591.4L933.1,3588.1L935.5,3584.8L937.9,3581.6L940.4,3578.3L942.8,3575.1L945.3,3571.9L947.7,3568.7L950.1,3565.6L952.6,3562.5L955.0,3559.4L957.5,3556.3L959.9,3553.2L962.3,3550.2L964.8,3547.1L967.2,3544.1L969.7,3541.1L972.1,3538.1L974.5,3535.1L977.0,3532.2L979.4,3529.2L981.8,3526.3L984.3,3523.4L986.7,3520.5L989.2,3517.6L991.6,3514.8L994.0,3511.9L996.5,3509.1L998.9,3506.3L1001.4,3503.5L1003.8,3500.7L1006.2,3497.9L1008.7,3495.2L1011.1,3492.4L1013.6,3489.7L1016.0,3487.0L1018.4,3484.3L1020.9,3481.6L1023.3,3479.0L1025.8,3476.3L1028.2,3473.7L1030.6,3471.1L1033.1,3468.5L1035.5,3466.0L1038.0,3463.4L1040.4,3460.9L1042.8,3458.4L1045.3,3455.9L1047.7,3453.4L1050.2,3450.9L1052.6,3448.5L1055.0,3446.0L1057.5,3443.6L1059.9,3441.2L1062.4,3438.8L1064.8,3436.5L1067.2,3434.1L1069.7,3431.8L1072.1,3429.5L1074.6,3427.2L1077.0,3424.9L1079.4,3422.7L1081.9,3420.4L1084.3,3418.2L1086.8,3416.0L1089.2,3413.8L1091.6,3411.6L1094.1,3409.5L1096.5,3407.4L1099.0,3405.3L1101.4,3403.2L1103.8,3401.1L1106.3,3399.0L1108.7,3397.0L1111.2,3395.0L1113.6,3393.0L1116.0,3391.0L1118.5,3389.0L1120.9,3387.1L1123.4,3385.2L1125.8,3383.3L1128.2,3381.4L1130.7,3379.5L1133.1,3377.7L1135.6,3375.8L1138.0,3374.0L1140.4,3372.2L1142.9,3370.5L1145.3,3368.7L1147.8,3367.0L1150.2,3365.3L1152.6,3363.6L1155.1,3361.9L1157.5,3360.2L1160.0,3358.6L1162.4,3357.0L1164.8,3355.4L1167.3,3353.8L1169.7,3352.3L1172.2,3350.8L1174.6,3349.2L1177.0,3347.7L1179.5,3346.3L1181.9,3344.8L1184.3,3343.4L1186.8,3342.0L1189.2,3340.6L1191.7,3339.2L1194.1,3337.9L1196.5,3336.5L1199.0,3335.2L1201.4,3334.0L1203.9,3332.7L1206.3,3331.4L1208.7,3330.2L1211.2,3329.0L1213.6,3327.8L1216.1,3326.7L1218.5,3325.5L1220.9,3324.4L1223.4,3323.3L1225.8,3322.3L1228.3,3321.2L1230.7,3320.2L1233.1,3319.2L1235.6,3318.2L1238.0,3317.2L1240.5,3316.3L1242.9,3315.3L1245.3,3314.4L1247.8,3313.6L1250.2,3312.7L1252.7,3311.9L1255.1,3311.1L1257.5,3310.3L1260.0,3309.5L1262.4,3308.7L1264.9,3308.0L1267.3,3307.3L1269.7,3306.6L1272.2,3306.0L1274.6,3305.4L1277.1,3304.7L1279.5,3304.2L1281.9,3303.6L1284.4,3303.0L1286.8,3302.5L1289.3,3302.0L1291.7,3301.6L1294.1,3301.1L1296.6,3300.7L1299.0,3300.3L1301.5,3299.9L1303.8,3299.5L1306.1,3299.0L1308.4,3298.3L1310.7,3297.4L1313.1,3296.3L1315.5,3295.1L1317.8,3293.7L1320.2,3292.1L1322.6,3290.3L1325.0,3288.4L1327.4,3286.3L1329.9,3284.0L1332.3,3281.7L1334.8,3279.3L1337.2,3277.0L1339.6,3274.6L1342.1,3272.2L1344.5,3269.9L1347.0,3267.5L1349.4,3265.2L1351.8,3262.8L1354.3,3260.5L1356.7,3258.1L1359.2,3255.7L1361.6,3253.4L1364.0,3251.0L1366.5,3249.2L1368.9,3247.3L1371.4,3245.5L1373.8,3243.7L1376.2,3241.9L1378.7,3240.0L1381.1,3238.2L1383.6,3236.4L1386.0,3234.6L1388.4,3232.7L1390.9,3230.9L1393.3,3229.1L1395.8,3227.3L1398.2,3225.4L1400.6,3223.6L1403.1,3221.8L1405.5,3220.0L1408.0,3218.1L1410.4,3216.3" stroke="#800000"/>
<path d="M312.5,4049.8L314.4,4044.2L316.3,4038.6L318.2,4033.1L320.1,4027.6L322.0,4022.2L323.9,4016.7L325.8,4011.4L327.7,4006.0L329.6,4000.7L331.5,3995.5L333.4,3990.2L335.3,3985.0L337.2,3979.9L339.1,3974.8L341.0,3969.7L342.9,3964.7L344.8,3959.7L346.7,3954.7L348.6,3949.8L350.5,3944.9L352.4,3940.1L354.3,3935.3L356.1,3930.5L358.0,3925.8L359.9,3921.1L361.8,3916.5L363.7,3911.9L365.6,3907.4L367.5,3902.9L369.4,3898.4L371.3,3894.0L373.2,3889.6L375.1,3885.3L377.0,3881.0L378.9,3876.7L380.8,3872.5L382.7,3868.3L384.6,3864.2L386.5,3860.1L388.4,3856.1L390.3,3852.1L392.2,3848.1L394.1,3844.2L396.0,3840.4L397.9,3836.5L399.8,3832.8L401.7,3829.0L403.6,3825.4L405.5,3821.7L407.4,3818.1L409.3,3814.6L411.2,3811.1L413.1,3807.6L415.0,3804.2L416.9,3800.8L418.8,3797.5L420.7,3794.2L422.6,3790.9L424.5,3787.7L426.4,3784.6L428.3,3781.5L430.2,3778.4L432.1,3775.3L434.0,3772.3L435.9,3769.4L437.8,3766.5L439.7,3763.6L441.6,3760.8L443.4,3758.0L445.3,3755.2L447.2,3752.5L449.1,3749.8L451.0,3747.1L452.9,3744.5L454.8,3741.9L456.7,3739.4L458.6,3736.9L460.5,3734.4L462.4,3732.0L464.3,3729.5L466.2,3727.2L468.1,3724.8L470.0,3722.5L471.9,3720.3L473.8,3718.0L475.7,3715.8L477.6,3713.6L479.5,3711.5L481.4,3709.4L483.3,3707.3L485.2,3705.2L487.1,3703.2L489.0,3701.2L490.9,3699.2L492.8,3697.3L494.7,3695.4L496.6,3693.5L498.5,3691.7L500.4,3689.8L502.3,3688.0L504.2,3686.3L506.1,3684.5L508.0,3682.8L509.9,3681.1L511.8,3679.4L513.7,3677.8L515.6,3676.2L517.5,3674.6L519.4,3673.0L521.3,3671.5L523.2,3670.0L525.1,3668.5L527.0,3667.1L528.8,3665.7L530.7,3664.3L532.6,3662.9L534.5,3661.5L536.4,3660.2L538.3,3658.9L540.2,3657.7L542.1,3656.4L544.0,3655.2L545.9,3654.0L547.8,3652.8L549.7,3651.7L551.6,3650.6L553.5,3649.5L555.4,3648.4L557.3,3647.4L559.2,3646.4L561.1,3645.4L563.0,3644.4L564.9,3643.4L566.8,3642.5L568.7,3641.6L570.6,3640.8L572.5,3639.9L574.4,3639.1L576.3,3638.3L578.2,3637.5L580.1,3636.8L582.0,3636.0L583.9,3635.3L585.8,3634.6L587.7,3634.0L589.6,3633.3L591.5,3632.7L593.4,3632.1L595.3,3631.6L597.2,3631.0L599.1,3630.5L601.0,3630.0L602.9,3629.5L604.8,3629.1L606.7,3628.6L608.6,3628.2L610.5,3627.8L612.4,3627.5L614.3,3627.1L616.1,3626.8L618.0,3626.5L619.9,3626.2L621.8,3626.0L623.7,3625.7L625.6,3625.5L627.5,3625.3L629.4,3625.2L631.3,3625.0L633.2,3624.9L635.1,3624.8L637.0,3624.7L638.9,3624.6L640.8,3624.6L642.7,3624.6L644.6,3624.6L646.5,3624.6L648.4,3624.6L650.3,3624.7L652.2,3624.8L654.1,3624.9L656.0,3625.0L657.9,3625.2L659.8,3625.4L661.7,3625.6L663.6,3625.8L665.5,3626.0L667.4,3626.3L669.3,3626.6L671.2,3626.9L673.1,3627.2L675.0,3627.6L676.9,3628.0L678.8,3628.4L680.7,3628.8L682.6,3629.2L684.5,3629.7L686.4,3630.2L688.3,3630.7L690.2,3631.3L692.1,3631.8L694.0,3632.4L695.9,3633.0L697.8,3633.7L699.7,3634.3L701.5,3635.0L703.4,3635.7L705.3,3636.5L707.2,3637.2L709.1,3638.0L711.0,3638.8L712.9,3639.6L714.8,3640.5L716.7,3641.3L718.6,3642.2L720.5,3643.2L722.4,3644.1L724.3,3645.1L726.2,3646.1L728.1,3647.1L730.0,3648.2L731.9,3649.2L733.8,3650.3L735.7,3651.4L737.6,3652.6L739.5,3653.8L741.4,3655.0L743.3,3656.2L745.2,3657.4L747.1,3658.7L749.0,3660.0L750.9,3661.3L752.8,3662.7L754.7,3664.0L756.6,3665.4L758.5,3666.9L760.4,3668.3L762.3,3669.8L764.2,3671.3L766.1,3672.8L768.0,3674.4L769.9,3675.9L771.8,3677.6L773.7,3679.2L775.6,3680.8L777.5,3682.5L779.4,3684.2L781.3,3686.0L783.2,3687.7L785.1,3689.5L787.0,3691.4L788.8,3693.2L790.7,3695.1L792.6,3697.0L794.5,3698.9L796.4,3700.8L798.3,3702.8L800.1,3704.6L801.9,3706.1L803.7,3707.2L805.5,3708.0L807.3,3708.5L809.1,3708.6L811.0,3708.5L812.8,3707.9L814.6,3707.1L816.5,3705.9L818.4,3704.4L820.2,3702.5L822.1,3700.4L824.0,3697.8L825.9,3695.0L827.8,3691.8L829.7,3688.6L831.5,3685.3L833.4,3682.0L835.3,3678.8L837.2,3675.5L839.1,3672.3L841.0,3669.1L842.9,3665.9L844.8,3662.7L846.7,3659.6L848.6,3656.4L850.5,3653.3L852.4,3650.1L854.3,3647.0L856.2,3643.9L858.1,3640.8L860.0,3637.7L861.9,3634.6L863.8,3631.6L865.7,3628.6L867.6,3625.5L869.5,3622.5L871.4,3619.5L873.3,3616.5L875.2,3613.5L877.1,3610.6L879.0,3607.6L880.9,3604.7L882.8,3601.7L884.7,3598.8L886.6,3595.9L888.5,3593.0L890.4,3590.2L892.3,3587.3L894.2,3584.4L896.1,3581.6L898.0,3578.8L899.9,3576.0L901.8,3573.2L903.7,3570.4L905.6,3567.6L907.5,3564.8L909.4,3562.1L911.3,3559.4L913.2,3556.6L915.1,3553.9L916.9,3551.2L918.8,3548.6L920.7,3545.9L922.6,3543.2L924.5,3540.6L926.4,3537.9L928.3,3535.3L930.2,3532.7L932.1,3530.1L934.0,3527.6L935.9,3525.0L937.8,3522.4L939.7,3519.9L941.6,3517.4L943.5,3514.8L945.4,3512.3L947.3,3509.9L949.2,3507.4L951.1,3504.9L953.0,3502.5L954.9,3500.0L956.8,3497.6L958.7,3495.2L960.6,3492.8L962.5,3490.4L964.4,3488.0L966.3,3485.7L968.2,3483.3L970.1,3481.0L972.0,3478.7L973.9,3476.4L975.8,3474.1L977.7,3471.8L979.6,3469.5L981.5,3467.3L983.4,3465.0L985.3,3462.8L987.2,3460.6L989.1,3458.4L991.0,3456.2L992.9,3454.0L994.8,3451.9L996.7,3449.7L998.6,3447.6L1000.5,3445.5L1002.4,3443.3L1004.2,3441.3L1006.1,3439.2L1008.0,3437.1L1009.9,3435.0L1011.8,3433.0L1013.7,3431.0L1015.6,3428.9L1017.5,3426.9L1019.4,3425.0L1021.3,3423.0L1023.2,3421.0L1025.1,3419.1L1027.0,3417.1L1028.9,3415.2L1030.8,3413.3L1032.7,3411.4L1034.6,3409.5L1036.5,3407.6L1038.4,3405.8L1040.3,3403.9L1042.2,3402.1L1044.1,3400.3L1046.0,3398.5L1047.9,3396.7L1049.8,3394.9L1051.7,3393.1L1053.6,3391.4L1055.5,3389.6L1057.4,3387.9L1059.3,3386.2L1061.2,3384.5L1063.1,3382.8L1065.0,3381.1L1066.9,3379.5L1068.8,3377.8L1070.7,3376.2L1072.6,3374.5L1074.5,3372.9L1076.4,3371.3L1078.3,3369.8L1080.2,3368.2L1082.1,3366.6L1084.0,3365.1L1085.9,3363.6L1087.8,3362.1L1089.6,3360.6L1091.5,3359.1L1093.4,3357.6L1095.3,3356.1L1097.2,3354.7L1099.1,3353.3L1101.0,3351.8L1102.9,3350.4L1104.8,3349.0L1106.7,3347.7L1108.6,3346.3L1110.5,3344.9L1112.4,3343.6L1114.3,3342.3L1116.2,3341.0L1118.1,3339.7L1120.0,3338.4L1121.9,3337.1L1123.8,3335.8L1125.7,3334.6L1127.6,3333.4L1129.5,3332.1L1131.4,3330.9L1133.3,3329.7L1135.2,3328.6L1137.1,3327.4L1139.0,3326.2L1140.9,3325.1L1142.8,3324.0L1144.7,3322.9L1146.6,3321.8L1148.5,3320.7L1150.4,3319.6L1152.3,3318.6L1154.2,3317.5L1156.1,3316.5L1158.0,3315.5L1159.9,3314.5L1161.8,3313.5L1163.7,3312.5L1165.6,3311.5L1166.5,3311.1" stroke="#F0822F"/>
<path d="M312.5,4054.2L313.8,4050.0L315.1,4045.9L316.4,4041.8L317.7,4037.6L319.0,4033.6L320.3,4029.5L321.6,4025.5L322.9,4021.4L324.2,4017.5L325.5,4013.5L326.8,4009.6L328.1,4005.7L329.4,4001.8L330.7,3997.9L332.0,3994.1L333.3,3990.3L334.6,3986.5L335.9,3982.7L337.2,3979.0L338.5,3975.3L339.8,3971.6L341.1,3967.9L342.4,3964.3L343.7,3960.6L345.0,3957.1L346.3,3953.5L347.6,3949.9L348.8,3946.4L350.1,3942.9L351.4,3939.4L352.7,3936.0L354.0,3932.5L355.3,3929.1L356.6,3925.7L357.9,3922.4L359.2,3919.0L360.5,3915.7L361.8,3912.4L363.1,3909.1L364.4,3905.9L365.7,3902.6L367.0,3899.4L368.3,3896.2L369.6,3893.1L370.9,3889.9L372.2,3886.8L373.5,3883.7L374.8,3880.6L376.1,3877.6L377.4,3874.5L378.7,3871.5L380.0,3868.5L381.3,3865.5L382.6,3862.6L383.9,3859.7L385.2,3856.7L386.5,3853.8L387.8,3851.0L389.1,3848.1L390.4,3845.3L391.7,3842.5L393.0,3839.7L394.3,3836.9L395.6,3834.2L396.9,3831.4L398.2,3828.7L399.5,3826.0L400.8,3823.3L402.1,3820.7L403.4,3818.1L404.7,3815.4L406.0,3812.8L407.3,3810.3L408.6,3807.7L409.9,3805.2L411.2,3802.6L412.5,3800.1L413.8,3797.6L415.1,3795.2L416.4,3792.7L417.7,3790.3L419.0,3787.9L420.2,3785.5L421.5,3783.1L422.8,3780.7L424.1,3778.4L425.4,3776.1L426.7,3773.8L428.0,3771.5L429.3,3769.2L430.6,3767.0L431.9,3764.7L433.2,3762.5L434.5,3760.3L435.8,3758.1L437.1,3755.9L438.4,3753.8L439.7,3751.6L441.0,3749.5L442.3,3747.4L443.6,3745.3L444.9,3743.3L446.2,3741.2L447.5,3739.2L448.8,3737.1L450.1,3735.1L451.4,3733.1L452.7,3731.2L454.0,3729.2L455.3,3727.3L456.6,3725.3L457.9,3723.4L459.2,3721.5L460.5,3719.6L461.8,3717.8L463.1,3715.9L464.4,3714.1L465.7,3712.3L467.0,3710.5L468.3,3708.7L469.6,3706.9L470.9,3705.1L472.2,3703.4L473.5,3701.6L474.8,3699.9L476.1,3698.2L477.4,3696.5L478.7,3694.8L480.0,3693.2L481.3,3691.5L482.6,3689.9L483.9,3688.3L485.2,3686.7L486.5,3685.1L487.8,3683.5L489.1,3681.9L490.3,3680.4L491.6,3678.8L492.9,3677.3L494.2,3675.8L495.5,3674.3L496.8,3672.8L498.1,3671.3L499.4,3669.8L500.7,3668.4L502.0,3666.9L503.3,3665.5L504.6,3664.1L505.9,3662.7L507.2,3661.3L508.5,3659.9L509.8,3658.6L511.1,3657.2L512.4,3655.9L513.7,3654.5L515.0,3653.2L516.3,3651.9L517.6,3650.6L518.9,3649.4L520.2,3648.1L521.5,3646.8L522.8,3645.6L524.1,3644.4L525.4,3643.1L526.7,3641.9L528.0,3640.7L529.3,3639.6L530.6,3638.4L531.9,3637.2L533.2,3636.1L534.5,3634.9L535.8,3633.8L537.1,3632.7L538.4,3631.6L539.7,3630.5L541.0,3629.4L542.3,3628.3L543.6,3627.3L544.9,3626.2L546.2,3625.2L547.5,3624.2L548.8,3623.2L550.1,3622.2L551.4,3621.2L552.7,3620.2L554.0,3619.2L555.3,3618.3L556.6,3617.3L557.9,3616.4L559.2,3615.4L560.5,3614.5L561.7,3613.6L563.0,3612.7L564.3,3611.8L565.6,3611.0L566.9,3610.1L568.2,3609.2L569.5,3608.4L570.8,3607.6L572.1,3606.8L573.4,3605.9L574.7,3605.1L576.0,3604.3L577.3,3603.6L578.6,3602.8L579.9,3602.0L581.2,3601.3L582.5,3600.5L583.8,3599.8L585.1,3599.1L586.4,3598.4L587.7,3597.7L589.0,3597.0L590.3,3596.3L591.6,3595.6L592.9,3595.0L594.2,3594.3L595.5,3593.7L596.8,3593.0L598.1,3592.4L599.4,3591.8L600.7,3591.2L602.0,3590.6L603.3,3590.0L604.6,3589.4L605.9,3588.8L607.2,3588.3L608.5,3587.7L609.8,3587.2L611.1,3586.6L612.4,3586.1L613.7,3585.6L615.0,3585.1L616.3,3584.6L617.6,3584.1L618.9,3583.6L620.2,3583.1L621.5,3582.7L622.8,3582.2L624.1,3581.8L625.4,3581.3L626.7,3580.9L628.0,3580.5L629.3,3580.1L630.6,3579.6L631.9,3579.2L633.1,3578.9L634.4,3578.5L635.7,3578.1L637.0,3577.7L638.3,3577.4L639.6,3577.0L640.9,3576.7L642.2,3576.3L643.5,3576.0L644.8,3575.7L646.1,3575.4L647.4,3575.1L648.7,3574.8L650.0,3574.5L651.3,3574.2L652.6,3573.9L653.9,3573.6L655.2,3573.4L656.5,3573.1L657.8,3572.9L659.1,3572.6L660.4,3572.4L661.7,3572.2L663.0,3571.9L664.3,3571.7L665.6,3571.5L666.9,3571.3L668.2,3571.1L669.5,3570.9L670.8,3570.7L672.1,3570.6L673.4,3570.4L674.7,3570.2L676.0,3570.1L677.3,3569.9L678.6,3569.8L679.9,3569.6L681.2,3569.5L682.5,3569.4L683.8,3569.3L685.1,3569.1L686.4,3569.0L687.7,3568.9L689.0,3568.8L690.3,3568.7L691.6,3568.6L692.9,3568.6L694.2,3568.5L695.5,3568.4L696.8,3568.3L698.1,3568.3L699.4,3568.2L700.7,3568.2L702.0,3568.1L703.2,3568.1L704.5,3568.0L705.8,3568.0L707.1,3568.0L708.4,3568.0L709.7,3567.9L711.0,3567.9L712.3,3567.9L713.6,3567.9L714.9,3567.9L716.2,3567.9L717.5,3567.9L718.8,3567.9L720.1,3568.0L721.4,3568.0L722.7,3568.0L724.0,3568.0L725.3,3568.1L726.6,3568.1L727.9,3568.1L729.2,3568.2L730.5,3568.2L731.8,3568.3L733.1,3568.4L734.4,3568.4L735.7,3568.5L737.0,3568.5L738.3,3568.6L739.6,3568.7L740.9,3568.8L742.2,3568.8L743.5,3568.9L744.8,3569.0L746.1,3569.1L747.4,3569.2L748.7,3569.3L750.0,3569.4L751.3,3569.5L752.6,3569.6L753.9,3569.7L755.2,3569.8L756.5,3569.9L757.8,3570.1L759.1,3570.2L760.4,3570.3L761.7,3570.4L763.0,3570.5L764.3,3570.7L765.6,3570.8L766.9,3570.9L768.2,3571.1L769.5,3571.2L770.8,3571.3L772.1,3571.5L773.4,3571.6L774.6,3571.8L775.9,3571.9L777.2,3572.1L778.5,3572.2L779.8,3572.4L781.1,3572.5L782.4,3572.7L783.7,3572.8L785.0,3573.0L786.3,3573.2L787.6,3573.3L788.9,3573.5L790.2,3573.6L791.5,3573.8L792.8,3574.0L794.1,3574.1L795.4,3574.3L796.7,3574.3L798.0,3574.2L799.3,3574.0L800.6,3573.7L801.9,3573.3L803.2,3572.8L804.5,3572.2L805.8,3571.5L807.1,3570.7L808.4,3569.8L809.7,3568.8L811.0,3567.6L812.3,3566.4L813.6,3565.1L814.9,3563.7L816.2,3562.2L817.5,3560.5L818.8,3558.8L820.1,3557.0L821.4,3555.1L822.7,3553.2L824.0,3551.3L825.3,3549.5L826.6,3547.6L827.9,3545.7L829.2,3543.8L830.5,3541.9L831.8,3540.1L833.1,3538.2L834.4,3536.3L835.7,3534.4L837.0,3532.6L838.3,3530.7L839.6,3528.8L840.9,3527.0L842.2,3525.1L843.5,3523.2L844.8,3521.4L846.0,3519.5L847.3,3517.6L848.6,3515.8L849.9,3513.9L851.2,3512.1L852.5,3510.2L853.8,3508.4L855.1,3506.5L856.4,3504.7L857.7,3502.9L859.0,3501.0L860.3,3499.2L861.6,3497.4L862.9,3495.5L864.2,3493.7L865.5,3491.9L866.8,3490.1L868.1,3488.3L869.4,3486.5L870.7,3484.6L872.0,3482.8L873.3,3481.0L874.6,3479.2L875.9,3477.5L877.2,3475.7L878.5,3473.9L879.8,3472.1L881.1,3470.3L882.4,3468.6L883.7,3466.8L885.0,3465.0L886.3,3463.3L887.6,3461.5L888.9,3459.8L890.2,3458.0L891.5,3456.3L892.8,3454.6L894.1,3452.8L895.4,3451.1L896.7,3449.4" stroke="#FF00FF"/>
<path d="M312.5,4057.9L313.4,4055.0L314.3,4052.1L315.3,4049.2L316.2,4046.3L317.1,4043.4L318.0,4040.6L318.9,4037.7L319.8,4034.9L320.8,4032.0L321.7,4029.2L322.6,4026.4L323.5,4023.6L324.4,4020.8L325.4,4018.0L326.3,4015.2L327.2,4012.5L328.1,4009.7L329.0,4007.0L329.9,4004.2L330.9,4001.5L331.8,3998.8L332.7,3996.1L333.6,3993.4L334.5,3990.7L335.5,3988.0L336.4,3985.4L337.3,3982.7L338.2,3980.1L339.1,3977.4L340.0,3974.8L341.0,3972.2L341.9,3969.6L342.8,3967.0L343.7,3964.4L344.6,3961.8L345.6,3959.2L346.5,3956.6L347.4,3954.1L348.3,3951.5L349.2,3949.0L350.1,3946.5L351.1,3944.0L352.0,3941.5L352.9,3939.0L353.8,3936.5L354.7,3934.0L355.7,3931.5L356.6,3929.0L357.5,3926.6L358.4,3924.1L359.3,3921.7L360.2,3919.3L361.2,3916.9L362.1,3914.5L363.0,3912.0L363.9,3909.7L364.8,3907.3L365.8,3904.9L366.7,3902.5L367.6,3900.2L368.5,3897.8L369.4,3895.5L370.3,3893.2L371.3,3890.8L372.2,3888.5L373.1,3886.2L374.0,3883.9L374.9,3881.6L375.9,3879.4L376.8,3877.1L377.7,3874.8L378.6,3872.6L379.5,3870.3L380.4,3868.1L381.4,3865.9L382.3,3863.7L383.2,3861.4L384.1,3859.2L385.0,3857.1L386.0,3854.9L386.9,3852.7L387.8,3850.5L388.7,3848.4L389.6,3846.2L390.6,3844.1L391.5,3841.9L392.4,3839.8L393.3,3837.7L394.2,3835.6L395.1,3833.5L396.1,3831.4L397.0,3829.3L397.9,3827.2L398.8,3825.2L399.7,3823.1L400.7,3821.1L401.6,3819.0L402.5,3817.0L403.4,3815.0L404.3,3812.9L405.2,3810.9L406.2,3808.9L407.1,3806.9L408.0,3804.9L408.9,3803.0L409.8,3801.0L410.8,3799.0L411.7,3797.1L412.6,3795.1L413.5,3793.2L414.4,3791.2L415.3,3789.3L416.3,3787.4L417.2,3785.5L418.1,3783.6L419.0,3781.7L419.9,3779.8L420.9,3777.9L421.8,3776.1L422.7,3774.2L423.6,3772.3L424.5,3770.5L425.4,3768.7L426.4,3766.8L427.3,3765.0L428.2,3763.2L429.1,3761.4L430.0,3759.6L431.0,3757.8L431.9,3756.0L432.8,3754.2L433.7,3752.4L434.6,3750.7L435.5,3748.9L436.5,3747.2L437.4,3745.4L438.3,3743.7L439.2,3742.0L440.1,3740.2L441.1,3738.5L442.0,3736.8L442.9,3735.1L443.8,3733.4L444.7,3731.7L445.6,3730.1L446.6,3728.4L447.5,3726.7L448.4,3725.1L449.3,3723.4L450.2,3721.8L451.2,3720.1L452.1,3718.5L453.0,3716.9L453.9,3715.3L454.8,3713.7L455.7,3712.1L456.7,3710.5L457.6,3708.9L458.5,3707.3L459.4,3705.7L460.3,3704.2L461.3,3702.6L462.2,3701.1L463.1,3699.5L464.0,3698.0L464.9,3696.4L465.8,3694.9L466.8,3693.4L467.7,3691.9L468.6,3690.4L469.5,3688.9L470.4,3687.4L471.4,3685.9L472.3,3684.4L473.2,3682.9L474.1,3681.5L475.0,3680.0L475.9,3678.6L476.9,3677.1L477.8,3675.7L478.7,3674.2L479.6,3672.8L480.5,3671.4L481.5,3670.0L482.4,3668.6L483.3,3667.2L484.2,3665.8L485.1,3664.4L486.0,3663.0L487.0,3661.6L487.9,3660.3L488.8,3658.9L489.7,3657.5L490.6,3656.2L491.6,3654.8L492.5,3653.5L493.4,3652.2L494.3,3650.8L495.2,3649.5L496.1,3648.2L497.1,3646.9L498.0,3645.6L498.9,3644.3L499.8,3643.0L500.7,3641.7L501.7,3640.4L502.6,3639.2L503.5,3637.9L504.4,3636.6L505.3,3635.4L506.2,3634.1L507.2,3632.9L508.1,3631.6L509.0,3630.4L509.9,3629.2L510.8,3628.0L511.8,3626.7L512.7,3625.5L513.6,3624.3L514.5,3623.1L515.4,3621.9L516.3,3620.8L517.3,3619.6L518.2,3618.4L519.1,3617.2L520.0,3616.1L520.9,3614.9L521.9,3613.7L522.8,3612.6L523.7,3611.5L524.6,3610.3L525.5,3609.2L526.4,3608.1L527.4,3606.9L528.3,3605.8L529.2,3604.7L530.1,3603.6L531.0,3602.5L532.0,3601.4L532.9,3600.3L533.8,3599.2L534.7,3598.2L535.6,3597.1L536.6,3596.0L537.5,3595.0L538.4,3593.9L539.3,3592.9L540.2,3591.8L541.1,3590.8L542.1,3589.7L543.0,3588.7L543.9,3587.7L544.8,3586.6L545.7,3585.6L546.7,3584.6L547.6,3583.6L548.5,3582.6L549.4,3581.6L550.3,3580.6L551.2,3579.6L552.2,3578.6L553.1,3577.7L554.0,3576.7L554.9,3575.7L555.8,3574.8L556.8,3573.8L557.7,3572.8L558.6,3571.9L559.5,3570.9L560.4,3570.0L561.3,3569.1L562.3,3568.1L563.2,3567.2L564.1,3566.3L565.0,3565.4L565.9,3564.5L566.9,3563.6L567.8,3562.7L568.7,3561.8L569.6,3560.9L570.5,3560.0L571.4,3559.1L572.4,3558.2L573.3,3557.3L574.2,3556.5L575.1,3555.6L576.0,3554.7L577.0,3553.9L577.9,3553.0L578.8,3552.2L579.7,3551.3L580.6,3550.5L581.5,3549.6L582.5,3548.8L583.4,3548.0L584.3,3547.1L585.2,3546.3L586.1,3545.5L587.1,3544.7L588.0,3543.9L588.9,3543.1L589.8,3542.3L590.7,3541.5L591.6,3540.7L592.6,3539.9L593.5,3539.1L594.4,3538.3L595.3,3537.6L596.2,3536.8L597.2,3536.0L598.1,3535.2L599.0,3534.5L599.9,3533.7L600.8,3533.0L601.7,3532.2L602.7,3531.5L603.6,3530.7L604.5,3530.0L605.4,3529.3L606.3,3528.5L607.3,3527.8L608.2,3527.1L609.1,3526.4L610.0,3525.6L610.9,3524.9L611.8,3524.2L612.8,3523.5L613.7,3522.8L614.6,3522.1L615.5,3521.4L616.4,3520.7L617.4,3520.0L618.3,3519.3L619.2,3518.7L620.1,3518.0L621.0,3517.3L621.9,3516.6L622.9,3516.0L623.8,3515.3L624.7,3514.6L625.6,3514.0L626.5,3513.3L627.5,3512.7L628.4,3512.0L629.3,3511.4L630.2,3510.7L631.1,3510.1L632.0,3509.5L633.0,3508.8L633.9,3508.2L634.8,3507.6L635.7,3507.0L636.6,3506.3L637.6,3505.7L638.5,3505.1L639.4,3504.5L640.3,3503.9L641.2,3503.3L642.1,3502.7L643.1,3502.1L644.0,3501.5L644.9,3500.9L645.8,3500.3L646.7,3499.7L647.7,3499.1L648.6,3498.5L649.5,3497.9L650.4,3497.4L651.3,3496.8L652.2,3496.2L653.2,3495.7L654.1,3495.1L655.0,3494.5L655.9,3494.0L656.8,3493.4L657.8,3492.8L658.7,3492.3L659.6,3491.7L660.5,3491.2L661.4,3490.6L662.3,3490.1L663.3,3489.6L664.2,3489.0L665.1,3488.5L666.0,3487.9L666.9,3487.4L667.9,3486.9L668.8,3486.4L669.7,3485.8L670.6,3485.3L671.5,3484.8L672.4,3484.3L673.4,3483.8L674.3,3483.2L675.2,3482.7L676.1,3482.2L677.0,3481.7L678.0,3481.2L678.9,3480.7L679.8,3480.2L680.7,3479.7L681.6,3479.2L682.6,3478.7L683.5,3478.2L684.4,3477.7L685.3,3477.2L686.2,3476.8L687.1,3476.3L688.1,3475.8L689.0,3475.3L689.9,3474.8L690.8,3474.4L691.7,3473.9L692.7,3473.4L693.6,3472.9L694.5,3472.5L695.4,3472.0L696.3,3471.5L697.2,3471.1L698.2,3470.6L699.1,3470.1L700.0,3469.7L700.9,3469.2L701.8,3468.8L702.8,3468.3L703.7,3467.9L704.6,3467.4L705.5,3467.0L706.4,3466.5L707.3,3466.1L708.3,3465.6L709.2,3465.2L710.1,3464.7L711.0,3464.3L711.9,3463.9L712.9,3463.4L713.8,3463.0L714.7,3462.5L715.6,3462.1L716.5,3461.7L717.4,3461.3L718.4,3460.8L719.3,3460.4L720.2,3460.0L721.1,3459.5L722.0,3459.1L723.0,3458.7L723.9,3458.3L724.8,3457.8L725.7,3457.4" stroke="#0000FF"/>
<path d="M312.5,4068.4L312.8,4067.2L313.0,4066.1L313.3,4064.9L313.6,4063.7L313.8,4062.6L314.1,4061.4L314.4,4060.2L314.6,4059.0L314.9,4057.8L315.1,4056.7L315.4,4055.5L315.7,4054.3L315.9,4053.1L316.2,4051.9L316.5,4050.7L316.7,4049.5L317.0,4048.3L317.3,4047.1L317.5,4045.9L317.8,4044.7L318.1,4043.5L318.3,4042.3L318.6,4041.1L318.9,4039.9L319.1,4038.7L319.4,4037.5L319.6,4036.3L319.9,4035.1L320.2,4033.9L320.4,4032.7L320.7,4031.5L321.0,4030.3L321.2,4029.1L321.5,4027.8L321.8,4026.6L322.0,4025.4L322.3,4024.2L322.6,4023.0L322.8,4021.8L323.1,4020.5L323.4,4019.3L323.6,4018.1L323.9,4016.9L324.1,4015.6L324.4,4014.4L324.7,4013.2L324.9,4011.9L325.2,4010.7L325.5,4009.5L325.7,4008.2L326.0,4007.0L326.3,4005.8L326.5,4004.5L326.8,4003.3L327.1,4002.1L327.3,4000.8L327.6,3999.6L327.9,3998.3L328.1,3997.1L328.4,3995.9L328.7,3994.6L328.9,3993.4L329.2,3992.1L329.4,3990.9L329.7,3989.6L330.0,3988.4L330.2,3987.1L330.5,3985.9L330.8,3984.6L331.0,3983.4L331.3,3982.1L331.6,3980.9L331.8,3979.6L332.1,3978.4L332.4,3977.1L332.6,3975.8L332.9,3974.6L333.2,3973.3L333.4,3972.1L333.7,3970.8L333.9,3969.6L334.2,3968.3L334.5,3967.0L334.7,3965.8L335.0,3964.5L335.3,3963.2L335.5,3962.0L335.8,3960.7L336.1,3959.4L336.3,3958.2L336.6,3956.9L336.9,3955.6L337.1,3954.4L337.4,3953.1L337.7,3951.8L337.9,3950.6L338.2,3949.3L338.4,3948.0L338.7,3946.7L339.0,3945.5L339.2,3944.2L339.5,3942.9L339.8,3941.6L340.0,3940.4L340.3,3939.1L340.6,3937.8L340.8,3936.5L341.1,3935.3L341.4,3934.0L341.6,3932.7L341.9,3931.4L342.2,3930.2L342.4,3928.9L342.7,3927.6L342.9,3926.3L343.2,3925.0L343.5,3923.8L343.7,3922.5L344.0,3921.2L344.3,3919.9L344.5,3918.6L344.8,3917.3L345.1,3916.1L345.3,3914.8L345.6,3913.5L345.9,3912.2L346.1,3910.9L346.4,3909.6L346.7,3908.4L346.9,3907.1L347.2,3905.8L347.4,3904.5L347.7,3903.2L348.0,3901.9L348.2,3900.7L348.5,3899.4L348.8,3898.1L349.0,3896.8L349.3,3895.5L349.6,3894.2L349.8,3892.9L350.1,3891.7L350.4,3890.4L350.6,3889.1L350.9,3887.8L351.2,3886.5L351.4,3885.2L351.7,3883.9L352.0,3882.6L352.2,3881.4L352.5,3880.1L352.7,3878.8L353.0,3877.5L353.3,3876.2L353.5,3874.9L353.8,3873.6L354.1,3872.4L354.3,3871.1L354.6,3869.8L354.9,3868.5L355.1,3867.2L355.4,3865.9L355.7,3864.6L355.9,3863.3L356.2,3862.1L356.5,3860.8L356.7,3859.5L357.0,3858.2L357.2,3856.9L357.5,3855.6L357.8,3854.4L358.0,3853.1L358.3,3851.8L358.6,3850.5L358.8,3849.2L359.1,3847.9L359.4,3846.6L359.6,3845.4L359.9,3844.1L360.2,3842.8L360.4,3841.5L360.7,3840.2L361.0,3839.0L361.2,3837.7L361.5,3836.4L361.7,3835.1L362.0,3833.8L362.3,3832.5L362.5,3831.3L362.8,3830.0L363.1,3828.7L363.3,3827.4L363.6,3826.2L363.9,3824.9L364.1,3823.6L364.4,3822.3L364.7,3821.0L364.9,3819.8L365.2,3818.5L365.5,3817.2L365.7,3815.9L366.0,3814.7L366.2,3813.4L366.5,3812.1L366.8,3810.9L367.0,3809.6L367.3,3808.3L367.6,3807.0L367.8,3805.8L368.1,3804.5L368.4,3803.2L368.6,3802.0L368.9,3800.7L369.2,3799.4L369.4,3798.2L369.7,3796.9L370.0,3795.6L370.2,3794.4L370.5,3793.1L370.7,3791.8L371.0,3790.6L371.3,3789.3L371.5,3788.1L371.8,3786.8L372.1,3785.5L372.3,3784.3L372.6,3783.0L372.9,3781.8L373.1,3780.5L373.4,3779.3L373.7,3778.0L373.9,3776.7L374.2,3775.5L374.5,3774.2L374.7,3773.0L375.0,3771.7L375.2,3770.5L375.5,3769.2L375.8,3768.0L376.0,3766.7L376.3,3765.5L376.6,3764.3L376.8,3763.0L377.1,3761.8L377.4,3760.5L377.6,3759.3L377.9,3758.0L378.2,3756.8L378.4,3755.6L378.7,3754.3L379.0,3753.1L379.2,3751.9L379.5,3750.6L379.8,3749.4L380.0,3748.2L380.3,3746.9L380.5,3745.7L380.8,3744.5L381.1,3743.2L381.3,3742.0L381.6,3740.8L381.9,3739.6L382.1,3738.3L382.4,3737.1L382.7,3735.9L382.9,3734.7L383.2,3733.5L383.5,3732.2L383.7,3731.0L384.0,3729.8L384.3,3728.6L384.5,3727.4L384.8,3726.2L385.0,3725.0L385.3,3723.8L385.6,3722.5L385.8,3721.3L386.1,3720.1L386.4,3718.9L386.6,3717.7L386.9,3716.5L387.2,3715.3L387.4,3714.1L387.7,3712.9L388.0,3711.7L388.2,3710.5L388.5,3709.4L388.8,3708.2L389.0,3707.0L389.3,3705.8L389.5,3704.6L389.8,3703.4L390.1,3702.2L390.3,3701.0L390.6,3699.9L390.9,3698.7L391.1,3697.5L391.4,3696.3L391.7,3695.2L391.9,3694.0L392.2,3692.8L392.5,3691.6L392.7,3690.5L393.0,3689.3L393.3,3688.1L393.5,3687.0L393.8,3685.8L394.0,3684.6L394.3,3683.5L394.6,3682.3L394.8,3681.2L395.1,3680.0L395.4,3678.9L395.6,3677.7L395.9,3676.6L396.2,3675.4L396.4,3674.3L396.7,3673.1L397.0,3672.0L397.2,3670.8L397.5,3669.7L397.8,3668.6L398.0,3667.4L398.3,3666.3L398.5,3665.2L398.8,3664.0L399.1,3662.9L399.3,3661.8L399.6,3660.7L399.9,3659.5L400.1,3658.4L400.4,3657.3L400.7,3656.2L400.9,3655.1L401.2,3653.9L401.5,3652.8L401.7,3651.7L402.0,3650.6L402.3,3649.5L402.5,3648.4L402.8,3647.3L403.1,3646.2L403.3,3645.1L403.6,3644.0L403.8,3642.9L404.1,3641.8L404.4,3640.7L404.6,3639.6L404.9,3638.5L405.2,3637.5L405.4,3636.4L405.7,3635.3L406.0,3634.2L406.2,3633.1L406.5,3632.1L406.8,3631.0L407.0,3629.9L407.3,3628.9L407.6,3627.8L407.8,3626.7L408.1,3625.7L408.3,3624.6L408.6,3623.6L408.9,3622.5L409.1,3621.4L409.4,3620.4L409.7,3619.3L409.9,3618.3L410.2,3617.3L410.5,3616.2L410.7,3615.2L411.0,3614.1L411.3,3613.1L411.5,3612.1L411.8,3611.0L412.1,3610.0L412.3,3609.0L412.6,3608.0L412.8,3606.9L413.1,3605.9L413.4,3604.9L413.6,3603.9L413.9,3602.9L414.2,3601.9L414.4,3600.9L414.7,3599.9L415.0,3598.9L415.2,3597.9L415.5,3596.9L415.8,3595.9L416.0,3594.9L416.3,3593.9L416.6,3592.9L416.8,3591.9L417.1,3590.9L417.3,3590.0L417.6,3589.0L417.9,3588.0L418.1,3587.0L418.4,3586.1L418.7,3585.1L418.9,3584.1L419.2,3583.2L419.5,3582.2L419.7,3581.3L420.0,3580.3L420.3,3579.4L420.5,3578.4L420.8,3577.5L421.1,3576.5L421.3,3575.6L421.6,3574.6L421.8,3573.7L422.1,3572.8L422.4,3571.8L422.6,3570.9L422.9,3570.0L423.2,3569.1L423.4,3568.1L423.7,3567.2L424.0,3566.3L424.2,3565.4L424.5,3564.5L424.8,3563.6L425.0,3562.7L425.3,3561.8L425.6,3560.9L425.8,3560.0L426.1,3559.1L426.4,3558.2L426.6,3557.3L426.9,3556.5L427.1,3555.6L427.4,3554.7L427.7,3553.8L427.9,3553.0L428.2,3552.1L428.5,3551.2L428.7,3550.4L429.0,3549.5L429.3,3548.6L429.5,3547.8L429.8,3546.9L430.1,3546.1L430.3,3545.3L430.6,3544.4L430.9,3543.6L431.1,3542.7L431.4,3541.9L431.6,3541.1" stroke="#808080"/>
</g>
<g stroke="#000" fill="none" stroke-width="11" stroke-linecap="square">
<line x1="312.5" y1="57.5" x2="312.5" y2="4194"/>
<line x1="2020.5" y1="57.5" x2="2020.5" y2="4194"/>
<line x1="312.5" y1="57.5" x2="2020.5" y2="57.5"/>
<line x1="312.5" y1="1434.5" x2="2020.5" y2="1434.5"/>
<line x1="312.5" y1="2812.5" x2="2020.5" y2="2812.5"/>
<line x1="312.5" y1="2815.5" x2="2020.5" y2="2815.5"/>
<line x1="312.5" y1="4194" x2="2020.5" y2="4194"/>
</g>
<path d="M285,1434.5H307M299,1384.4H307M299,1334.3H307M299,1284.3H307M299,1234.2H307M285,1184.1H307M299,1134.0H307M299,1083.9H307M299,1033.9H307M299,983.8H307M285,933.7H307M299,883.6H307M299,833.5H307M299,783.5H307M299,733.4H307M285,683.3H307M299,633.2H307M299,583.1H307M299,533.1H307M299,483.0H307M285,432.9H307M299,382.8H307M299,332.7H307M299,282.7H307M299,232.6H307M285,182.5H307M299,132.4H307M299,82.3H307M285,2812.5H307M299,2762.4H307M299,2712.3H307M299,2662.3H307M299,2612.2H307M285,2562.1H307M299,2512.0H307M299,2461.9H307M299,2411.9H307M299,2361.8H307M285,2311.7H307M299,2261.6H307M299,2211.5H307M299,2161.5H307M299,2111.4H307M285,2061.3H307M299,2011.2H307M299,1961.1H307M299,1911.1H307M299,1861.0H307M285,1810.9H307M299,1760.8H307M299,1710.7H307M299,1660.7H307M299,1610.6H307M285,1560.5H307M299,1510.4H307M299,1460.3H307M285,4194.0H307M299,4144.8H307M299,4095.6H307M299,4046.3H307M299,3997.1H307M285,3947.9H307M299,3898.7H307M299,3849.5H307M299,3800.2H307M299,3751.0H307M285,3701.8H307M299,3652.6H307M299,3603.4H307M299,3554.1H307M299,3504.9H307M285,3455.7H307M299,3406.5H307M299,3357.3H307M299,3308.0H307M299,3258.8H307M285,3209.6H307M299,3160.4H307M299,3111.2H307M299,3061.9H307M299,3012.7H307M285,2963.5H307M299,2914.3H307M299,2865.1H307M299,2815.8H307M407.4,1440V1448M502.3,1440V1461M597.2,1440V1448M692.1,1440V1461M787.0,1440V1448M881.8,1440V1461M976.7,1440V1448M1071.6,1440V1461M1166.5,1440V1448M1261.4,1440V1461M1356.3,1440V1448M1451.2,1440V1461M1546.1,1440V1448M1641.0,1440V1461M1735.8,1440V1448M1830.7,1440V1461M1925.6,1440V1448M407.4,2818V2826M502.3,2818V2839M597.2,2818V2826M692.1,2818V2839M787.0,2818V2826M881.8,2818V2839M976.7,2818V2826M1071.6,2818V2839M1166.5,2818V2826M1261.4,2818V2839M1356.3,2818V2826M1451.2,2818V2839M1546.1,2818V2826M1641.0,2818V2839M1735.8,2818V2826M1830.7,2818V2839M1925.6,2818V2826M312.5,4199V4222M502.3,4199V4207.5M692.1,4199V4222M881.8,4199V4207.5M1071.6,4199V4222M1261.4,4199V4207.5M1451.2,4199V4222M1641.0,4199V4207.5M1830.7,4199V4222M2020.5,4199V4207.5" stroke="#000" stroke-width="11" fill="none"/>
<g font-size="78" text-anchor="end" fill="#000">
<text x="266" y="1456.5">0</text>
<text x="266" y="1206.1">50</text>
<text x="266" y="955.7">100</text>
<text x="266" y="705.3">150</text>
<text x="266" y="454.9">200</text>
<text x="266" y="204.5">250</text>
<text x="266" y="2834.5">0</text>
<text x="266" y="2584.1">50</text>
<text x="266" y="2333.7">100</text>
<text x="266" y="2083.3">150</text>
<text x="266" y="1832.9">200</text>
<text x="266" y="1582.5">250</text>
<text x="266" y="4216.0">0</text>
<text x="266" y="3969.9">50</text>
<text x="266" y="3723.8">100</text>
<text x="266" y="3477.7">150</text>
<text x="266" y="3231.6">200</text>
<text x="266" y="2985.5">250</text>
</g>
<g font-size="78" text-anchor="middle" fill="#000">
<text x="312.5" y="4299.5">0</text>
<text x="692.1" y="4299.5">2</text>
<text x="1071.6" y="4299.5">4</text>
<text x="1451.2" y="4299.5">6</text>
<text x="1830.7" y="4299.5">8</text>
</g>
<text transform="translate(106,746.0) rotate(-90)" text-anchor="middle" font-size="78">Resistivity (<tspan font-family="Liberation Serif, serif">μΩ</tspan> cm)</text>
<text transform="translate(106,2123.5) rotate(-90)" text-anchor="middle" font-size="78">Resistivity (<tspan font-family="Liberation Serif, serif">μΩ</tspan> cm)</text>
<text transform="translate(106,3504.9) rotate(-90)" text-anchor="middle" font-size="78">Resistivity (<tspan font-family="Liberation Serif, serif">μΩ</tspan> cm)</text>
<g font-size="77">
<text x="932" y="4429.6" font-style="italic">B</text><text x="982" y="4454" font-size="44">a</text><text x="1006" y="4441" font-size="50">,</text>
<text x="1056" y="4429.6" font-style="italic">B</text><text x="1103" y="4429.6"><tspan font-size="70">*</tspan>,</text>
<text x="1179" y="4429.6" font-style="italic">B</text><text x="1232" y="4454.4" font-size="29" letter-spacing="6">||</text>
<text x="1300" y="4429.6">(T)</text>
</g>
<text x="1863" y="150" font-size="90">(a)</text>
<text x="1863" y="1550" font-size="90">(b)</text>
<text x="1863" y="2922.4" font-size="90">(c)</text>
<text x="1156.9" y="1389.7" text-anchor="middle" font-size="77.9">Applied magnetic field</text>
<text x="1181.5" y="2764.6" text-anchor="middle" font-size="77.9">Anisotropic superconductor scaling</text>
<rect x="566" y="4080.6" width="1180" height="88.6" fill="#fff"/>
<text x="1153.3" y="4150.8" text-anchor="middle" font-size="77.9">Scaled to parallel field component</text>
<rect x="1654" y="1076" width="349.6" height="117.8" fill="#808080"/>
<rect x="1641.9" y="1062.9" width="347.9" height="115.8" fill="#fff" stroke="#000" stroke-width="7.6"/>
<g font-size="89"><text x="1654.5" y="1150.7" font-style="italic">T</text><text x="1728" y="1150.7">=</text><text x="1802" y="1150.7" font-size="87">74</text><text x="1920.8" y="1150.7">K</text></g>
<defs><linearGradient id="gArrow" x1="0" x2="1" y1="0" y2="0"><stop offset="0" stop-color="#5E9A3A"/><stop offset="0.25" stop-color="#8CC46A"/><stop offset="0.55" stop-color="#70AD47"/><stop offset="0.7" stop-color="#4E7F30"/><stop offset="1" stop-color="#4A7A2C"/></linearGradient><linearGradient id="pArrow" x1="0" x2="1" y1="0" y2="0"><stop offset="0" stop-color="#6A2A98"/><stop offset="0.3" stop-color="#A060D8"/><stop offset="0.55" stop-color="#7A35B0"/><stop offset="1" stop-color="#55207F"/></linearGradient><clipPath id="boxclip"><polygon points="393,554.4 557.3,390.5 1112,390.5 1112,541.3 949,703.5 393,703.5"/></clipPath></defs>
<polygon points="393,554.4 949,554.4 1112,390.5 557.3,390.5" fill="#C4C4C4"/>
<polygon points="949,554.4 1112,390.5 1112,541.3 949,703.5" fill="#B4B4B4"/>
<rect x="393" y="554.4" width="556" height="149.1" fill="#BABABA"/>
<defs><clipPath id="cTop"><polygon points="393,554.4 949,554.4 1112,390.5 557.3,390.5"/></clipPath><clipPath id="cFront"><rect x="393" y="554.4" width="556" height="149.1"/></clipPath><clipPath id="cRight"><polygon points="949,554.4 1112,390.5 1112,541.3 949,703.5"/></clipPath><linearGradient id="capG" x1="0" x2="0" y1="0" y2="1"><stop offset="0" stop-color="#A08A5A"/><stop offset="0.6" stop-color="#AC9768"/><stop offset="1" stop-color="#B09C70"/></linearGradient></defs>
<g clip-path="url(#cTop)"><g filter="url(#blur)">
<path d="M538.5,427.5V567.8A25.899999999999977,11 0 0 0 590.3,567.8V427.5Z" fill="#8B7126"/>
<ellipse cx="564.4" cy="427.5" rx="25.9" ry="11" fill="url(#capG)"/>
<path d="M550,469.3V616.8A27.350000000000023,11 0 0 0 604.7,616.8V469.3Z" fill="#8B7126"/>
<ellipse cx="577.4" cy="469.3" rx="27.4" ry="11" fill="url(#capG)"/>
<path d="M573,531.3V671.5A26.649999999999977,11 0 0 0 626.3,671.5V531.3Z" fill="#8B7126"/>
<ellipse cx="599.6" cy="531.3" rx="26.6" ry="11" fill="url(#capG)"/>
<path d="M662.3,433.3V570.7A25.950000000000045,11 0 0 0 714.2,570.7V433.3Z" fill="#8B7126"/>
<ellipse cx="688.2" cy="433.3" rx="26.0" ry="11" fill="url(#capG)"/>
<path d="M686.8,476.5V616.8A27.400000000000034,11 0 0 0 741.6,616.8V476.5Z" fill="#8B7126"/>
<ellipse cx="714.2" cy="476.5" rx="27.4" ry="11" fill="url(#capG)"/>
<path d="M727.2,535V674.2A25.94999999999999,11 0 0 0 779.1,674.2V535Z" fill="#8B7126"/>
<ellipse cx="753.2" cy="535" rx="25.9" ry="11" fill="url(#capG)"/>
<path d="M810.8,428.8V570.5A25.950000000000045,11 0 0 0 862.7,570.5V428.8Z" fill="#8B7126"/>
<ellipse cx="836.8" cy="428.8" rx="26.0" ry="11" fill="url(#capG)"/>
<path d="M836.7,472V610.8A27.399999999999977,11 0 0 0 891.5,610.8V472Z" fill="#8B7126"/>
<ellipse cx="864.1" cy="472" rx="27.4" ry="11" fill="url(#capG)"/>
<path d="M877,532.5V674.2A26.0,11 0 0 0 929,674.2V532.5Z" fill="#8B7126"/>
<ellipse cx="903.0" cy="532.5" rx="26.0" ry="11" fill="url(#capG)"/>
<path d="M447.7,531.3V674.4A25.200000000000017,11 0 0 0 498.1,674.4V531.3Z" fill="#8B7126"/>
<ellipse cx="472.9" cy="531.3" rx="25.2" ry="11" fill="url(#capG)"/>
<path d="M963.6,434V578A28.349999999999966,11 0 0 0 1020.3,578V434Z" fill="#8B7126"/>
<ellipse cx="992.0" cy="434" rx="28.3" ry="11" fill="url(#capG)"/>
</g></g>
<g clip-path="url(#cFront)"><g filter="url(#blur)">
<path d="M538.5,427.5V567.8A25.899999999999977,11 0 0 0 590.3,567.8V427.5Z" fill="#7B6119"/>
<path d="M550,469.3V616.8A27.350000000000023,11 0 0 0 604.7,616.8V469.3Z" fill="#7B6119"/>
<path d="M573,531.3V671.5A26.649999999999977,11 0 0 0 626.3,671.5V531.3Z" fill="#7B6119"/>
<path d="M662.3,433.3V570.7A25.950000000000045,11 0 0 0 714.2,570.7V433.3Z" fill="#7B6119"/>
<path d="M686.8,476.5V616.8A27.400000000000034,11 0 0 0 741.6,616.8V476.5Z" fill="#7B6119"/>
<path d="M727.2,535V674.2A25.94999999999999,11 0 0 0 779.1,674.2V535Z" fill="#7B6119"/>
<path d="M810.8,428.8V570.5A25.950000000000045,11 0 0 0 862.7,570.5V428.8Z" fill="#7B6119"/>
<path d="M836.7,472V610.8A27.399999999999977,11 0 0 0 891.5,610.8V472Z" fill="#7B6119"/>
<path d="M877,532.5V674.2A26.0,11 0 0 0 929,674.2V532.5Z" fill="#7B6119"/>
<path d="M447.7,531.3V674.4A25.200000000000017,11 0 0 0 498.1,674.4V531.3Z" fill="#7B6119"/>
<path d="M963.6,434V578A28.349999999999966,11 0 0 0 1020.3,578V434Z" fill="#7B6119"/>
</g></g>
<g clip-path="url(#cRight)"><g filter="url(#blur)">
<path d="M538.5,427.5V567.8A25.899999999999977,11 0 0 0 590.3,567.8V427.5Z" fill="#7D651C"/>
<path d="M550,469.3V616.8A27.350000000000023,11 0 0 0 604.7,616.8V469.3Z" fill="#7D651C"/>
<path d="M573,531.3V671.5A26.649999999999977,11 0 0 0 626.3,671.5V531.3Z" fill="#7D651C"/>
<path d="M662.3,433.3V570.7A25.950000000000045,11 0 0 0 714.2,570.7V433.3Z" fill="#7D651C"/>
<path d="M686.8,476.5V616.8A27.400000000000034,11 0 0 0 741.6,616.8V476.5Z" fill="#7D651C"/>
<path d="M727.2,535V674.2A25.94999999999999,11 0 0 0 779.1,674.2V535Z" fill="#7D651C"/>
<path d="M810.8,428.8V570.5A25.950000000000045,11 0 0 0 862.7,570.5V428.8Z" fill="#7D651C"/>
<path d="M836.7,472V610.8A27.399999999999977,11 0 0 0 891.5,610.8V472Z" fill="#7D651C"/>
<path d="M877,532.5V674.2A26.0,11 0 0 0 929,674.2V532.5Z" fill="#7D651C"/>
<path d="M447.7,531.3V674.4A25.200000000000017,11 0 0 0 498.1,674.4V531.3Z" fill="#7D651C"/>
<path d="M963.6,434V578A28.349999999999966,11 0 0 0 1020.3,578V434Z" fill="#7D651C"/>
</g></g>
<path d="M807.9,466.2 C796,483 770,515 762,532 C754,548 762,565 760,578 C757,592 745,595 715,596 L640,597 C615,598 600,602 598,612 C596,628 606,640 602,660 C598,680 590,700 583,711 L545.7,768.7" fill="none" stroke="#425E8A" stroke-width="8.5" stroke-linecap="round"/>
<path d="M590,700 C588,705 586,708 583,711 L545.7,768.7" fill="none" stroke="#4C72AC" stroke-width="8.5" stroke-linecap="round"/>
<g fill="none" stroke-linejoin="round">
<path d="M557.3,390.5H1112V541.3" stroke="#000" stroke-width="2"/>
<path d="M393,554.4L557.3,390.5M949,554.4L1112,390.5M949,703.5L1112,541.3" stroke="#3a3a3a" stroke-width="2"/>
<path d="M393,554.4H949" stroke="#222" stroke-opacity="0.75" stroke-width="3.5"/>
<path d="M393,554.4V703.5H949V554.4" stroke="#000" stroke-width="2"/>
</g>
<text x="637.7" y="650" font-size="58" fill="#3A62AA">Φ</text><text x="684" y="658" font-size="31" fill="#3A62AA">0</text>
<path d="M833,369.7V201H825.6L843.6,181.9L861.7,201H853.2V369.7Z" fill="url(#gArrow)" stroke="#4A7A2C" stroke-width="1"/>
<polygon points="877.9,365.4 981.7,205.2 975.4,201.1 1003.0,188.0 1002.3,218.5 996.0,214.4 892.1,374.6" fill="#7A38B0" stroke="#55207F" stroke-width="1.5"/>
<path d="M882.5,368.4L986.3,208.2" stroke="#A468DC" stroke-width="5"/>
<g transform="translate(806,139.4) scale(0.85,1)"><text x="0" y="0" font-size="70" font-style="italic" fill="#70AD47">B</text></g>
<text x="849" y="155.5" font-size="50" font-weight="bold" fill="#70AD47" letter-spacing="12">||</text>
<g transform="translate(985.5,141.6) scale(0.85,1)"><text x="0" y="0" font-size="70" font-style="italic" fill="#7030A0">B</text></g>
<g transform="translate(1025.6,158.5) scale(0.85,1)"><text x="0" y="0" font-size="46" fill="#7030A0">a</text></g>
<rect x="1645.4" y="1869.3" width="354.5" height="787.5" fill="#808080"/>
<rect x="1632" y="1856.8" width="354.3" height="787.4" fill="#fff" stroke="#000" stroke-width="7.6"/>
<text x="1653.2" y="1923.2" font-size="71.5" font-weight="bold">Tilt angle</text>
<line x1="1672.3" y1="1986.1" x2="1831.8" y2="1986.1" stroke="#000000" stroke-width="10" stroke-linecap="round"/>
<circle cx="1751.4" cy="1986.1" r="16.3" fill="#000000"/>
<text x="1958.6" y="2010.9" text-anchor="end" font-size="74" letter-spacing="-1">0°</text>
<line x1="1672.3" y1="2074.2" x2="1831.8" y2="2074.2" stroke="#8000FF" stroke-width="10" stroke-linecap="round"/>
<circle cx="1751.4" cy="2074.2" r="16.3" fill="#8000FF"/>
<text x="1958.6" y="2099.0" text-anchor="end" font-size="74" letter-spacing="-1">20°</text>
<line x1="1672.3" y1="2162.4" x2="1831.8" y2="2162.4" stroke="#008080" stroke-width="10" stroke-linecap="round"/>
<circle cx="1751.4" cy="2162.4" r="16.3" fill="#008080"/>
<text x="1958.6" y="2187.2" text-anchor="end" font-size="74" letter-spacing="-1">40°</text>
<line x1="1672.3" y1="2250.5" x2="1831.8" y2="2250.5" stroke="#800000" stroke-width="10" stroke-linecap="round"/>
<circle cx="1751.4" cy="2250.5" r="16.3" fill="#800000"/>
<text x="1958.6" y="2275.3" text-anchor="end" font-size="74" letter-spacing="-1">50°</text>
<line x1="1672.3" y1="2338.6" x2="1831.8" y2="2338.6" stroke="#F0822F" stroke-width="10" stroke-linecap="round"/>
<circle cx="1751.4" cy="2338.6" r="16.3" fill="#F0822F"/>
<text x="1958.6" y="2363.4" text-anchor="end" font-size="74" letter-spacing="-1">60°</text>
<line x1="1672.3" y1="2426.8" x2="1831.8" y2="2426.8" stroke="#FF00FF" stroke-width="10" stroke-linecap="round"/>
<circle cx="1751.4" cy="2426.8" r="16.3" fill="#FF00FF"/>
<text x="1958.6" y="2451.6" text-anchor="end" font-size="74" letter-spacing="-1">70°</text>
<line x1="1672.3" y1="2514.9" x2="1831.8" y2="2514.9" stroke="#0000FF" stroke-width="10" stroke-linecap="round"/>
<circle cx="1751.4" cy="2514.9" r="16.3" fill="#0000FF"/>
<text x="1958.6" y="2539.7" text-anchor="end" font-size="74" letter-spacing="-1">76°</text>
<line x1="1672.3" y1="2603.0" x2="1831.8" y2="2603.0" stroke="#808080" stroke-width="10" stroke-linecap="round"/>
<circle cx="1751.4" cy="2603.0" r="16.3" fill="#808080"/>
<text x="1958.6" y="2627.8" text-anchor="end" font-size="74" letter-spacing="-1">86°</text>
<text x="841" y="3108.6" font-size="77"><tspan font-style="italic">B</tspan><tspan fill="#808080" font-size="53" dx="6" dy="21.4">1</tspan></text>
<text x="1345.5" y="3108.7" font-size="77"><tspan font-style="italic">B</tspan><tspan fill="#808080" font-size="53" dx="6" dy="21">2</tspan></text>
<rect x="1213.2" y="3595" width="807.3" height="476" fill="#fff" stroke="none"/>
<path d="M1213.2,4071V3595H2020.5M1213.2,4071.8H2020.5" stroke="#000" stroke-width="7.6" fill="none"/>
<path d="M1213.2,3591V3574M1302.9,3591V3574M1392.6,3591V3574M1482.3,3591V3574M1572.0,3591V3574M1661.7,3591V3574M1751.4,3591V3574M1841.1,3591V3574M1930.8,3591V3574M2020.5,3591V3574" stroke="#000" stroke-width="5.5" fill="none"/>
<text x="1211.2" y="3545" text-anchor="middle" font-size="68">0</text>
<text x="1390.6" y="3545" text-anchor="middle" font-size="68">20</text>
<text x="1570.0" y="3545" text-anchor="middle" font-size="68">40</text>
<text x="1749.4" y="3545" text-anchor="middle" font-size="68">60</text>
<text x="1928.8" y="3545" text-anchor="middle" font-size="68">80</text>
<text x="1437" y="3446" font-size="68">Tilt angle (°)</text>
<line x1="2020.5" y1="3580" x2="2020.5" y2="4090" stroke="#000" stroke-width="11"/>
<path d="M2026,4071.0H2041.6M2026,4015.0H2041.6M2026,3959.0H2041.6M2026,3903.0H2041.6M2026,3847.0H2041.6M2026,3791.1H2041.6M2026,3735.1H2041.6M2026,3679.1H2041.6M2026,3623.1H2041.6" stroke="#000" stroke-width="8" fill="none"/>
<text x="2056" y="4036.4" font-size="68.8" letter-spacing="-2.5">60</text>
<text x="2056" y="3924.4" font-size="68.8" letter-spacing="-2.5">80</text>
<text x="2056" y="3812.5" font-size="68.8" letter-spacing="-2.5">100</text>
<text x="2056" y="3700.5" font-size="68.8" letter-spacing="-2.5">120</text>
<text transform="translate(2247.5,3833.5) rotate(-90)" text-anchor="middle" font-size="68.2">Resistivity (<tspan font-family="Liberation Serif, serif">μΩ</tspan> cm)</text>
<defs><clipPath id="insetclip"><rect x="1209.4" y="3590" width="830" height="490"/></clipPath></defs><g clip-path="url(#insetclip)">
<path d="M1238.6,4013.1L1367.2,3932.9M1415.8,3898.0L1548.8,3788.3M1599.9,3758.1L1633.8,3744.5M1691.7,3733.4L1721.4,3733.4M1778.4,3746.5L1814.1,3763.9M1859.9,3800.5L1876.2,3820.8M1908.3,3871.1L1971.3,3998.2" stroke="#000" stroke-width="6.5" fill="none" stroke-linecap="round"/>
<path d="M1213.2,4029.0L1392.6,4003.8M1392.6,4003.8L1572.0,3949.5M1572.0,3949.5L1661.7,3888.5M1661.7,3888.5L1751.4,3797.2M1751.4,3797.2L1841.1,3641.0" stroke="#000" stroke-width="6.5" fill="none"/>
<circle cx="1213.2" cy="4029.0" r="20" fill="#fff" stroke="#000" stroke-width="9"/>
<circle cx="1392.6" cy="3917.0" r="20" fill="#fff" stroke="#000" stroke-width="9"/>
<circle cx="1572.0" cy="3769.2" r="20" fill="#fff" stroke="#000" stroke-width="9"/>
<circle cx="1661.7" cy="3733.4" r="20" fill="#fff" stroke="#000" stroke-width="9"/>
<circle cx="1751.4" cy="3733.4" r="20" fill="#fff" stroke="#000" stroke-width="9"/>
<circle cx="1841.1" cy="3777.1" r="20" fill="#fff" stroke="#000" stroke-width="9"/>
<circle cx="1894.9" cy="3844.2" r="20" fill="#fff" stroke="#000" stroke-width="9"/>
<circle cx="1984.6" cy="4025.1" r="20" fill="#fff" stroke="#000" stroke-width="9"/>
<polygon points="1213.2,4005.4 1234.2,4043.4 1192.2,4043.4" fill="#000" stroke="#000" stroke-width="3" stroke-linejoin="round"/>
<polygon points="1392.6,3980.3 1413.6,4018.3 1371.6,4018.3" fill="#000" stroke="#000" stroke-width="3" stroke-linejoin="round"/>
<polygon points="1572.0,3925.9 1593.0,3963.9 1551.0,3963.9" fill="#000" stroke="#000" stroke-width="3" stroke-linejoin="round"/>
<polygon points="1661.7,3864.9 1682.7,3902.9 1640.7,3902.9" fill="#000" stroke="#000" stroke-width="3" stroke-linejoin="round"/>
<polygon points="1751.4,3773.6 1772.4,3811.6 1730.4,3811.6" fill="#000" stroke="#000" stroke-width="3" stroke-linejoin="round"/>
<polygon points="1841.1,3617.4 1862.1,3655.4 1820.1,3655.4" fill="#000" stroke="#000" stroke-width="3" stroke-linejoin="round"/>
<circle cx="1213.2" cy="4029.0" r="24.2" fill="#000"/>
</g>
<path d="M1213.2,4075V3591" stroke="#000" stroke-width="7.6"/>
<rect x="1228" y="3612" width="313" height="164" fill="#808080"/>
<rect x="1219.4" y="3603" width="311.6" height="162.3" fill="#fff" stroke="#000" stroke-width="5"/>
<line x1="1226" y1="3642.5" x2="1344.7" y2="3642.5" stroke="#000" stroke-width="6.5"/>
<circle cx="1285.2" cy="3642.3" r="20" fill="#fff" stroke="#000" stroke-width="9"/>
<line x1="1226" y1="3716.5" x2="1344.7" y2="3716.5" stroke="#000" stroke-width="6.5"/>
<polygon points="1285.2,3691 1307.5,3729.5 1262.9,3729.5" fill="#000" stroke="#000" stroke-width="3" stroke-linejoin="round"/>
<g font-size="53"><text x="1356" y="3660.5" font-style="italic">B</text><text x="1390" y="3673.5" font-size="34">a</text><text x="1424" y="3660.5">=</text><text x="1466.5" y="3660.5" font-style="italic">B</text><text x="1500" y="3673.5" font-size="34">1</text></g>
<g font-size="53"><text x="1356" y="3734.2" font-style="italic">B</text><text x="1391" y="3747.2" font-size="34">||</text><text x="1424" y="3734.2">=</text><text x="1466.5" y="3734.2" font-style="italic">B</text><text x="1500" y="3747.2" font-size="34">1</text></g>
</svg></body></html>
